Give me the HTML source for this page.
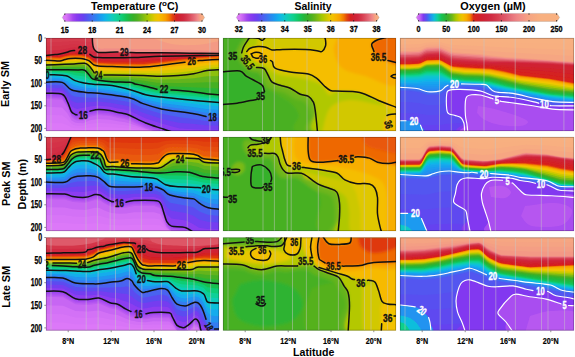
<!DOCTYPE html>
<html><head><meta charset="utf-8"><style>html,body{margin:0;padding:0;background:#fff;width:575px;height:357px;overflow:hidden}svg{display:block}text{font-family:"Liberation Sans",sans-serif}</style></head><body>
<svg width="575" height="357" viewBox="0 0 575 357" font-family="Liberation Sans, sans-serif">
<defs><filter id="bl" x="-5%" y="-5%" width="110%" height="110%"><feGaussianBlur stdDeviation="0.7"/></filter><filter id="bl2" x="-5%" y="-5%" width="110%" height="110%"><feGaussianBlur stdDeviation="1.6"/></filter><filter id="bl3" x="-5%" y="-5%" width="110%" height="110%"><feGaussianBlur stdDeviation="2.5"/></filter></defs>
<rect width="575" height="357" fill="#fff"/>
<text x="91" y="9.6" font-size="10.8" text-anchor="start" font-weight="bold" textLength="87.4" lengthAdjust="spacingAndGlyphs">Temperature (<tspan font-size="8" dy="-3.4">o</tspan><tspan dy="3.4">C)</tspan></text>
<text x="294.5" y="9.6" font-size="10.8" text-anchor="start" font-weight="bold" textLength="37.1" lengthAdjust="spacingAndGlyphs">Salinity</text>
<text x="460.3" y="9.7" font-size="10.8" text-anchor="start" font-weight="bold" textLength="65.4" lengthAdjust="spacingAndGlyphs">Oxygen (µM)</text>
<linearGradient id="g62" x1="62.3" x2="204.6" y1="0" y2="0" gradientUnits="userSpaceOnUse"><stop offset="0.000" stop-color="#de7af8"/><stop offset="0.025" stop-color="#da77f7"/><stop offset="0.050" stop-color="#c160f2"/><stop offset="0.075" stop-color="#a146f0"/><stop offset="0.100" stop-color="#8a3bf0"/><stop offset="0.125" stop-color="#783bf0"/><stop offset="0.150" stop-color="#6543f0"/><stop offset="0.175" stop-color="#5256f0"/><stop offset="0.200" stop-color="#4568f0"/><stop offset="0.225" stop-color="#357bf0"/><stop offset="0.250" stop-color="#248ef0"/><stop offset="0.275" stop-color="#18a0f0"/><stop offset="0.300" stop-color="#12b3ea"/><stop offset="0.325" stop-color="#10c1d6"/><stop offset="0.350" stop-color="#10cbbd"/><stop offset="0.375" stop-color="#10d0a4"/><stop offset="0.400" stop-color="#10d08b"/><stop offset="0.425" stop-color="#10cb6d"/><stop offset="0.450" stop-color="#17c151"/><stop offset="0.475" stop-color="#26b63a"/><stop offset="0.500" stop-color="#38b028"/><stop offset="0.525" stop-color="#4bb022"/><stop offset="0.550" stop-color="#67b51b"/><stop offset="0.575" stop-color="#86be10"/><stop offset="0.600" stop-color="#a5c800"/><stop offset="0.625" stop-color="#c4c800"/><stop offset="0.650" stop-color="#e3c800"/><stop offset="0.675" stop-color="#f4c100"/><stop offset="0.700" stop-color="#f8b200"/><stop offset="0.725" stop-color="#f89f00"/><stop offset="0.750" stop-color="#f27a00"/><stop offset="0.775" stop-color="#e2430e"/><stop offset="0.800" stop-color="#d52020"/><stop offset="0.825" stop-color="#d02132"/><stop offset="0.850" stop-color="#d0273e"/><stop offset="0.875" stop-color="#d5384b"/><stop offset="0.900" stop-color="#dc4f5f"/><stop offset="0.925" stop-color="#e46976"/><stop offset="0.950" stop-color="#f08988"/><stop offset="0.975" stop-color="#f6a882"/><stop offset="1.000" stop-color="#f8b080"/></linearGradient>
<polygon points="62.3,17.6 64.9,13.6 202,13.6 204.6,17.6 202,21.6 64.9,21.6" fill="url(#g62)" stroke="#777" stroke-width="0.4" stroke-opacity="0.6"/>
<line x1="64.8" y1="13.6" x2="64.8" y2="14.9" stroke="#222" stroke-width="0.9"/>
<line x1="64.8" y1="20.3" x2="64.8" y2="21.6" stroke="#222" stroke-width="0.9"/>
<line x1="92.24" y1="13.6" x2="92.24" y2="14.9" stroke="#222" stroke-width="0.9"/>
<line x1="92.24" y1="20.3" x2="92.24" y2="21.6" stroke="#222" stroke-width="0.9"/>
<line x1="119.68" y1="13.6" x2="119.68" y2="14.9" stroke="#222" stroke-width="0.9"/>
<line x1="119.68" y1="20.3" x2="119.68" y2="21.6" stroke="#222" stroke-width="0.9"/>
<line x1="147.12" y1="13.6" x2="147.12" y2="14.9" stroke="#222" stroke-width="0.9"/>
<line x1="147.12" y1="20.3" x2="147.12" y2="21.6" stroke="#222" stroke-width="0.9"/>
<line x1="174.56" y1="13.6" x2="174.56" y2="14.9" stroke="#222" stroke-width="0.9"/>
<line x1="174.56" y1="20.3" x2="174.56" y2="21.6" stroke="#222" stroke-width="0.9"/>
<line x1="202" y1="13.6" x2="202" y2="14.9" stroke="#222" stroke-width="0.9"/>
<line x1="202" y1="20.3" x2="202" y2="21.6" stroke="#222" stroke-width="0.9"/>
<text x="64.8" y="32.6" font-size="9.3" text-anchor="middle" font-weight="bold" textLength="8" lengthAdjust="spacingAndGlyphs" stroke="#000" stroke-width="0.3">15</text>
<text x="92.24" y="32.6" font-size="9.3" text-anchor="middle" font-weight="bold" textLength="8" lengthAdjust="spacingAndGlyphs" stroke="#000" stroke-width="0.3">18</text>
<text x="119.68" y="32.6" font-size="9.3" text-anchor="middle" font-weight="bold" textLength="8" lengthAdjust="spacingAndGlyphs" stroke="#000" stroke-width="0.3">21</text>
<text x="147.12" y="32.6" font-size="9.3" text-anchor="middle" font-weight="bold" textLength="8" lengthAdjust="spacingAndGlyphs" stroke="#000" stroke-width="0.3">24</text>
<text x="174.56" y="32.6" font-size="9.3" text-anchor="middle" font-weight="bold" textLength="8" lengthAdjust="spacingAndGlyphs" stroke="#000" stroke-width="0.3">27</text>
<text x="202" y="32.6" font-size="9.3" text-anchor="middle" font-weight="bold" textLength="8" lengthAdjust="spacingAndGlyphs" stroke="#000" stroke-width="0.3">30</text>
<linearGradient id="g236" x1="236.3" x2="379.2" y1="0" y2="0" gradientUnits="userSpaceOnUse"><stop offset="0.000" stop-color="#de7af8"/><stop offset="0.025" stop-color="#da77f7"/><stop offset="0.050" stop-color="#c160f2"/><stop offset="0.075" stop-color="#a046f0"/><stop offset="0.100" stop-color="#8a3bf0"/><stop offset="0.125" stop-color="#783bf0"/><stop offset="0.150" stop-color="#6543f0"/><stop offset="0.175" stop-color="#5256f0"/><stop offset="0.200" stop-color="#4568f0"/><stop offset="0.225" stop-color="#357bf0"/><stop offset="0.250" stop-color="#248ef0"/><stop offset="0.275" stop-color="#18a0f0"/><stop offset="0.300" stop-color="#12b3ea"/><stop offset="0.325" stop-color="#10c1d6"/><stop offset="0.350" stop-color="#10cbbd"/><stop offset="0.375" stop-color="#10d0a4"/><stop offset="0.400" stop-color="#10d08b"/><stop offset="0.425" stop-color="#10cb6d"/><stop offset="0.450" stop-color="#17c151"/><stop offset="0.475" stop-color="#26b63a"/><stop offset="0.500" stop-color="#38b028"/><stop offset="0.525" stop-color="#4bb022"/><stop offset="0.550" stop-color="#67b51b"/><stop offset="0.575" stop-color="#86be10"/><stop offset="0.600" stop-color="#a5c800"/><stop offset="0.625" stop-color="#c4c800"/><stop offset="0.650" stop-color="#e3c800"/><stop offset="0.675" stop-color="#f4c100"/><stop offset="0.700" stop-color="#f8b200"/><stop offset="0.725" stop-color="#f89f00"/><stop offset="0.750" stop-color="#f27a00"/><stop offset="0.775" stop-color="#e2430e"/><stop offset="0.800" stop-color="#d52020"/><stop offset="0.825" stop-color="#d02132"/><stop offset="0.850" stop-color="#d0273e"/><stop offset="0.875" stop-color="#d5384b"/><stop offset="0.900" stop-color="#dc4f5f"/><stop offset="0.925" stop-color="#e46976"/><stop offset="0.950" stop-color="#f08888"/><stop offset="0.975" stop-color="#f6a882"/><stop offset="1.000" stop-color="#f8b080"/></linearGradient>
<polygon points="236.3,17.4 238.9,13.4 376.6,13.4 379.2,17.4 376.6,21.4 238.9,21.4" fill="url(#g236)" stroke="#777" stroke-width="0.4" stroke-opacity="0.6"/>
<line x1="238.8" y1="13.4" x2="238.8" y2="14.7" stroke="#222" stroke-width="0.9"/>
<line x1="238.8" y1="20.1" x2="238.8" y2="21.4" stroke="#222" stroke-width="0.9"/>
<line x1="261.77" y1="13.4" x2="261.77" y2="14.7" stroke="#222" stroke-width="0.9"/>
<line x1="261.77" y1="20.1" x2="261.77" y2="21.4" stroke="#222" stroke-width="0.9"/>
<line x1="284.74" y1="13.4" x2="284.74" y2="14.7" stroke="#222" stroke-width="0.9"/>
<line x1="284.74" y1="20.1" x2="284.74" y2="21.4" stroke="#222" stroke-width="0.9"/>
<line x1="307.71" y1="13.4" x2="307.71" y2="14.7" stroke="#222" stroke-width="0.9"/>
<line x1="307.71" y1="20.1" x2="307.71" y2="21.4" stroke="#222" stroke-width="0.9"/>
<line x1="330.68" y1="13.4" x2="330.68" y2="14.7" stroke="#222" stroke-width="0.9"/>
<line x1="330.68" y1="20.1" x2="330.68" y2="21.4" stroke="#222" stroke-width="0.9"/>
<line x1="353.65" y1="13.4" x2="353.65" y2="14.7" stroke="#222" stroke-width="0.9"/>
<line x1="353.65" y1="20.1" x2="353.65" y2="21.4" stroke="#222" stroke-width="0.9"/>
<line x1="376.62" y1="13.4" x2="376.62" y2="14.7" stroke="#222" stroke-width="0.9"/>
<line x1="376.62" y1="20.1" x2="376.62" y2="21.4" stroke="#222" stroke-width="0.9"/>
<text x="238.8" y="32.4" font-size="9.3" text-anchor="middle" font-weight="bold" textLength="8" lengthAdjust="spacingAndGlyphs" stroke="#000" stroke-width="0.3">32</text>
<text x="261.77" y="32.4" font-size="9.3" text-anchor="middle" font-weight="bold" textLength="8" lengthAdjust="spacingAndGlyphs" stroke="#000" stroke-width="0.3">33</text>
<text x="284.74" y="32.4" font-size="9.3" text-anchor="middle" font-weight="bold" textLength="8" lengthAdjust="spacingAndGlyphs" stroke="#000" stroke-width="0.3">34</text>
<text x="307.71" y="32.4" font-size="9.3" text-anchor="middle" font-weight="bold" textLength="8" lengthAdjust="spacingAndGlyphs" stroke="#000" stroke-width="0.3">35</text>
<text x="330.68" y="32.4" font-size="9.3" text-anchor="middle" font-weight="bold" textLength="8" lengthAdjust="spacingAndGlyphs" stroke="#000" stroke-width="0.3">36</text>
<text x="353.65" y="32.4" font-size="9.3" text-anchor="middle" font-weight="bold" textLength="8" lengthAdjust="spacingAndGlyphs" stroke="#000" stroke-width="0.3">37</text>
<text x="376.62" y="32.4" font-size="9.3" text-anchor="middle" font-weight="bold" textLength="8" lengthAdjust="spacingAndGlyphs" stroke="#000" stroke-width="0.3">38</text>
<linearGradient id="g416" x1="416.2" x2="559.6" y1="0" y2="0" gradientUnits="userSpaceOnUse"><stop offset="0.000" stop-color="#de7af8"/><stop offset="0.025" stop-color="#c362f2"/><stop offset="0.050" stop-color="#7e39f0"/><stop offset="0.075" stop-color="#4e5af0"/><stop offset="0.100" stop-color="#2390f0"/><stop offset="0.125" stop-color="#10bedb"/><stop offset="0.150" stop-color="#10d099"/><stop offset="0.175" stop-color="#16c255"/><stop offset="0.200" stop-color="#26b63a"/><stop offset="0.225" stop-color="#42b025"/><stop offset="0.250" stop-color="#6db61a"/><stop offset="0.275" stop-color="#a6c800"/><stop offset="0.300" stop-color="#d7c800"/><stop offset="0.325" stop-color="#f3c100"/><stop offset="0.350" stop-color="#f8ad00"/><stop offset="0.375" stop-color="#f38300"/><stop offset="0.400" stop-color="#da2716"/><stop offset="0.425" stop-color="#d52022"/><stop offset="0.450" stop-color="#d1202c"/><stop offset="0.475" stop-color="#d02235"/><stop offset="0.500" stop-color="#d0263c"/><stop offset="0.525" stop-color="#d12c43"/><stop offset="0.550" stop-color="#d5374a"/><stop offset="0.575" stop-color="#d84252"/><stop offset="0.600" stop-color="#dc5060"/><stop offset="0.625" stop-color="#df5b6b"/><stop offset="0.650" stop-color="#e36975"/><stop offset="0.675" stop-color="#e9777e"/><stop offset="0.700" stop-color="#ee8485"/><stop offset="0.725" stop-color="#f18d87"/><stop offset="0.750" stop-color="#f39685"/><stop offset="0.775" stop-color="#f5a083"/><stop offset="0.800" stop-color="#f6a682"/><stop offset="0.825" stop-color="#f7aa81"/><stop offset="0.850" stop-color="#f8ae80"/><stop offset="0.875" stop-color="#f8b080"/><stop offset="0.900" stop-color="#f8b080"/><stop offset="0.925" stop-color="#f8b080"/><stop offset="0.950" stop-color="#f8b080"/><stop offset="0.975" stop-color="#f8b080"/><stop offset="1.000" stop-color="#f8b080"/></linearGradient>
<polygon points="416.2,17.4 418.8,13.4 557,13.4 559.6,17.4 557,21.4 418.8,21.4" fill="url(#g416)" stroke="#777" stroke-width="0.4" stroke-opacity="0.6"/>
<line x1="418.6" y1="13.4" x2="418.6" y2="14.7" stroke="#222" stroke-width="0.9"/>
<line x1="418.6" y1="20.1" x2="418.6" y2="21.4" stroke="#222" stroke-width="0.9"/>
<line x1="446.2" y1="13.4" x2="446.2" y2="14.7" stroke="#222" stroke-width="0.9"/>
<line x1="446.2" y1="20.1" x2="446.2" y2="21.4" stroke="#222" stroke-width="0.9"/>
<line x1="473.8" y1="13.4" x2="473.8" y2="14.7" stroke="#222" stroke-width="0.9"/>
<line x1="473.8" y1="20.1" x2="473.8" y2="21.4" stroke="#222" stroke-width="0.9"/>
<line x1="501.4" y1="13.4" x2="501.4" y2="14.7" stroke="#222" stroke-width="0.9"/>
<line x1="501.4" y1="20.1" x2="501.4" y2="21.4" stroke="#222" stroke-width="0.9"/>
<line x1="529" y1="13.4" x2="529" y2="14.7" stroke="#222" stroke-width="0.9"/>
<line x1="529" y1="20.1" x2="529" y2="21.4" stroke="#222" stroke-width="0.9"/>
<line x1="556.6" y1="13.4" x2="556.6" y2="14.7" stroke="#222" stroke-width="0.9"/>
<line x1="556.6" y1="20.1" x2="556.6" y2="21.4" stroke="#222" stroke-width="0.9"/>
<text x="418.6" y="32.4" font-size="9.3" text-anchor="middle" font-weight="bold" textLength="4" lengthAdjust="spacingAndGlyphs" stroke="#000" stroke-width="0.3">0</text>
<text x="446.2" y="32.4" font-size="9.3" text-anchor="middle" font-weight="bold" textLength="8" lengthAdjust="spacingAndGlyphs" stroke="#000" stroke-width="0.3">50</text>
<text x="473.8" y="32.4" font-size="9.3" text-anchor="middle" font-weight="bold" textLength="12" lengthAdjust="spacingAndGlyphs" stroke="#000" stroke-width="0.3">100</text>
<text x="501.4" y="32.4" font-size="9.3" text-anchor="middle" font-weight="bold" textLength="12" lengthAdjust="spacingAndGlyphs" stroke="#000" stroke-width="0.3">150</text>
<text x="529" y="32.4" font-size="9.3" text-anchor="middle" font-weight="bold" textLength="12" lengthAdjust="spacingAndGlyphs" stroke="#000" stroke-width="0.3">200</text>
<text x="556.6" y="32.4" font-size="9.3" text-anchor="middle" font-weight="bold" textLength="12" lengthAdjust="spacingAndGlyphs" stroke="#000" stroke-width="0.3">250</text>
<clipPath id="c0"><rect x="46" y="38" width="173" height="93"/></clipPath>
<g clip-path="url(#c0)">
<g filter="url(#bl)">
<rect x="44" y="36" width="177" height="97" fill="#d73e4e"/>
<polygon points="45.0,38.0 220.0,38.0 220.0,136.0 45.0,136.0" fill="#d63b4d"/>
<polygon points="45.0,42.4 60.0,42.0 70.5,41.2 74.5,41.1 89.5,42.0 94.0,42.8 98.5,42.9 133.0,42.9 160.0,42.5 220.0,42.3 220.0,136.0 45.0,136.0" fill="#d43649"/>
<polygon points="45.0,46.7 60.0,46.0 67.0,45.1 70.5,44.4 74.5,44.2 89.5,46.1 94.0,47.5 98.5,47.8 133.0,47.8 160.0,47.1 220.0,46.6 220.0,136.0 45.0,136.0" fill="#d33045"/>
<polygon points="45.0,51.0 60.0,50.1 67.0,48.7 70.5,47.7 74.5,47.3 89.5,50.1 94.0,52.3 98.5,52.7 110.0,52.8 133.0,52.6 160.0,51.7 220.0,51.0 220.0,136.0 45.0,136.0" fill="#d12b42"/>
<polygon points="45.0,55.4 60.0,54.1 67.0,52.3 70.5,50.9 74.5,50.4 89.5,54.2 90.0,54.4 93.5,56.9 94.0,57.0 98.5,57.6 110.0,57.8 133.0,57.5 160.0,56.2 220.0,55.3 220.0,136.0 45.0,136.0" fill="#d0263b"/>
<polygon points="45.0,55.8 60.0,55.0 67.0,53.2 70.5,52.0 74.5,51.6 81.0,52.9 89.0,55.0 90.0,55.4 93.5,58.0 98.5,58.9 110.0,59.2 133.0,59.1 143.5,58.7 160.0,57.7 175.0,57.0 198.0,56.1 220.0,55.5 220.0,136.0 45.0,136.0" fill="#d02031"/>
<polygon points="45.0,56.2 60.0,56.0 70.5,53.1 74.5,52.9 81.0,53.7 85.0,54.6 89.5,56.1 94.0,59.4 98.0,60.2 112.0,60.6 133.0,60.6 143.5,60.4 198.0,56.6 220.0,55.8 220.0,136.0 45.0,136.0" fill="#d42022"/>
<polygon points="45.0,56.7 60.0,56.9 65.0,55.4 70.5,54.2 75.0,54.1 81.0,54.5 85.0,55.3 89.5,57.0 93.5,60.3 94.0,60.5 98.0,61.5 112.0,62.0 143.5,62.2 198.0,57.0 220.0,56.0 220.0,136.0 45.0,136.0" fill="#dc2f14"/>
<polygon points="45.0,57.1 60.0,57.8 65.0,56.3 70.5,55.3 81.0,55.3 84.5,56.0 89.0,57.6 93.5,61.4 98.0,62.7 112.0,63.4 143.5,63.9 160.0,62.2 175.0,60.2 198.0,57.5 220.0,56.3 220.0,136.0 45.0,136.0" fill="#e85708"/>
<polygon points="45.0,57.9 60.0,58.6 65.0,57.1 70.5,56.1 81.0,56.1 84.5,56.8 89.0,58.4 93.5,62.2 98.0,63.5 112.0,64.2 143.5,64.7 160.0,63.0 175.0,61.0 198.0,58.3 220.0,57.1 220.0,136.0 45.0,136.0" fill="#f07300"/>
<polygon points="45.0,58.7 60.0,59.4 65.0,57.9 70.5,56.9 81.0,56.9 84.5,57.6 89.0,59.2 93.5,63.0 98.0,64.3 112.0,65.0 143.5,65.5 160.0,63.8 175.0,61.8 198.0,59.1 220.0,57.9 220.0,136.0 45.0,136.0" fill="#f48500"/>
<polygon points="45.0,59.5 60.0,60.2 65.0,58.7 70.5,57.7 81.0,57.7 84.5,58.4 89.0,60.0 93.5,63.8 98.0,65.1 112.0,65.8 143.5,66.3 160.0,64.6 175.0,62.6 198.0,59.9 220.0,58.7 220.0,136.0 45.0,136.0" fill="#f69700"/>
<polygon points="45.0,60.3 60.0,61.0 65.0,59.5 70.5,58.5 81.0,58.5 84.5,59.2 89.0,60.8 93.5,64.6 98.0,65.9 112.0,66.6 143.5,67.1 160.0,65.4 175.0,63.4 198.0,60.7 220.0,59.5 220.0,136.0 45.0,136.0" fill="#f8ac00"/>
<polygon points="45.0,61.5 60.0,61.9 65.0,60.7 70.5,59.9 81.0,59.7 84.5,60.2 89.0,62.1 94.0,66.8 98.5,68.1 112.0,68.7 143.5,69.2 160.0,68.1 192.0,64.6 198.0,63.7 207.0,62.7 220.0,62.0 220.0,136.0 45.0,136.0" fill="#f4c000"/>
<polygon points="45.0,62.7 60.0,62.8 65.0,61.9 70.5,61.3 81.0,61.0 84.5,61.2 89.0,63.3 94.0,68.7 98.5,70.3 104.0,70.6 112.0,70.8 143.5,71.3 160.0,70.8 178.0,69.3 193.5,67.5 207.0,65.3 220.0,64.5 220.0,136.0 45.0,136.0" fill="#dcc800"/>
<polygon points="45.0,63.9 60.0,63.6 70.5,62.7 84.5,62.2 89.0,64.6 94.0,70.6 94.5,70.9 98.5,72.4 104.0,72.8 112.0,73.0 160.0,73.6 178.0,72.5 193.5,70.7 207.0,67.9 220.0,67.1 220.0,136.0 45.0,136.0" fill="#b4c800"/>
<polygon points="45.0,65.1 74.0,63.9 84.5,63.2 89.0,65.9 92.5,70.3 94.0,72.5 94.5,72.9 98.5,74.5 104.0,75.0 143.5,75.5 160.0,76.3 178.0,75.6 193.5,73.8 207.0,70.5 220.0,69.6 220.0,136.0 45.0,136.0" fill="#8cc00c"/>
<polygon points="45.0,66.3 84.5,65.0 89.0,68.1 94.0,74.2 94.5,74.5 98.5,75.9 104.0,76.5 130.0,77.1 143.5,78.0 157.0,79.4 160.0,79.6 178.0,79.3 193.5,78.3 207.0,76.3 220.0,75.9 220.0,136.0 45.0,136.0" fill="#64b41c"/>
<polygon points="45.0,67.4 84.5,66.7 89.0,70.3 92.5,74.5 94.0,75.8 98.5,77.3 104.0,77.9 112.0,78.4 130.0,78.8 135.0,79.6 142.5,80.4 157.0,82.7 178.0,83.0 193.5,82.8 207.0,82.2 220.0,82.2 220.0,136.0 45.0,136.0" fill="#44b024"/>
<polygon points="45.0,68.6 78.0,68.3 84.5,68.4 85.0,68.7 89.0,72.6 92.5,76.7 94.5,77.7 100.5,79.1 112.0,80.0 130.0,80.6 135.0,81.8 142.5,82.9 157.0,85.9 192.5,87.3 208.5,88.1 220.0,88.5 220.0,136.0 45.0,136.0" fill="#2cb434"/>
<polygon points="45.0,69.8 78.0,69.9 84.5,70.2 85.0,70.5 89.0,74.8 92.5,78.8 100.5,80.5 112.0,81.7 130.0,82.3 135.0,83.9 142.5,85.4 150.0,87.5 157.0,89.2 180.0,90.6 192.5,91.7 208.5,94.0 220.0,94.8 220.0,136.0 45.0,136.0" fill="#18c050"/>
<polygon points="45.0,71.1 54.0,71.0 67.5,71.4 75.0,72.6 84.5,73.4 89.0,77.0 92.5,80.1 93.5,80.4 100.5,81.6 130.0,84.2 135.0,85.7 142.5,87.5 150.0,89.5 157.0,91.0 180.0,92.7 192.5,93.8 208.5,95.9 220.0,96.8 220.0,136.0 45.0,136.0" fill="#10cc74"/>
<polygon points="45.0,72.4 54.0,72.2 62.0,72.5 67.5,73.0 75.0,75.2 84.5,76.6 92.5,81.4 93.0,81.6 100.5,82.6 112.0,83.7 130.0,86.0 145.5,90.5 157.0,92.8 192.5,95.9 208.5,97.8 220.0,98.7 220.0,136.0 45.0,136.0" fill="#10d098"/>
<polygon points="45.0,73.7 54.0,73.5 62.0,73.9 67.5,74.6 75.0,77.9 84.5,79.7 92.5,82.8 100.5,83.7 112.0,84.6 130.0,87.9 145.5,92.6 157.0,94.6 208.0,99.6 220.0,100.6 220.0,136.0 45.0,136.0" fill="#10ccb8"/>
<polygon points="45.0,75.0 54.0,74.7 62.0,75.3 67.5,76.2 75.0,80.6 86.0,83.3 93.5,84.2 112.0,85.6 132.0,90.2 146.0,94.8 161.5,97.1 185.0,99.5 220.0,102.6 220.0,136.0 45.0,136.0" fill="#10c0d8"/>
<polygon points="45.0,76.8 54.0,76.6 62.0,77.1 67.5,78.8 71.5,81.3 75.0,83.0 86.0,85.6 93.0,86.4 112.0,88.0 130.0,91.8 145.5,97.1 161.0,100.0 206.0,105.2 220.0,106.3 220.0,136.0 45.0,136.0" fill="#14acec"/>
<polygon points="45.0,78.6 54.0,78.5 62.0,78.8 67.5,81.4 71.5,84.1 75.0,85.5 86.0,87.8 99.0,89.0 112.0,90.4 130.0,93.8 142.5,98.6 145.5,99.5 161.5,103.0 192.5,106.9 206.0,109.0 220.0,110.0 220.0,136.0 45.0,136.0" fill="#2094f0"/>
<polygon points="45.0,80.4 62.0,80.6 67.5,84.0 71.5,86.9 75.0,87.9 86.0,90.1 98.5,91.1 112.0,92.8 130.0,95.9 142.5,101.0 146.0,102.0 161.5,106.0 192.5,110.2 206.0,112.8 220.0,113.7 220.0,136.0 45.0,136.0" fill="#347cf0"/>
<polygon points="45.0,82.2 62.0,82.4 71.5,89.7 86.0,92.4 99.0,93.3 130.0,97.9 142.5,103.4 161.5,108.9 192.5,113.6 206.0,116.6 220.0,117.4 220.0,136.0 45.0,136.0" fill="#4864f0"/>
<polygon points="45.0,85.0 62.0,85.3 62.5,85.6 67.5,90.5 71.5,95.2 75.0,96.4 77.0,96.8 86.0,97.4 99.0,97.4 110.0,98.9 125.0,101.3 130.0,102.3 142.5,107.9 161.5,113.8 180.0,117.3 192.5,118.7 206.0,120.9 220.0,121.6 220.0,136.0 45.0,136.0" fill="#5c4cf0"/>
<polygon points="45.0,87.8 62.0,88.3 62.5,88.6 67.5,94.4 71.5,100.7 75.0,102.3 77.0,102.8 98.5,101.5 110.0,102.8 125.0,105.5 130.0,106.7 142.5,112.4 146.0,113.8 161.5,118.7 170.5,120.9 180.0,122.9 192.5,123.8 206.0,125.3 220.0,125.7 220.0,136.0 45.0,136.0" fill="#743cf0"/>
<polygon points="45.0,90.5 62.0,91.2 62.5,91.6 67.5,98.2 71.5,106.2 75.0,108.3 77.0,108.9 90.0,106.6 98.5,105.5 110.0,106.7 118.0,108.4 125.0,109.6 130.0,111.1 146.0,118.4 161.5,123.6 170.5,126.1 180.0,128.4 206.0,129.7 220.0,129.8 220.0,136.0 45.0,136.0" fill="#8c3cf0"/>
<polygon points="45.0,93.3 62.0,94.2 62.5,94.6 67.5,102.1 71.5,111.7 75.0,114.3 77.0,114.9 90.0,111.2 98.5,109.6 110.0,110.6 118.0,112.5 125.0,113.8 130.0,115.5 146.0,123.1 170.5,131.4 180.0,134.0 220.0,134.0 220.0,136.0 45.0,136.0" fill="#9d44f0"/>
<polygon points="45.0,94.7 62.0,95.6 62.5,96.0 67.5,103.5 71.5,113.0 75.0,115.7 77.0,116.3 83.0,115.1 90.0,112.6 98.5,111.0 110.0,112.0 118.0,113.9 125.0,115.2 130.0,116.9 146.0,124.5 170.5,132.8 180.0,135.4 220.0,135.4 220.0,136.0 45.0,136.0" fill="#a74bf0"/>
<polygon points="45.0,96.0 62.0,96.9 62.5,97.4 67.5,104.9 71.5,114.4 75.0,117.0 77.0,117.7 83.0,116.9 90.0,114.0 98.5,112.4 110.0,113.3 118.0,115.2 125.0,116.5 130.0,118.2 146.0,125.9 170.5,134.2 180.0,136.8 220.0,136.8 220.0,136.0 45.0,136.0" fill="#b153f0"/>
<polygon points="45.0,97.4 62.0,98.3 62.5,98.8 67.5,106.2 71.5,115.8 75.0,118.4 77.0,119.0 83.0,118.8 90.0,115.3 98.5,113.8 110.0,114.7 118.0,116.6 125.0,117.9 130.0,119.6 146.0,127.2 170.5,135.6 180.0,138.1 220.0,138.1 220.0,136.0 45.0,136.0" fill="#bb5bf1"/>
<polygon points="45.0,98.8 62.0,99.7 62.5,100.1 67.5,107.6 71.5,117.2 75.0,119.8 77.0,120.4 83.0,120.7 90.0,116.7 98.5,115.1 110.0,116.1 118.0,118.0 125.0,119.3 130.0,121.0 146.0,128.6 170.5,136.9 180.0,139.5 220.0,139.5 220.0,136.0 45.0,136.0" fill="#c766f3"/>
<polygon points="45.0,106.8 62.0,107.5 62.5,107.9 67.5,113.5 71.5,120.6 75.0,122.6 77.0,123.1 83.0,123.3 90.0,120.3 98.5,119.1 110.0,119.8 118.0,121.2 125.0,122.2 130.0,123.5 145.5,129.1 153.0,131.0 170.5,136.9 180.0,139.5 220.0,139.5 220.0,136.0 45.0,136.0" fill="#d371f6"/>
<polygon points="45.0,114.9 62.0,115.3 67.5,119.3 71.5,124.1 75.0,125.4 77.0,125.7 83.0,125.8 90.0,123.8 98.5,123.1 110.0,123.5 125.0,125.2 130.0,126.0 145.5,129.7 153.0,131.0 170.5,136.9 180.0,139.5 220.0,139.5 220.0,136.0 45.0,136.0" fill="#d875f7"/>
<polygon points="45.0,123.0 62.0,123.2 67.5,125.2 71.5,127.5 75.0,128.2 77.0,128.3 83.0,128.4 90.0,127.4 98.5,127.0 110.0,127.3 130.0,128.5 145.5,130.4 152.5,131.0 170.5,136.9 180.0,139.5 220.0,139.5 220.0,136.0 45.0,136.0" fill="#dc78f8"/>
<path d="M92.30,36.00 C92.33,37.00 92.38,40.33 92.50,42.00 C92.62,43.67 92.73,44.82 93.00,46.00 C93.27,47.18 93.45,48.12 94.10,49.10 C94.75,50.08 95.92,51.32 96.90,51.90 C97.88,52.48 97.82,52.55 100.00,52.60 C102.18,52.65 103.33,52.18 110.00,52.20 C116.67,52.22 131.67,52.60 140.00,52.70 C148.33,52.80 151.67,52.72 160.00,52.80 C168.33,52.88 179.83,53.07 190.00,53.20 C200.17,53.33 215.83,56.47 221.00,53.60 C226.17,50.73 221.00,38.93 221.00,36.00 Z" fill="#f18c87"/>
<path d="M95.00,36.00 C95.08,37.00 95.17,40.33 95.50,42.00 C95.83,43.67 96.25,44.92 97.00,46.00 C97.75,47.08 97.83,48.08 100.00,48.50 C102.17,48.92 103.33,48.42 110.00,48.50 C116.67,48.58 131.67,48.87 140.00,49.00 C148.33,49.13 151.67,49.17 160.00,49.30 C168.33,49.43 179.83,49.68 190.00,49.80 C200.17,49.92 215.83,52.30 221.00,50.00 C226.17,47.70 221.00,38.33 221.00,36.00 Z" fill="#f49a84"/>
<path d="M150.00,36.00 C151.33,36.67 153.83,38.58 158.00,40.00 C162.17,41.42 168.83,43.67 175.00,44.50 C181.17,45.33 189.17,45.25 195.00,45.00 C200.83,44.75 205.67,43.83 210.00,43.00 C214.33,42.17 219.17,41.17 221.00,40.00 C222.83,38.83 221.00,36.67 221.00,36.00 Z" fill="#f6a582"/>
</g>
<line x1="51" y1="38" x2="51" y2="131" stroke="#c8c8c8" stroke-opacity="0.65" stroke-width="0.75"/>
<line x1="85.5" y1="38" x2="85.5" y2="131" stroke="#c8c8c8" stroke-opacity="0.65" stroke-width="0.75"/>
<line x1="97.3" y1="38" x2="97.3" y2="131" stroke="#c8c8c8" stroke-opacity="0.65" stroke-width="0.75"/>
<line x1="130" y1="38" x2="130" y2="131" stroke="#c8c8c8" stroke-opacity="0.65" stroke-width="0.75"/>
<line x1="161.2" y1="38" x2="161.2" y2="131" stroke="#c8c8c8" stroke-opacity="0.65" stroke-width="0.75"/>
<line x1="209.9" y1="38" x2="209.9" y2="131" stroke="#c8c8c8" stroke-opacity="0.65" stroke-width="0.75"/>
<path d="M46.00,55.40 C47.50,55.27 52.67,54.82 55.00,54.60 C57.33,54.38 58.00,54.48 60.00,54.10 C62.00,53.72 65.27,52.83 67.00,52.30 C68.73,51.77 69.13,51.22 70.40,50.90 C71.67,50.58 73.90,50.48 74.60,50.40" fill="none" stroke="#111" stroke-width="1.5" stroke-linecap="round" stroke-linejoin="round"/>
<path d="M89.90,54.30 C90.53,54.75 92.32,56.45 93.70,57.00 C95.08,57.55 95.48,57.47 98.20,57.60 C100.92,57.73 104.20,57.82 110.00,57.80 C115.80,57.78 124.67,57.77 133.00,57.50 C141.33,57.23 150.50,56.48 160.00,56.20 C169.50,55.92 180.00,55.95 190.00,55.80 C200.00,55.65 215.00,55.38 220.00,55.30" fill="none" stroke="#111" stroke-width="1.5" stroke-linecap="round" stroke-linejoin="round"/>
<path d="M92.30,37.00 C92.33,37.83 92.38,40.50 92.50,42.00 C92.62,43.50 92.73,44.82 93.00,46.00 C93.27,47.18 93.45,48.12 94.10,49.10 C94.75,50.08 95.92,51.32 96.90,51.90 C97.88,52.48 97.82,52.55 100.00,52.60 C102.18,52.65 107.00,52.28 110.00,52.20 C113.00,52.12 116.67,52.12 118.00,52.10" fill="none" stroke="#111" stroke-width="1.5" stroke-linecap="round" stroke-linejoin="round"/>
<path d="M130.00,52.40 C131.67,52.45 135.00,52.63 140.00,52.70 C145.00,52.77 151.67,52.72 160.00,52.80 C168.33,52.88 180.00,53.07 190.00,53.20 C200.00,53.33 215.00,53.53 220.00,53.60" fill="none" stroke="#111" stroke-width="1.5" stroke-linecap="round" stroke-linejoin="round"/>
<path d="M46.00,60.30 C47.50,60.38 52.67,60.68 55.00,60.80 C57.33,60.92 58.33,61.22 60.00,61.00 C61.67,60.78 63.27,59.92 65.00,59.50 C66.73,59.08 67.75,58.67 70.40,58.50 C73.05,58.33 78.52,58.38 80.90,58.50 C83.28,58.62 83.32,58.80 84.70,59.20 C86.08,59.60 87.70,59.97 89.20,60.90 C90.70,61.83 92.20,63.95 93.70,64.80 C95.20,65.65 95.15,65.70 98.20,66.00 C101.25,66.30 104.43,66.42 112.00,66.60 C119.57,66.78 135.60,67.30 143.60,67.10 C151.60,66.90 154.77,66.02 160.00,65.40 C165.23,64.78 170.83,63.93 175.00,63.40 C179.17,62.87 183.33,62.40 185.00,62.20" fill="none" stroke="#111" stroke-width="1.5" stroke-linecap="round" stroke-linejoin="round"/>
<path d="M198.00,60.70 C199.17,60.62 201.33,60.40 205.00,60.20 C208.67,60.00 217.50,59.62 220.00,59.50" fill="none" stroke="#111" stroke-width="1.5" stroke-linecap="round" stroke-linejoin="round"/>
<path d="M46.00,65.10 C48.33,65.00 55.33,64.70 60.00,64.50 C64.67,64.30 69.88,64.12 74.00,63.90 C78.12,63.68 82.17,62.85 84.70,63.20 C87.23,63.55 87.88,64.80 89.20,66.00 C90.52,67.20 91.77,69.27 92.60,70.40 C93.43,71.53 93.93,72.40 94.20,72.80" fill="none" stroke="#111" stroke-width="1.5" stroke-linecap="round" stroke-linejoin="round"/>
<path d="M104.00,75.00 C105.33,75.02 105.40,75.02 112.00,75.10 C118.60,75.18 135.60,75.30 143.60,75.50 C151.60,75.70 154.27,76.28 160.00,76.30 C165.73,76.32 172.40,76.02 178.00,75.60 C183.60,75.18 188.77,74.65 193.60,73.80 C198.43,72.95 202.60,71.20 207.00,70.50 C211.40,69.80 217.83,69.75 220.00,69.60" fill="none" stroke="#111" stroke-width="1.5" stroke-linecap="round" stroke-linejoin="round"/>
<path d="M46.00,69.80 C48.33,69.80 54.67,69.78 60.00,69.80 C65.33,69.82 73.88,69.83 78.00,69.90 C82.12,69.97 82.83,69.35 84.70,70.20 C86.57,71.05 87.88,73.55 89.20,75.00 C90.52,76.45 90.73,77.98 92.60,78.90 C94.47,79.82 97.17,80.03 100.40,80.50 C103.63,80.97 107.07,81.40 112.00,81.70 C116.93,82.00 126.17,81.93 130.00,82.30 C133.83,82.67 132.92,83.38 135.00,83.90 C137.08,84.42 140.00,84.80 142.50,85.40 C145.00,86.00 147.58,86.87 150.00,87.50 C152.42,88.13 155.83,88.92 157.00,89.20" fill="none" stroke="#111" stroke-width="1.5" stroke-linecap="round" stroke-linejoin="round"/>
<path d="M171.00,90.00 C172.50,90.10 176.40,90.32 180.00,90.60 C183.60,90.88 187.88,91.13 192.60,91.70 C197.32,92.27 203.73,93.48 208.30,94.00 C212.87,94.52 218.05,94.67 220.00,94.80" fill="none" stroke="#111" stroke-width="1.5" stroke-linecap="round" stroke-linejoin="round"/>
<path d="M50.00,74.80 C50.67,74.78 51.95,74.62 54.00,74.70 C56.05,74.78 60.02,75.05 62.30,75.30 C64.58,75.55 65.58,75.32 67.70,76.20 C69.82,77.08 71.95,79.42 75.00,80.60 C78.05,81.78 82.97,82.70 86.00,83.30 C89.03,83.90 88.87,83.82 93.20,84.20 C97.53,84.58 105.53,84.60 112.00,85.60 C118.47,86.60 126.38,88.67 132.00,90.20 C137.62,91.73 140.82,93.65 145.70,94.80 C150.58,95.95 154.78,96.32 161.30,97.10 C167.82,97.88 175.02,98.58 184.80,99.50 C194.58,100.42 214.13,102.08 220.00,102.60" fill="none" stroke="#111" stroke-width="1.5" stroke-linecap="round" stroke-linejoin="round"/>
<path d="M46.00,82.20 C48.70,82.23 57.98,81.15 62.20,82.40 C66.42,83.65 67.33,88.03 71.30,89.70 C75.27,91.37 81.43,91.80 86.00,92.40 C90.57,93.00 91.37,92.38 98.70,93.30 C106.03,94.22 122.70,96.22 130.00,97.90 C137.30,99.58 137.28,101.57 142.50,103.40 C147.72,105.23 152.95,107.20 161.30,108.90 C169.65,110.60 185.15,112.32 192.60,113.60 C200.05,114.88 203.77,116.10 206.00,116.60" fill="none" stroke="#111" stroke-width="1.5" stroke-linecap="round" stroke-linejoin="round"/>
<path d="M46.00,93.30 C48.70,93.45 58.58,92.68 62.20,94.20 C65.82,95.72 66.18,99.52 67.70,102.40 C69.22,105.28 70.08,109.52 71.30,111.50 C72.52,113.48 74.05,113.73 75.00,114.30 C75.95,114.87 76.67,114.80 77.00,114.90" fill="none" stroke="#111" stroke-width="1.5" stroke-linecap="round" stroke-linejoin="round"/>
<path d="M90.00,111.20 C91.45,110.93 95.37,109.70 98.70,109.60 C102.03,109.50 106.78,110.12 110.00,110.60 C113.22,111.08 115.50,111.97 118.00,112.50 C120.50,113.03 123.00,113.30 125.00,113.80 C127.00,114.30 126.55,113.97 130.00,115.50 C133.45,117.03 140.48,120.85 145.70,123.00 C150.92,125.15 157.13,126.98 161.30,128.40 C165.47,129.82 167.58,130.57 170.70,131.50 C173.82,132.43 178.45,133.58 180.00,134.00" fill="none" stroke="#111" stroke-width="1.5" stroke-linecap="round" stroke-linejoin="round"/>
<text x="82.4" y="54.205" font-size="11" fill="#111" stroke="#111" stroke-width="0.35" text-anchor="middle" font-weight="bold" textLength="9.2" lengthAdjust="spacingAndGlyphs">28</text>
<text x="124.2" y="56.305" font-size="11" fill="#111" stroke="#111" stroke-width="0.35" text-anchor="middle" font-weight="bold" textLength="8.6" lengthAdjust="spacingAndGlyphs">29</text>
<text x="191.8" y="65.105" font-size="11" fill="#111" stroke="#111" stroke-width="0.35" text-anchor="middle" font-weight="bold" textLength="8.4" lengthAdjust="spacingAndGlyphs">26</text>
<text x="98.4" y="78.905" font-size="11" fill="#111" stroke="#111" stroke-width="0.35" text-anchor="middle" font-weight="bold" textLength="7.6" lengthAdjust="spacingAndGlyphs">24</text>
<text x="164" y="93.405" font-size="11" fill="#111" stroke="#111" stroke-width="0.35" text-anchor="middle" font-weight="bold" textLength="8.6" lengthAdjust="spacingAndGlyphs">22</text>
<text x="212.6" y="120.605" font-size="11" fill="#111" stroke="#111" stroke-width="0.35" text-anchor="middle" font-weight="bold" textLength="8.6" lengthAdjust="spacingAndGlyphs">18</text>
<text x="83.2" y="119.105" font-size="11" fill="#111" stroke="#111" stroke-width="0.35" text-anchor="middle" font-weight="bold" textLength="9.1" lengthAdjust="spacingAndGlyphs">16</text>
<text x="47.4" y="78.905" font-size="11" fill="#111" stroke="#111" stroke-width="0.35" text-anchor="middle" font-weight="bold" textLength="4.2" lengthAdjust="spacingAndGlyphs">0</text>
</g>
<clipPath id="c1"><rect x="46" y="137" width="173" height="94"/></clipPath>
<g clip-path="url(#c1)">
<g filter="url(#bl)">
<rect x="44" y="135" width="177" height="98" fill="#d6394b"/>
<polygon points="45.0,137.0 220.0,137.0 220.0,236.0 45.0,236.0" fill="#d5374a"/>
<polygon points="45.0,142.7 56.0,142.4 62.0,141.4 64.0,140.8 71.0,137.0 220.0,137.0 220.0,236.0 45.0,236.0" fill="#d43247"/>
<polygon points="45.0,148.3 56.0,147.8 62.0,145.8 64.0,144.5 67.5,141.0 71.0,137.0 220.0,137.0 220.0,236.0 45.0,236.0" fill="#d22e44"/>
<polygon points="45.0,153.9 56.0,153.2 62.0,150.1 64.0,148.2 67.5,143.0 71.0,137.0 220.0,137.0 220.0,236.0 45.0,236.0" fill="#d12a41"/>
<polygon points="45.0,159.6 56.0,158.6 62.0,154.5 64.0,152.0 67.5,145.0 71.0,137.0 220.0,137.0 220.0,236.0 45.0,236.0" fill="#d0263c"/>
<polygon points="45.0,160.0 56.0,159.0 62.0,154.9 64.0,152.5 67.5,145.6 71.0,137.6 72.5,137.0 220.0,137.0 220.0,236.0 45.0,236.0" fill="#d02133"/>
<polygon points="45.0,160.4 56.0,159.4 62.0,155.4 64.0,153.0 67.5,146.2 70.5,139.0 71.0,138.1 72.5,137.0 220.0,137.0 220.0,236.0 45.0,236.0" fill="#d32027"/>
<polygon points="45.0,160.8 56.0,159.8 62.0,155.9 64.0,153.5 67.5,146.9 70.5,139.5 72.5,137.0 220.0,137.0 220.0,236.0 45.0,236.0" fill="#d7201a"/>
<polygon points="45.0,161.2 56.0,160.2 62.0,156.3 64.0,154.0 67.5,147.5 70.5,140.0 72.5,137.0 220.0,137.0 220.0,236.0 45.0,236.0" fill="#df3611"/>
<polygon points="45.0,161.2 56.0,160.2 62.0,157.1 64.0,155.3 67.5,149.1 70.5,142.2 71.0,141.5 72.5,139.6 75.5,139.2 80.0,139.0 97.5,139.0 101.5,139.5 104.0,140.0 107.0,141.8 109.5,142.6 118.0,142.5 131.5,142.9 150.5,143.0 157.0,142.8 159.0,142.6 162.5,141.5 166.5,140.7 172.5,140.4 189.5,140.5 197.5,140.9 203.5,141.7 220.0,142.1 220.0,236.0 45.0,236.0" fill="#e2420e"/>
<polygon points="45.0,161.2 56.0,160.2 62.0,157.9 64.0,156.6 67.5,150.8 70.5,144.3 72.5,142.2 76.0,141.4 80.0,141.1 98.0,141.1 101.5,141.9 104.0,143.0 107.0,146.6 109.0,148.0 109.5,148.1 118.0,148.0 131.5,148.8 150.5,148.9 157.0,148.6 159.0,148.1 162.5,146.0 166.5,144.3 172.5,143.8 189.5,143.9 197.5,144.7 203.5,146.4 220.0,147.1 220.0,236.0 45.0,236.0" fill="#e64e0a"/>
<polygon points="45.0,161.2 56.0,160.2 62.0,158.7 64.0,157.9 67.5,152.4 70.5,146.5 71.0,145.9 72.5,144.8 75.5,143.7 80.0,143.1 86.0,142.9 97.5,142.9 98.0,143.1 101.5,144.4 104.0,145.9 107.0,151.4 109.0,153.4 109.5,153.6 118.0,153.5 131.5,154.8 150.5,154.9 157.0,154.3 159.0,153.6 162.5,150.4 166.5,148.0 172.5,147.1 189.5,147.4 197.5,148.6 203.5,151.1 220.0,152.1 220.0,236.0 45.0,236.0" fill="#e95a07"/>
<polygon points="45.0,161.2 58.0,160.0 64.0,159.2 67.5,154.0 70.5,148.7 71.0,148.2 76.0,145.8 80.0,145.1 85.5,144.9 97.5,144.9 101.5,146.8 104.0,148.9 107.0,156.2 109.0,158.9 109.5,159.2 118.0,159.0 131.5,160.7 150.5,160.9 157.0,160.1 159.0,159.2 162.5,154.9 166.5,151.7 172.5,150.5 189.5,150.8 197.5,152.5 203.5,155.8 220.0,157.2 220.0,236.0 45.0,236.0" fill="#ef6c01"/>
<polygon points="45.0,161.7 58.0,160.8 64.0,159.9 67.5,154.8 70.5,149.4 71.0,148.9 76.0,146.5 80.0,145.8 85.5,145.7 97.5,145.7 101.5,147.6 104.0,149.7 107.0,157.0 109.0,159.7 109.5,159.9 118.0,159.8 131.5,161.4 150.5,161.6 157.0,160.9 159.0,159.9 162.5,155.7 166.5,152.4 172.5,151.3 189.5,151.6 197.5,153.2 203.5,156.6 220.0,157.9 220.0,236.0 45.0,236.0" fill="#f27c00"/>
<polygon points="45.0,162.2 58.0,161.5 64.0,160.7 67.5,155.5 70.5,150.2 71.0,149.7 76.0,147.3 80.0,146.6 86.0,146.4 97.5,146.4 101.5,148.3 104.0,150.4 107.0,157.7 109.0,160.4 109.5,160.7 118.0,160.5 131.5,162.2 150.5,162.4 157.0,161.6 159.0,160.7 162.5,156.4 166.5,153.2 172.5,152.0 189.5,152.3 197.5,154.0 203.5,157.3 220.0,158.7 220.0,236.0 45.0,236.0" fill="#f48a00"/>
<polygon points="45.0,162.7 58.0,162.2 64.0,161.4 67.5,156.3 70.5,150.9 71.0,150.4 76.0,148.0 80.0,147.3 86.0,147.2 97.5,147.2 101.5,149.1 104.0,151.2 107.0,158.5 109.0,161.2 109.5,161.4 118.0,161.2 131.5,162.9 150.5,163.1 157.0,162.4 159.0,161.4 162.5,157.2 166.5,153.9 172.5,152.8 189.5,153.1 197.5,154.7 203.5,158.1 220.0,159.4 220.0,236.0 45.0,236.0" fill="#f79900"/>
<polygon points="45.0,163.2 58.0,163.0 64.0,162.2 67.5,157.0 70.5,151.7 71.0,151.2 76.0,148.8 80.0,148.1 86.0,147.9 97.5,147.9 101.5,149.8 104.0,151.9 107.0,159.2 109.0,161.9 109.5,162.2 118.0,162.0 131.5,163.7 150.5,163.9 157.0,163.1 159.0,162.2 162.5,157.9 166.5,154.7 172.5,153.5 189.5,153.8 197.5,155.5 203.5,158.8 220.0,160.2 220.0,236.0 45.0,236.0" fill="#f8ac00"/>
<polygon points="45.0,163.8 58.0,163.7 64.0,162.8 67.5,157.9 70.5,152.7 71.0,152.1 76.0,149.7 80.0,149.1 86.0,148.9 96.0,148.9 97.5,149.1 101.0,150.9 104.0,153.9 106.5,160.3 109.0,163.0 109.5,163.2 118.0,163.2 131.5,164.7 150.5,164.9 157.0,164.4 159.0,163.7 162.5,160.0 166.5,157.0 171.5,155.4 174.0,155.0 186.0,154.8 189.5,155.0 197.5,156.3 198.5,156.7 203.5,159.5 204.0,159.6 220.0,160.9 220.0,236.0 45.0,236.0" fill="#f4c000"/>
<polygon points="45.0,164.4 58.0,164.3 64.0,163.3 67.5,158.8 71.0,153.1 76.0,150.6 80.0,150.1 88.0,149.9 96.0,149.9 97.5,150.3 101.0,152.2 104.0,156.0 106.0,161.7 107.0,162.8 109.0,164.2 109.5,164.3 118.0,164.4 131.5,165.8 150.0,166.0 157.0,165.6 159.0,165.1 162.5,162.1 166.5,159.4 171.5,157.1 174.0,156.6 186.0,155.9 189.5,156.1 198.0,157.2 203.5,160.2 204.5,160.5 220.0,161.6 220.0,236.0 45.0,236.0" fill="#dcc800"/>
<polygon points="45.0,165.1 58.0,164.9 64.0,163.9 67.5,159.6 71.0,154.0 76.0,151.5 80.0,151.1 88.0,150.8 96.0,151.0 100.5,153.1 101.0,153.5 104.0,158.0 106.0,164.0 107.0,164.6 109.5,165.3 118.0,165.6 131.5,166.8 150.0,167.0 157.5,166.8 159.0,166.6 166.5,161.8 172.0,158.7 174.0,158.1 186.0,157.0 189.5,157.2 198.5,158.1 204.5,161.4 220.0,162.3 220.0,236.0 45.0,236.0" fill="#b4c800"/>
<polygon points="45.0,165.7 58.0,165.6 64.0,164.5 67.5,160.5 71.0,155.0 76.0,152.4 88.0,151.8 96.0,152.0 101.0,154.8 104.0,160.0 106.0,166.4 113.0,166.4 130.0,167.8 159.0,168.1 165.5,164.8 171.5,160.6 174.0,159.6 186.0,158.1 198.5,158.8 204.5,162.2 220.0,163.0 220.0,236.0 45.0,236.0" fill="#8cc00c"/>
<polygon points="45.0,166.7 58.0,166.6 64.0,165.5 67.5,161.5 71.0,156.3 76.0,153.4 80.0,153.0 88.0,152.7 96.0,153.4 100.0,155.3 101.0,156.4 104.0,162.0 106.0,167.1 113.0,167.2 130.0,168.5 159.0,169.3 165.5,166.8 171.5,163.5 174.0,162.7 186.0,161.6 189.5,161.8 198.5,162.9 204.5,165.8 220.0,166.8 220.0,236.0 45.0,236.0" fill="#64b41c"/>
<polygon points="45.0,167.6 58.0,167.5 64.0,166.5 67.5,162.5 71.0,157.6 72.0,156.7 76.0,154.5 77.0,154.2 80.0,153.9 85.0,153.6 89.5,153.6 96.0,154.7 100.0,156.5 101.0,158.0 104.5,165.3 106.0,167.7 113.0,168.0 130.0,169.2 159.0,170.6 165.5,168.7 171.5,166.4 174.0,165.8 186.0,165.1 189.5,165.3 198.5,167.0 202.5,168.8 204.5,169.4 220.0,170.6 220.0,236.0 45.0,236.0" fill="#44b024"/>
<polygon points="45.0,168.6 58.0,168.4 64.0,167.5 67.5,163.5 71.0,158.9 72.0,157.9 76.0,155.6 77.0,155.1 80.0,154.8 85.0,154.5 89.5,154.4 96.0,156.1 100.0,157.6 104.5,167.1 106.0,168.4 159.0,171.8 174.0,168.9 180.0,168.7 189.0,168.8 198.5,171.1 202.5,172.6 204.5,173.1 220.0,174.4 220.0,236.0 45.0,236.0" fill="#2cb434"/>
<polygon points="45.0,169.6 58.0,169.4 64.0,168.5 68.0,164.0 72.0,159.0 77.0,156.0 85.0,155.3 89.5,155.3 100.0,158.8 104.0,168.2 104.5,168.9 110.0,169.5 130.0,170.6 159.0,173.1 176.0,171.8 189.0,172.3 202.5,176.4 220.0,178.2 220.0,236.0 45.0,236.0" fill="#18c050"/>
<polygon points="45.0,170.4 58.0,170.2 64.0,169.4 68.0,165.0 72.0,160.2 76.0,157.8 77.0,157.3 80.0,157.0 85.0,156.7 88.0,156.7 89.5,156.9 95.0,158.8 100.0,160.9 104.0,169.1 104.5,169.8 108.0,170.5 153.5,174.0 159.0,174.9 165.5,175.6 176.0,175.5 189.0,176.0 203.0,179.5 212.5,180.5 220.0,181.1 220.0,236.0 45.0,236.0" fill="#10cc74"/>
<polygon points="45.0,171.3 58.0,171.1 64.0,170.2 72.0,161.5 76.0,159.1 77.0,158.7 80.0,158.3 88.0,158.2 89.5,158.5 95.0,160.5 100.0,162.9 104.0,170.1 104.5,170.6 108.0,171.6 113.0,171.8 130.0,173.6 153.5,175.4 166.0,178.7 189.5,179.8 197.5,181.2 203.0,182.4 212.5,183.5 220.0,183.9 220.0,236.0 45.0,236.0" fill="#10d098"/>
<polygon points="45.0,172.2 58.0,172.0 64.0,171.1 72.0,162.8 76.0,160.3 80.0,159.6 88.0,159.6 95.0,162.2 100.0,164.9 104.0,171.0 104.5,171.4 108.0,172.8 113.0,172.9 130.0,175.0 153.5,176.8 159.0,178.6 166.0,181.7 176.0,182.9 189.5,183.5 197.5,184.4 203.0,185.4 212.5,186.6 220.0,186.8 220.0,236.0 45.0,236.0" fill="#10ccb8"/>
<polygon points="45.0,173.0 58.0,172.8 64.0,172.0 72.0,164.0 76.0,161.5 80.0,160.9 88.0,161.0 95.0,163.9 100.0,167.0 104.0,172.0 108.0,174.0 113.0,174.0 130.0,176.5 154.0,178.2 159.0,180.4 165.5,184.6 175.5,186.5 197.5,187.6 212.5,189.6 220.0,189.7 220.0,236.0 45.0,236.0" fill="#10c0d8"/>
<polygon points="45.0,175.2 58.0,175.1 64.0,174.5 72.0,167.5 76.0,165.3 80.0,164.7 88.0,164.7 95.0,167.1 98.5,168.9 100.0,169.9 104.0,174.4 108.0,176.8 109.5,177.1 113.0,177.1 130.0,179.1 154.0,180.4 159.0,182.3 165.5,186.4 170.0,187.9 176.0,189.0 194.0,190.3 208.5,193.7 212.5,194.3 220.0,194.6 220.0,236.0 45.0,236.0" fill="#14acec"/>
<polygon points="45.0,177.5 58.0,177.5 64.0,177.1 65.0,176.5 71.5,171.3 76.0,169.1 80.0,168.6 88.0,168.4 90.5,168.9 95.0,170.3 98.5,171.8 100.0,172.8 104.0,176.9 108.0,179.5 109.5,180.1 130.0,181.8 142.5,182.0 154.0,182.6 157.0,183.4 159.0,184.2 163.5,186.7 166.0,188.4 170.0,190.3 176.0,191.4 186.0,192.6 193.5,193.1 200.5,195.9 208.0,198.3 212.5,198.9 220.0,199.5 220.0,236.0 45.0,236.0" fill="#2094f0"/>
<polygon points="45.0,179.8 58.0,179.8 64.0,179.6 65.0,179.3 71.0,174.9 76.0,172.9 77.5,172.5 80.0,172.4 88.0,172.2 90.0,172.3 95.0,173.5 98.5,174.7 100.0,175.8 104.0,179.3 108.0,182.3 109.5,183.2 117.5,183.9 130.0,184.4 142.5,184.3 153.5,184.7 155.5,185.0 157.5,185.5 163.5,188.5 166.0,190.2 170.0,192.6 176.0,193.8 185.5,195.3 193.5,196.0 200.5,199.9 208.0,202.9 220.0,204.4 220.0,236.0 45.0,236.0" fill="#347cf0"/>
<polygon points="45.0,182.0 64.5,182.2 71.0,178.3 77.5,176.3 90.5,175.8 98.5,177.6 109.5,186.2 117.5,187.0 130.0,187.0 142.5,186.6 155.5,187.0 157.0,187.2 163.5,190.2 170.0,195.0 185.5,198.0 193.5,198.9 194.0,199.1 200.0,203.6 208.0,207.6 220.0,209.3 220.0,236.0 45.0,236.0" fill="#4864f0"/>
<polygon points="45.0,184.9 64.5,185.2 71.0,182.7 77.5,181.4 85.5,181.3 90.5,180.8 95.0,181.2 98.5,181.9 100.0,182.8 109.0,189.5 109.5,189.8 111.0,190.1 117.5,190.7 126.0,190.8 134.0,190.3 142.5,190.1 153.5,190.3 155.5,190.5 157.0,190.8 160.5,192.5 163.5,195.6 167.0,200.0 170.0,202.4 171.5,203.0 185.5,205.4 193.5,207.3 200.0,211.7 208.0,214.7 220.0,216.0 220.0,236.0 45.0,236.0" fill="#5c4cf0"/>
<polygon points="45.0,187.9 64.5,188.1 71.0,187.1 73.0,187.1 77.5,186.6 85.5,186.6 90.5,185.8 95.0,185.6 98.0,186.1 99.5,186.6 109.5,193.4 111.0,193.8 113.5,194.2 117.5,194.5 126.0,194.6 134.0,193.7 142.5,193.6 154.0,193.7 157.0,194.4 160.0,195.7 160.5,196.1 163.5,200.9 166.5,206.6 167.0,207.2 169.5,209.4 171.5,210.7 186.0,213.0 193.5,215.8 199.0,219.4 200.5,219.9 208.0,221.8 220.0,222.7 220.0,236.0 45.0,236.0" fill="#743cf0"/>
<polygon points="45.0,190.9 64.5,191.1 73.0,191.8 77.5,191.7 85.5,192.0 90.5,190.8 95.0,190.1 98.0,190.4 99.5,190.8 104.5,194.1 109.5,197.0 111.0,197.6 113.5,198.0 126.0,198.4 134.0,197.1 154.0,197.1 157.0,198.0 160.0,199.2 160.5,199.8 163.5,206.3 166.5,213.6 167.0,214.4 171.5,218.4 186.0,220.4 193.5,224.2 198.5,227.6 199.0,227.7 208.0,228.9 220.0,229.3 220.0,236.0 45.0,236.0" fill="#8c3cf0"/>
<polygon points="45.0,193.8 64.5,194.1 73.0,196.5 85.5,197.3 95.0,194.5 99.5,195.0 100.0,195.1 104.5,198.0 111.0,201.3 113.5,201.8 126.0,202.2 134.0,200.5 154.0,200.5 160.0,202.8 160.5,203.4 163.5,211.7 166.5,220.7 167.0,221.6 171.5,226.1 186.0,227.8 198.5,235.9 220.0,236.0 220.0,236.0 45.0,236.0" fill="#9d44f0"/>
<polygon points="45.0,195.2 64.5,195.5 73.0,197.9 85.5,198.7 95.0,195.9 99.5,196.3 100.0,196.5 104.5,199.4 111.0,202.7 113.5,203.2 119.5,203.5 126.0,203.6 134.0,201.9 154.0,201.9 160.0,204.2 160.5,204.8 163.5,213.1 166.5,222.1 167.0,223.0 171.5,227.5 186.0,229.2 198.5,237.3 220.0,237.4 220.0,236.0 45.0,236.0" fill="#a74bf0"/>
<polygon points="45.0,196.6 64.5,196.8 73.0,199.3 85.5,200.1 95.0,197.3 99.5,197.7 100.0,197.9 104.5,200.8 111.0,204.1 113.5,204.6 119.0,205.0 126.0,204.9 134.0,203.2 154.0,203.3 160.0,205.5 160.5,206.2 163.5,214.4 166.5,223.5 167.0,224.4 171.5,228.8 186.0,230.6 198.5,238.7 220.0,238.8 220.0,236.0 45.0,236.0" fill="#b153f0"/>
<polygon points="45.0,197.9 64.5,198.2 73.0,200.6 85.5,201.4 95.0,198.7 99.5,199.1 100.0,199.3 104.5,202.2 111.0,205.4 113.5,205.9 119.5,206.5 126.0,206.3 134.0,204.6 154.0,204.7 160.0,206.9 160.5,207.6 163.5,215.8 166.5,224.8 167.0,225.7 171.5,230.2 186.0,232.0 198.5,240.1 220.0,240.1 220.0,236.0 45.0,236.0" fill="#bb5bf1"/>
<polygon points="45.0,199.3 64.5,199.6 73.0,202.0 85.5,202.8 95.0,200.0 99.5,200.5 100.0,200.6 104.5,203.5 111.0,206.8 113.5,207.3 119.5,208.0 126.0,207.7 134.0,206.0 154.0,206.0 160.0,208.3 160.5,208.9 163.5,217.2 166.5,226.2 167.0,227.1 171.5,231.6 186.0,233.3 198.5,241.4 220.0,241.5 220.0,236.0 45.0,236.0" fill="#c766f3"/>
<polygon points="45.0,207.2 64.5,207.4 73.0,209.3 85.5,209.9 95.0,207.8 99.5,208.1 104.5,210.4 111.0,212.9 119.5,213.7 126.0,213.5 134.0,212.2 154.0,212.3 160.0,214.0 160.5,214.5 166.5,227.4 167.0,228.1 171.5,231.6 186.0,233.3 198.5,241.4 220.0,241.5 220.0,236.0 45.0,236.0" fill="#d371f6"/>
<polygon points="45.0,215.2 64.5,215.3 73.0,216.5 85.5,216.9 95.0,215.5 99.5,215.7 104.5,217.3 111.0,218.9 119.5,219.5 126.0,219.3 134.0,218.5 154.0,218.5 160.0,219.6 160.5,220.0 166.5,228.6 167.0,229.1 171.0,231.1 171.5,231.6 186.0,233.3 198.5,241.4 220.0,241.5 220.0,236.0 45.0,236.0" fill="#d875f7"/>
<polygon points="45.0,223.1 64.5,223.1 73.0,223.8 85.5,223.9 95.5,223.3 100.0,223.4 111.0,224.9 113.5,225.1 119.5,225.2 126.0,225.2 134.0,224.8 153.5,224.8 160.0,225.3 160.5,225.5 163.5,227.6 166.5,229.8 170.5,230.9 171.0,231.1 171.5,231.6 186.0,233.3 198.5,241.4 220.0,241.5 220.0,236.0 45.0,236.0" fill="#dc78f8"/>
</g>
<line x1="51.2" y1="137" x2="51.2" y2="231" stroke="#c8c8c8" stroke-opacity="0.65" stroke-width="0.75"/>
<line x1="86" y1="137" x2="86" y2="231" stroke="#c8c8c8" stroke-opacity="0.65" stroke-width="0.75"/>
<line x1="97.4" y1="137" x2="97.4" y2="231" stroke="#c8c8c8" stroke-opacity="0.65" stroke-width="0.75"/>
<line x1="110.2" y1="137" x2="110.2" y2="231" stroke="#c8c8c8" stroke-opacity="0.65" stroke-width="0.75"/>
<line x1="114.2" y1="137" x2="114.2" y2="231" stroke="#c8c8c8" stroke-opacity="0.65" stroke-width="0.75"/>
<line x1="141.3" y1="137" x2="141.3" y2="231" stroke="#c8c8c8" stroke-opacity="0.65" stroke-width="0.75"/>
<line x1="187.3" y1="137" x2="187.3" y2="231" stroke="#c8c8c8" stroke-opacity="0.65" stroke-width="0.75"/>
<line x1="210.7" y1="137" x2="210.7" y2="231" stroke="#c8c8c8" stroke-opacity="0.65" stroke-width="0.75"/>
<path d="M45.00,159.60 C45.92,159.55 49.58,159.35 50.50,159.30" fill="none" stroke="#111" stroke-width="1.5" stroke-linecap="round" stroke-linejoin="round"/>
<path d="M62.00,154.50 C62.33,154.08 63.08,153.58 64.00,152.00 C64.92,150.42 66.38,147.42 67.50,145.00 C68.62,142.58 70.08,139.00 70.70,137.50 C71.32,136.00 71.12,136.25 71.20,136.00" fill="none" stroke="#111" stroke-width="1.5" stroke-linecap="round" stroke-linejoin="round"/>
<path d="M45.00,163.20 C47.17,163.17 54.83,163.17 58.00,163.00 C61.17,162.83 62.43,163.17 64.00,162.20 C65.57,161.23 66.28,159.02 67.40,157.20 C68.52,155.38 69.30,152.70 70.70,151.30 C72.10,149.90 74.25,149.33 75.80,148.80 C77.35,148.27 78.33,148.25 80.00,148.10 C81.67,147.95 82.87,147.93 85.80,147.90 C88.73,147.87 94.93,147.55 97.60,147.90 C100.27,148.25 100.70,149.30 101.80,150.00 C102.90,150.70 103.38,150.63 104.20,152.10 C105.02,153.57 105.87,157.12 106.70,158.80 C107.53,160.48 108.08,161.63 109.20,162.20 C110.32,162.77 111.93,162.23 113.40,162.20 C114.87,162.17 117.23,162.03 118.00,162.00" fill="none" stroke="#111" stroke-width="1.5" stroke-linecap="round" stroke-linejoin="round"/>
<path d="M131.50,163.70 C134.65,163.73 146.13,164.00 150.40,163.90 C154.67,163.80 155.67,163.38 157.10,163.10 C158.53,162.82 158.12,163.05 159.00,162.20 C159.88,161.35 161.13,159.27 162.40,158.00 C163.67,156.73 164.93,155.35 166.60,154.60 C168.27,153.85 168.62,153.63 172.40,153.50 C176.18,153.37 185.08,153.47 189.30,153.80 C193.52,154.13 195.33,154.67 197.70,155.50 C200.07,156.33 199.78,158.02 203.50,158.80 C207.22,159.58 217.25,159.97 220.00,160.20" fill="none" stroke="#111" stroke-width="1.5" stroke-linecap="round" stroke-linejoin="round"/>
<path d="M45.00,165.70 C47.17,165.68 54.83,165.80 58.00,165.60 C61.17,165.40 62.42,165.35 64.00,164.50 C65.58,163.65 66.33,162.08 67.50,160.50 C68.67,158.92 69.58,156.35 71.00,155.00 C72.42,153.65 74.50,152.88 76.00,152.40 C77.50,151.92 78.00,152.20 80.00,152.10 C82.00,152.00 85.33,151.82 88.00,151.80 C90.67,151.78 93.85,151.53 96.00,152.00 C98.15,152.47 99.57,153.27 100.90,154.60 C102.23,155.93 103.15,158.03 104.00,160.00 C104.85,161.97 104.50,165.33 106.00,166.40 C107.50,167.47 109.00,166.17 113.00,166.40 C117.00,166.63 123.83,167.52 130.00,167.80 C136.17,168.08 145.17,168.05 150.00,168.10 C154.83,168.15 156.38,168.67 159.00,168.10 C161.62,167.53 163.60,165.97 165.70,164.70 C167.80,163.43 170.22,161.35 171.60,160.50 C172.98,159.65 173.60,159.75 174.00,159.60" fill="none" stroke="#111" stroke-width="1.5" stroke-linecap="round" stroke-linejoin="round"/>
<path d="M186.00,158.10 C188.08,158.22 195.43,158.12 198.50,158.80 C201.57,159.48 200.82,161.50 204.40,162.20 C207.98,162.90 217.40,162.87 220.00,163.00" fill="none" stroke="#111" stroke-width="1.5" stroke-linecap="round" stroke-linejoin="round"/>
<path d="M45.00,169.60 C47.17,169.57 54.83,169.58 58.00,169.40 C61.17,169.22 62.33,169.40 64.00,168.50 C65.67,167.60 66.67,165.58 68.00,164.00 C69.33,162.42 70.50,160.33 72.00,159.00 C73.50,157.67 74.83,156.62 77.00,156.00 C79.17,155.38 82.92,155.42 85.00,155.30 C87.08,155.18 88.75,155.30 89.50,155.30" fill="none" stroke="#111" stroke-width="1.5" stroke-linecap="round" stroke-linejoin="round"/>
<path d="M100.00,158.80 C100.72,160.48 102.63,167.12 104.30,168.90 C105.97,170.68 105.72,169.22 110.00,169.50 C114.28,169.78 121.83,170.00 130.00,170.60 C138.17,171.20 151.37,172.90 159.00,173.10 C166.63,173.30 170.75,171.93 175.80,171.80 C180.85,171.67 184.82,171.52 189.30,172.30 C193.78,173.08 197.58,175.52 202.70,176.50 C207.82,177.48 217.12,177.92 220.00,178.20" fill="none" stroke="#111" stroke-width="1.5" stroke-linecap="round" stroke-linejoin="round"/>
<path d="M45.00,173.00 C47.17,172.97 54.83,172.97 58.00,172.80 C61.17,172.63 62.33,172.80 64.00,172.00 C65.67,171.20 66.67,169.33 68.00,168.00 C69.33,166.67 70.67,165.08 72.00,164.00 C73.33,162.92 74.67,162.02 76.00,161.50 C77.33,160.98 78.00,160.98 80.00,160.90 C82.00,160.82 85.50,160.50 88.00,161.00 C90.50,161.50 93.00,162.90 95.00,163.90 C97.00,164.90 98.50,165.65 100.00,167.00 C101.50,168.35 102.67,170.83 104.00,172.00 C105.33,173.17 106.50,173.67 108.00,174.00 C109.50,174.33 109.33,173.58 113.00,174.00 C116.67,174.42 123.18,175.80 130.00,176.50 C136.82,177.20 149.07,177.55 153.90,178.20 C158.73,178.85 157.03,179.32 159.00,180.40 C160.97,181.48 162.90,183.67 165.70,184.70 C168.50,185.73 170.47,186.12 175.80,186.60 C181.13,187.08 193.58,187.37 197.70,187.60 C201.82,187.83 200.03,187.93 200.50,188.00" fill="none" stroke="#111" stroke-width="1.5" stroke-linecap="round" stroke-linejoin="round"/>
<path d="M212.50,189.60 C213.75,189.62 218.75,189.68 220.00,189.70" fill="none" stroke="#111" stroke-width="1.5" stroke-linecap="round" stroke-linejoin="round"/>
<path d="M45.00,182.00 C48.28,182.03 60.35,182.83 64.70,182.20 C69.05,181.57 68.97,179.18 71.10,178.20 C73.23,177.22 74.30,176.70 77.50,176.30 C80.70,175.90 86.83,175.62 90.30,175.80 C93.77,175.98 95.92,176.33 98.30,177.40 C100.68,178.47 102.75,180.73 104.60,182.20 C106.45,183.67 107.27,185.40 109.40,186.20 C111.53,187.00 113.97,186.87 117.40,187.00 C120.83,187.13 125.82,187.07 130.00,187.00 C134.18,186.93 140.42,186.67 142.50,186.60" fill="none" stroke="#111" stroke-width="1.5" stroke-linecap="round" stroke-linejoin="round"/>
<path d="M155.50,187.00 C155.77,187.03 155.77,186.67 157.10,187.20 C158.43,187.73 161.37,188.90 163.50,190.20 C165.63,191.50 166.18,193.68 169.90,195.00 C173.62,196.32 181.82,197.45 185.80,198.10 C189.78,198.75 191.40,197.97 193.80,198.90 C196.20,199.83 197.80,202.23 200.20,203.70 C202.60,205.17 204.90,206.77 208.20,207.70 C211.50,208.63 218.03,209.03 220.00,209.30" fill="none" stroke="#111" stroke-width="1.5" stroke-linecap="round" stroke-linejoin="round"/>
<path d="M45.00,193.80 C48.28,193.85 60.08,193.65 64.70,194.10 C69.32,194.55 69.23,195.97 72.70,196.50 C76.17,197.03 81.77,197.63 85.50,197.30 C89.23,196.97 92.72,194.88 95.10,194.50 C97.48,194.12 98.22,194.40 99.80,195.00 C101.38,195.60 102.73,197.05 104.60,198.10 C106.47,199.15 109.52,200.68 111.00,201.30 C112.48,201.92 113.08,201.72 113.50,201.80" fill="none" stroke="#111" stroke-width="1.5" stroke-linecap="round" stroke-linejoin="round"/>
<path d="M126.00,202.20 C127.33,201.92 129.35,200.78 134.00,200.50 C138.65,200.22 149.52,200.10 153.90,200.50 C158.28,200.90 158.70,201.03 160.30,202.90 C161.90,204.77 162.43,208.63 163.50,211.70 C164.57,214.77 165.37,218.90 166.70,221.30 C168.03,223.70 168.32,225.03 171.50,226.10 C174.68,227.17 181.28,226.05 185.80,227.70 C190.32,229.35 196.47,234.62 198.60,236.00" fill="none" stroke="#111" stroke-width="1.5" stroke-linecap="round" stroke-linejoin="round"/>
<text x="56.4" y="162.705" font-size="11" fill="#111" stroke="#111" stroke-width="0.35" text-anchor="middle" font-weight="bold" textLength="9.1" lengthAdjust="spacingAndGlyphs">28</text>
<text x="94.8" y="159.105" font-size="11" fill="#111" stroke="#111" stroke-width="0.35" text-anchor="middle" font-weight="bold" textLength="8.8" lengthAdjust="spacingAndGlyphs">22</text>
<text x="124.8" y="166.505" font-size="11" fill="#111" stroke="#111" stroke-width="0.35" text-anchor="middle" font-weight="bold" textLength="9.2" lengthAdjust="spacingAndGlyphs">26</text>
<text x="180" y="162.705" font-size="11" fill="#111" stroke="#111" stroke-width="0.35" text-anchor="middle" font-weight="bold" textLength="8.4" lengthAdjust="spacingAndGlyphs">24</text>
<text x="148.8" y="190.505" font-size="11" fill="#111" stroke="#111" stroke-width="0.35" text-anchor="middle" font-weight="bold" textLength="8.7" lengthAdjust="spacingAndGlyphs">18</text>
<text x="206.2" y="193.205" font-size="11" fill="#111" stroke="#111" stroke-width="0.35" text-anchor="middle" font-weight="bold" textLength="8.8" lengthAdjust="spacingAndGlyphs">20</text>
<text x="119.4" y="206.805" font-size="11" fill="#111" stroke="#111" stroke-width="0.35" text-anchor="middle" font-weight="bold" textLength="8.8" lengthAdjust="spacingAndGlyphs">16</text>
</g>
<clipPath id="c2"><rect x="46" y="237.5" width="173" height="93"/></clipPath>
<g clip-path="url(#c2)">
<g filter="url(#bl)">
<rect x="44" y="235.5" width="177" height="97" fill="#dc5060"/>
<polygon points="45.0,237.5 220.0,237.5 220.0,335.5 45.0,335.5" fill="#da4a5a"/>
<polygon points="45.0,241.4 84.0,241.2 88.0,240.6 98.5,239.8 123.5,238.7 134.0,238.9 146.5,240.3 150.0,240.9 162.0,241.3 195.0,241.2 205.5,240.3 220.0,240.1 220.0,335.5 45.0,335.5" fill="#d83e4f"/>
<polygon points="45.0,245.3 84.0,244.9 88.0,243.6 91.0,243.4 98.5,242.2 104.0,241.8 107.0,241.3 123.5,240.0 134.0,240.4 146.5,243.2 150.0,244.3 162.0,245.1 195.0,245.0 200.0,244.2 205.5,243.0 220.0,242.7 220.0,335.5 45.0,335.5" fill="#d43649"/>
<polygon points="45.0,249.3 84.0,248.6 84.5,248.5 88.0,246.7 91.0,246.4 98.5,244.5 104.0,244.0 107.0,243.3 123.5,241.2 134.0,241.8 146.5,246.0 150.0,247.7 162.0,249.0 195.0,248.8 200.0,247.6 205.5,245.8 220.0,245.2 220.0,335.5 45.0,335.5" fill="#d22c43"/>
<polygon points="45.0,253.2 84.0,252.3 84.5,252.2 87.5,250.0 88.0,249.8 91.0,249.3 98.5,246.9 104.0,246.2 107.0,245.2 123.5,242.4 134.0,243.2 141.0,246.5 146.5,248.8 150.0,251.1 162.0,252.8 195.0,252.5 200.0,251.0 205.5,248.6 220.0,247.8 220.0,335.5 45.0,335.5" fill="#d0253b"/>
<polygon points="45.0,254.1 84.0,253.3 84.5,253.2 87.5,251.4 91.0,250.6 98.5,247.7 104.0,246.8 107.0,245.9 123.5,242.8 131.0,243.2 131.5,243.3 134.0,244.6 138.0,247.9 142.0,250.6 146.5,252.2 150.0,254.1 161.5,255.3 175.5,255.1 195.0,253.9 200.0,252.7 205.5,250.8 220.0,250.4 220.0,335.5 45.0,335.5" fill="#d02030"/>
<polygon points="45.0,254.9 66.5,254.7 84.5,254.2 88.0,252.6 91.0,251.9 93.5,251.1 98.5,248.5 104.0,247.5 107.0,246.6 124.0,243.2 131.0,243.4 134.0,246.1 138.0,250.8 142.0,254.2 146.5,255.7 150.0,257.1 162.0,257.8 173.0,257.8 181.0,257.0 188.0,256.1 195.0,255.4 205.5,253.1 220.0,253.0 220.0,335.5 45.0,335.5" fill="#d52021"/>
<polygon points="45.0,255.8 66.5,255.6 84.5,255.2 93.5,252.5 98.5,249.4 124.0,243.5 131.0,243.7 131.5,244.1 134.5,248.2 138.0,253.7 142.0,257.8 150.0,260.0 162.0,260.3 173.0,260.3 181.0,259.3 188.0,257.8 197.0,256.4 205.0,255.4 220.0,255.6 220.0,335.5 45.0,335.5" fill="#df3611"/>
<polygon points="45.0,256.6 66.5,256.6 83.0,256.3 86.5,255.9 93.5,253.8 98.5,250.2 123.5,243.9 131.0,243.9 131.5,244.4 134.5,249.8 138.0,256.6 142.0,261.5 145.0,262.3 150.0,263.0 155.0,262.8 173.0,262.9 175.5,262.6 181.0,261.5 188.0,259.6 197.0,257.9 205.0,257.6 220.0,258.2 220.0,335.5 45.0,335.5" fill="#eb5e05"/>
<polygon points="45.0,257.4 66.5,257.3 83.0,257.1 86.5,256.7 93.5,254.6 98.5,250.9 123.5,244.7 131.0,244.7 131.5,245.2 134.5,250.6 138.0,257.4 142.0,262.2 145.0,263.1 150.0,263.8 155.0,263.6 173.0,263.6 175.5,263.4 181.0,262.2 188.0,260.4 197.0,258.6 205.0,258.4 220.0,258.9 220.0,335.5 45.0,335.5" fill="#f17600"/>
<polygon points="45.0,258.1 66.5,258.1 83.0,257.8 86.5,257.4 93.5,255.3 98.5,251.7 123.5,245.4 131.0,245.4 131.5,245.9 134.5,251.3 138.0,258.1 142.0,263.0 145.0,263.8 150.0,264.5 155.0,264.3 173.0,264.4 175.5,264.1 181.0,263.0 188.0,261.1 197.0,259.4 205.0,259.1 220.0,259.7 220.0,335.5 45.0,335.5" fill="#f48700"/>
<polygon points="45.0,258.9 66.5,258.8 83.0,258.6 86.5,258.2 93.5,256.1 98.5,252.4 123.5,246.2 131.0,246.2 131.5,246.7 134.5,252.1 138.0,258.9 142.0,263.7 145.0,264.6 150.0,265.2 155.0,265.1 173.0,265.1 175.5,264.9 181.0,263.8 188.0,261.9 197.0,260.1 205.0,259.9 220.0,260.4 220.0,335.5 45.0,335.5" fill="#f79800"/>
<polygon points="45.0,259.6 66.5,259.6 83.0,259.3 86.5,258.9 93.5,256.8 98.5,253.2 123.5,246.9 131.0,246.9 131.5,247.4 134.5,252.8 138.0,259.6 142.0,264.5 145.0,265.3 150.0,266.0 155.0,265.8 173.0,265.9 175.5,265.6 181.0,264.5 188.0,262.6 197.0,260.9 205.0,260.6 220.0,261.2 220.0,335.5 45.0,335.5" fill="#f8ac00"/>
<polygon points="45.0,260.5 82.0,260.3 86.5,259.9 93.5,257.7 98.5,254.7 107.0,252.7 123.5,248.4 131.0,248.4 131.5,248.9 138.0,261.3 142.0,265.5 145.0,266.2 150.0,266.9 155.0,266.8 173.0,266.9 181.0,265.8 198.5,262.4 205.0,262.2 220.0,262.7 220.0,335.5 45.0,335.5" fill="#f4c000"/>
<polygon points="45.0,261.3 82.0,261.3 86.5,260.8 93.5,258.6 98.5,256.2 107.0,254.4 123.5,249.9 131.0,249.9 131.5,250.4 138.0,263.0 142.0,266.6 145.0,267.2 150.0,267.8 173.0,267.8 181.0,267.1 191.5,265.8 198.5,264.0 205.0,263.9 220.0,264.1 220.0,335.5 45.0,335.5" fill="#dcc800"/>
<polygon points="45.0,262.1 82.0,262.3 86.5,261.8 88.0,261.5 98.5,257.7 107.0,256.1 123.5,251.4 131.0,251.3 131.5,251.9 138.0,264.7 142.0,267.7 142.5,267.8 150.0,268.7 175.5,268.7 191.5,267.7 198.5,265.5 220.0,265.6 220.0,335.5 45.0,335.5" fill="#b4c800"/>
<polygon points="45.0,263.0 53.0,262.9 82.0,263.3 87.5,262.6 93.5,260.5 100.0,258.9 107.0,257.7 123.5,252.8 131.0,252.8 131.5,253.4 138.0,266.4 142.0,268.7 142.5,268.8 150.0,269.6 178.5,269.8 191.5,269.6 198.5,267.1 220.0,267.1 220.0,335.5 45.0,335.5" fill="#8cc00c"/>
<polygon points="45.0,263.6 53.0,263.6 82.0,264.2 87.0,263.8 93.5,261.8 100.0,260.1 107.0,259.0 123.5,254.4 130.0,254.1 131.0,254.2 131.5,254.8 133.5,258.4 137.0,265.7 138.0,267.3 142.0,269.8 142.5,269.9 155.0,271.1 191.5,271.9 198.5,270.4 205.5,270.9 220.0,271.3 220.0,335.5 45.0,335.5" fill="#64b41c"/>
<polygon points="45.0,264.2 53.0,264.3 82.0,265.2 87.0,265.0 93.5,263.1 100.0,261.4 107.0,260.3 123.5,256.0 130.0,255.3 131.0,255.7 131.5,256.2 133.5,259.2 137.0,266.9 137.5,267.7 138.0,268.3 142.0,270.8 150.0,271.7 155.0,272.6 170.0,273.0 191.5,274.2 198.5,273.8 205.5,274.7 220.0,275.5 220.0,335.5 45.0,335.5" fill="#44b024"/>
<polygon points="45.0,264.8 53.0,264.9 82.0,266.1 87.0,266.1 100.0,262.6 107.0,261.6 117.0,259.0 123.5,257.5 130.0,256.6 130.5,256.7 131.0,257.1 133.5,260.1 137.0,268.1 137.5,268.8 142.0,271.9 150.0,272.8 155.0,274.0 170.0,274.7 178.5,275.3 198.5,277.1 205.5,278.4 220.0,279.7 220.0,335.5 45.0,335.5" fill="#2cb434"/>
<polygon points="45.0,265.4 52.5,265.6 87.0,267.2 100.0,263.9 107.0,262.9 117.0,260.4 130.0,257.9 130.5,258.0 133.5,261.0 137.0,269.4 137.5,269.9 142.0,272.9 150.0,273.8 155.0,275.5 170.5,276.3 191.5,278.9 205.5,282.2 220.0,283.9 220.0,335.5 45.0,335.5" fill="#18c050"/>
<polygon points="45.0,266.6 66.0,267.3 87.0,268.3 90.0,267.7 100.0,265.3 107.0,264.3 117.0,262.0 130.0,259.3 130.5,259.5 133.5,262.5 137.0,270.6 142.0,274.4 150.0,275.6 155.0,277.0 165.0,277.4 169.0,277.7 175.5,279.6 181.5,280.9 191.5,281.9 195.5,282.5 197.5,282.9 203.5,284.8 207.5,287.3 212.0,287.9 220.0,288.7 220.0,335.5 45.0,335.5" fill="#10cc74"/>
<polygon points="45.0,267.8 66.0,268.4 87.0,269.3 90.0,269.0 100.0,266.8 107.0,265.8 130.0,260.8 130.5,260.9 133.5,264.0 136.0,270.1 137.0,271.9 142.0,275.8 147.5,277.0 150.0,277.4 155.0,278.6 165.0,278.8 169.0,279.3 175.5,282.3 181.5,284.2 192.0,284.9 197.5,285.6 203.5,287.8 207.5,292.1 212.0,292.9 220.0,293.4 220.0,335.5 45.0,335.5" fill="#10d098"/>
<polygon points="45.0,269.0 66.0,269.5 86.5,270.4 90.0,270.2 100.0,268.2 107.0,267.3 123.5,263.8 130.0,262.3 130.5,262.4 133.5,265.4 136.0,271.7 137.0,273.2 141.5,277.0 142.0,277.2 147.5,278.8 155.0,280.2 165.0,280.2 169.0,280.8 175.5,285.1 181.5,287.5 197.5,288.3 203.5,290.9 207.5,297.0 212.0,297.8 220.0,298.2 220.0,335.5 45.0,335.5" fill="#10ccb8"/>
<polygon points="45.0,270.2 66.0,270.6 80.0,271.3 90.0,271.5 100.0,269.6 107.0,268.8 123.5,265.4 130.0,263.8 130.5,263.9 133.5,266.9 136.0,273.3 136.5,274.1 141.5,278.5 147.5,280.5 155.0,281.8 165.0,281.6 169.0,282.3 175.5,287.8 181.5,290.8 197.5,290.9 203.5,293.9 207.5,301.8 212.0,302.8 220.0,303.0 220.0,335.5 45.0,335.5" fill="#10c0d8"/>
<polygon points="45.0,272.1 62.5,272.4 75.5,274.1 90.0,274.6 107.0,272.2 121.0,269.7 127.0,268.0 130.0,267.8 130.5,267.9 131.5,268.8 133.5,271.1 136.0,276.6 136.5,277.4 141.5,281.8 142.5,282.2 147.5,283.2 155.0,283.8 161.5,283.4 165.0,283.6 167.5,284.0 169.5,285.2 175.5,291.4 177.0,292.5 181.5,294.4 185.0,294.7 194.5,293.8 197.5,293.9 198.5,294.4 202.0,296.9 203.5,298.4 207.0,306.1 207.5,307.1 208.0,307.4 211.0,309.0 212.0,309.2 220.0,309.5 220.0,335.5 45.0,335.5" fill="#14acec"/>
<polygon points="45.0,273.9 62.5,274.2 75.5,277.1 90.0,277.6 99.0,276.8 106.5,275.8 120.5,273.5 127.0,271.5 130.0,271.8 131.5,272.7 133.5,275.3 136.5,280.7 138.0,282.2 141.5,285.1 142.5,285.7 147.5,286.0 155.0,285.8 161.5,285.1 165.5,285.6 167.5,286.0 169.0,287.4 172.5,291.7 175.5,295.0 177.0,296.4 181.5,298.0 185.0,298.4 195.0,296.6 197.5,296.9 198.5,297.3 202.0,300.6 203.5,303.0 207.0,311.3 208.0,313.0 211.0,315.4 214.5,316.0 220.0,316.1 220.0,335.5 45.0,335.5" fill="#2094f0"/>
<polygon points="45.0,275.8 62.5,276.1 75.5,280.1 90.0,280.7 99.0,280.3 120.5,277.3 127.0,275.0 127.5,275.0 130.0,275.8 131.5,276.6 132.0,277.1 136.5,284.0 138.0,285.6 142.5,289.1 147.5,288.7 161.5,286.8 165.0,287.5 167.5,288.1 169.0,289.9 172.5,295.0 177.0,300.3 181.5,301.6 185.0,302.2 189.5,301.1 194.5,299.5 195.0,299.4 197.0,299.8 198.5,300.3 202.0,304.4 204.0,308.7 206.0,314.1 207.5,317.6 208.0,318.5 211.0,321.9 214.5,322.5 220.0,322.6 220.0,335.5 45.0,335.5" fill="#347cf0"/>
<polygon points="45.0,277.6 62.5,277.9 75.5,283.1 91.0,283.8 99.0,283.8 120.5,281.0 127.0,278.4 131.5,280.6 132.0,281.0 134.0,284.5 137.5,288.4 142.5,292.5 161.5,288.5 167.5,290.1 172.5,298.3 177.0,304.2 185.0,306.0 189.5,304.5 194.5,302.3 195.0,302.2 198.5,303.2 202.0,308.1 204.5,314.7 206.0,319.2 208.0,324.0 211.0,328.3 214.5,329.1 220.0,329.1 220.0,335.5 45.0,335.5" fill="#4864f0"/>
<polygon points="45.0,281.0 63.0,281.4 75.5,287.0 88.0,287.6 99.0,287.4 110.0,287.4 117.5,287.1 120.5,287.2 127.0,286.2 131.5,288.3 132.0,288.7 134.0,291.4 137.5,294.6 142.5,297.8 146.0,297.3 153.5,295.7 161.0,294.6 161.5,294.5 167.5,295.7 169.0,297.5 172.5,303.0 177.0,309.5 183.0,311.1 185.0,311.3 189.5,309.4 194.5,306.6 195.0,306.5 197.5,307.2 198.0,307.5 199.0,308.6 201.5,313.6 202.0,314.1 206.0,322.4 208.0,326.0 211.0,329.2 214.5,329.8 220.0,329.8 220.0,335.5 45.0,335.5" fill="#5c4cf0"/>
<polygon points="45.0,284.4 63.0,284.9 75.5,290.9 88.0,291.6 99.0,290.9 110.0,292.5 117.5,292.8 121.0,293.6 127.0,294.0 132.0,296.4 134.0,298.4 138.0,301.2 142.5,303.1 146.0,302.8 153.5,301.2 161.0,300.6 167.5,301.4 169.5,303.2 177.0,314.8 183.0,316.6 185.0,316.5 189.5,314.4 194.5,310.9 195.0,310.8 197.5,311.5 199.0,313.4 201.5,319.7 202.0,320.1 206.0,325.6 208.0,328.0 211.0,330.1 214.5,330.6 220.0,330.6 220.0,335.5 45.0,335.5" fill="#743cf0"/>
<polygon points="45.0,287.8 63.0,288.4 75.5,294.8 88.0,295.5 99.0,294.5 110.0,297.6 118.0,298.6 121.0,299.9 127.0,301.8 132.0,304.1 134.0,305.3 138.0,307.3 142.5,308.4 146.0,308.3 153.5,306.8 161.5,306.6 167.5,307.1 169.0,307.7 169.5,308.2 172.5,312.4 177.0,320.1 183.0,322.1 183.5,322.1 185.0,321.8 186.0,321.4 189.5,319.3 194.5,315.2 195.0,315.0 197.5,315.8 198.5,317.2 199.5,319.3 201.5,325.9 202.0,326.0 206.0,328.8 208.0,330.0 211.0,331.1 214.5,331.3 220.0,331.3 220.0,335.5 45.0,335.5" fill="#8c3cf0"/>
<polygon points="45.0,291.2 63.0,291.8 75.5,298.7 88.0,299.5 99.0,298.0 110.0,302.7 117.5,304.2 125.5,308.9 131.0,311.5 138.5,313.5 146.0,313.8 153.5,312.4 169.0,312.8 169.5,313.2 172.5,317.2 177.0,325.4 183.0,327.6 183.5,327.6 186.0,326.6 189.5,324.2 194.5,319.5 195.0,319.3 197.5,320.1 199.0,322.8 201.5,332.0 220.0,332.0 220.0,335.5 45.0,335.5" fill="#9d44f0"/>
<polygon points="45.0,292.6 63.0,293.2 75.5,300.1 88.0,300.9 99.0,299.4 110.0,304.1 117.5,305.5 125.5,310.3 131.0,312.9 138.5,314.8 146.0,315.2 153.5,313.8 169.0,314.2 169.5,314.6 172.5,318.5 177.0,326.8 183.0,329.0 183.5,329.0 186.0,328.0 189.5,325.6 194.5,320.9 195.0,320.6 197.5,321.5 199.0,324.1 201.5,333.4 220.0,333.4 220.0,335.5 45.0,335.5" fill="#a74bf0"/>
<polygon points="45.0,293.9 63.0,294.6 75.5,301.5 88.0,302.2 99.0,300.8 110.0,305.5 117.5,306.9 125.5,311.6 131.0,314.2 138.5,316.2 146.0,316.6 153.5,315.1 169.0,315.5 169.5,315.9 172.5,319.9 177.0,328.1 183.0,330.3 183.5,330.4 186.0,329.4 189.5,326.9 194.5,322.2 195.0,322.0 197.5,322.9 199.0,325.5 201.5,334.8 220.0,334.8 220.0,335.5 45.0,335.5" fill="#b153f0"/>
<polygon points="45.0,295.3 63.0,295.9 75.5,302.8 88.0,303.6 99.0,302.2 110.0,306.8 117.5,308.3 125.5,313.0 131.0,315.6 138.5,317.6 146.0,317.9 153.5,316.5 169.0,316.9 169.5,317.3 172.5,321.3 177.0,329.5 183.0,331.7 183.5,331.7 186.0,330.7 189.5,328.3 194.5,323.6 195.0,323.4 197.5,324.2 199.0,326.9 201.5,336.1 220.0,336.1 220.0,335.5 45.0,335.5" fill="#bb5bf1"/>
<polygon points="45.0,296.7 63.0,297.3 75.5,304.2 88.0,305.0 99.0,303.5 110.0,308.2 117.5,309.7 125.5,314.4 131.0,317.0 138.5,319.0 146.0,319.3 153.5,317.9 169.0,318.3 169.5,318.7 172.5,322.7 177.0,330.9 183.0,333.1 183.5,333.1 186.0,332.1 189.5,329.7 194.5,325.0 195.0,324.8 197.5,325.6 199.0,328.3 201.5,337.5 220.0,337.5 220.0,335.5 45.0,335.5" fill="#c766f3"/>
<polygon points="45.0,305.3 63.0,305.7 75.5,310.9 88.0,311.5 99.0,310.4 110.0,313.9 117.5,315.0 125.5,318.5 131.0,320.5 138.5,322.0 146.0,322.2 153.5,321.2 169.0,321.5 169.5,321.8 172.5,324.7 177.0,330.9 183.0,333.1 183.5,333.1 186.0,332.1 189.5,330.0 194.5,326.5 195.0,326.3 197.5,327.0 199.0,328.9 199.5,330.0 201.5,337.5 220.0,337.5 220.0,335.5 45.0,335.5" fill="#d371f6"/>
<polygon points="45.0,313.9 63.0,314.2 75.5,317.6 88.0,318.0 99.0,317.3 110.0,319.6 117.5,320.3 125.5,322.7 131.0,324.0 138.5,325.0 146.0,325.1 153.5,324.4 169.0,324.6 172.5,326.8 177.0,330.9 183.0,333.1 183.5,333.1 186.0,332.1 187.5,331.1 195.0,327.9 197.5,328.3 199.0,329.6 199.5,330.3 201.5,337.5 220.0,337.5 220.0,335.5 45.0,335.5" fill="#d875f7"/>
<polygon points="45.0,322.4 63.0,322.6 75.5,324.3 88.0,324.5 99.0,324.1 110.0,325.3 117.5,325.7 131.0,327.5 138.5,328.0 146.0,328.1 153.5,327.7 169.0,327.8 172.5,328.9 177.0,331.0 183.0,333.1 183.5,333.1 186.0,332.1 187.5,331.1 188.0,330.9 194.5,329.5 197.5,329.6 199.5,330.7 200.0,331.9 201.5,337.5 220.0,337.5 220.0,335.5 45.0,335.5" fill="#dc78f8"/>
<path d="M44.00,236.00 C53.67,236.00 93.33,235.00 102.00,236.00 C110.67,237.00 100.50,240.42 96.00,242.00 C91.50,243.58 82.67,244.92 75.00,245.50 C67.33,246.08 55.17,245.75 50.00,245.50 C44.83,245.25 45.00,244.25 44.00,244.00 Z" fill="#de5a6a"/>
<path d="M148.00,236.00 C160.17,236.00 208.83,234.75 221.00,236.00 C233.17,237.25 225.33,241.83 221.00,243.50 C216.67,245.17 204.33,245.75 195.00,246.00 C185.67,246.25 172.17,245.67 165.00,245.00 C157.83,244.33 154.17,242.50 152.00,242.00 Z" fill="#de5666"/>
</g>
<line x1="51" y1="237.5" x2="51" y2="330.5" stroke="#c8c8c8" stroke-opacity="0.65" stroke-width="0.75"/>
<line x1="86.2" y1="237.5" x2="86.2" y2="330.5" stroke="#c8c8c8" stroke-opacity="0.65" stroke-width="0.75"/>
<line x1="98.1" y1="237.5" x2="98.1" y2="330.5" stroke="#c8c8c8" stroke-opacity="0.65" stroke-width="0.75"/>
<line x1="115.5" y1="237.5" x2="115.5" y2="330.5" stroke="#c8c8c8" stroke-opacity="0.65" stroke-width="0.75"/>
<line x1="129.4" y1="237.5" x2="129.4" y2="330.5" stroke="#c8c8c8" stroke-opacity="0.65" stroke-width="0.75"/>
<line x1="141.8" y1="237.5" x2="141.8" y2="330.5" stroke="#c8c8c8" stroke-opacity="0.65" stroke-width="0.75"/>
<line x1="161.4" y1="237.5" x2="161.4" y2="330.5" stroke="#c8c8c8" stroke-opacity="0.65" stroke-width="0.75"/>
<line x1="187.5" y1="237.5" x2="187.5" y2="330.5" stroke="#c8c8c8" stroke-opacity="0.65" stroke-width="0.75"/>
<line x1="194" y1="237.5" x2="194" y2="330.5" stroke="#c8c8c8" stroke-opacity="0.65" stroke-width="0.75"/>
<line x1="210.6" y1="237.5" x2="210.6" y2="330.5" stroke="#c8c8c8" stroke-opacity="0.65" stroke-width="0.75"/>
<path d="M45.00,253.20 C47.63,253.15 57.23,252.97 60.80,252.90 C64.37,252.83 62.47,252.90 66.40,252.80 C70.33,252.70 80.85,252.80 84.40,252.30 C87.95,251.80 86.60,250.30 87.70,249.80 C88.80,249.30 89.88,249.58 91.00,249.30 C92.12,249.02 93.17,248.50 94.40,248.10 C95.63,247.70 96.80,247.22 98.40,246.90 C100.00,246.58 102.60,246.48 104.00,246.20 C105.40,245.92 104.65,245.63 106.80,245.20 C108.95,244.77 114.10,244.07 116.90,243.60 C119.70,243.13 120.80,242.48 123.60,242.40 C126.40,242.32 131.72,242.87 133.70,243.10 C135.68,243.33 135.20,243.68 135.50,243.80" fill="none" stroke="#111" stroke-width="1.5" stroke-linecap="round" stroke-linejoin="round"/>
<path d="M146.50,248.80 C147.08,249.18 147.45,250.43 150.00,251.10 C152.55,251.77 155.63,252.57 161.80,252.80 C167.97,253.03 181.43,252.55 187.00,252.50 C192.57,252.45 193.03,252.75 195.20,252.50 C197.37,252.25 198.32,251.65 200.00,251.00 C201.68,250.35 201.97,249.13 205.30,248.60 C208.63,248.07 217.55,247.93 220.00,247.80" fill="none" stroke="#111" stroke-width="1.5" stroke-linecap="round" stroke-linejoin="round"/>
<path d="M45.00,259.60 C48.57,259.60 60.03,259.65 66.40,259.60 C72.77,259.55 79.80,259.42 83.20,259.30 C86.60,259.18 85.08,259.32 86.80,258.90 C88.52,258.48 91.57,257.75 93.50,256.80 C95.43,255.85 96.18,254.15 98.40,253.20 C100.62,252.25 103.72,251.87 106.80,251.10 C109.88,250.33 114.10,249.30 116.90,248.60 C119.70,247.90 121.22,247.18 123.60,246.90 C125.98,246.62 129.38,245.92 131.20,246.90 C133.02,247.88 133.38,250.70 134.50,252.80 C135.62,254.90 136.63,257.53 137.90,259.50 C139.17,261.47 140.92,263.63 142.10,264.60 C143.28,265.57 143.68,265.07 145.00,265.30 C146.32,265.53 148.33,265.92 150.00,266.00 C151.67,266.08 151.17,265.82 155.00,265.80 C158.83,265.78 169.58,265.93 173.00,265.90 C176.42,265.87 175.08,265.65 175.50,265.60" fill="none" stroke="#111" stroke-width="1.5" stroke-linecap="round" stroke-linejoin="round"/>
<path d="M188.00,262.60 C189.47,262.32 193.97,261.23 196.80,260.90 C199.63,260.57 201.13,260.55 205.00,260.60 C208.87,260.65 217.50,261.10 220.00,261.20" fill="none" stroke="#111" stroke-width="1.5" stroke-linecap="round" stroke-linejoin="round"/>
<path d="M53.00,262.90 C55.83,262.93 66.08,263.03 70.00,263.10 C73.92,263.17 75.42,263.27 76.50,263.30" fill="none" stroke="#111" stroke-width="1.5" stroke-linecap="round" stroke-linejoin="round"/>
<path d="M87.60,262.60 C88.58,262.25 91.43,261.12 93.50,260.50 C95.57,259.88 97.78,259.35 100.00,258.90 C102.22,258.45 103.98,258.48 106.80,257.80 C109.62,257.12 114.10,255.63 116.90,254.80 C119.70,253.97 121.22,253.13 123.60,252.80 C125.98,252.47 129.38,251.68 131.20,252.80 C133.02,253.92 133.38,257.25 134.50,259.50 C135.62,261.75 136.63,264.75 137.90,266.30 C139.17,267.85 140.08,268.25 142.10,268.80 C144.12,269.35 143.92,269.43 150.00,269.60 C156.08,269.77 171.63,269.80 178.60,269.80 C185.57,269.80 188.48,270.05 191.80,269.60 C195.12,269.15 193.80,267.52 198.50,267.10 C203.20,266.68 216.42,267.10 220.00,267.10" fill="none" stroke="#111" stroke-width="1.5" stroke-linecap="round" stroke-linejoin="round"/>
<path d="M52.50,265.60 C55.42,265.73 64.28,266.12 70.00,266.40 C75.72,266.68 82.88,267.43 86.80,267.30 C90.72,267.17 91.30,266.17 93.50,265.60 C95.70,265.03 97.78,264.35 100.00,263.90 C102.22,263.45 103.98,263.48 106.80,262.90 C109.62,262.32 112.98,261.25 116.90,260.40 C120.82,259.55 127.50,257.67 130.30,257.80 C133.10,257.93 132.57,259.23 133.70,261.20 C134.83,263.17 135.70,267.63 137.10,269.60 C138.50,271.57 139.95,272.30 142.10,273.00 C144.25,273.70 147.83,273.38 150.00,273.80 C152.17,274.22 151.73,275.08 155.10,275.50 C158.47,275.92 166.28,276.02 170.20,276.30 C174.12,276.58 175.00,276.77 178.60,277.20 C182.20,277.63 189.00,278.48 191.80,278.90 C194.60,279.32 193.15,279.15 195.40,279.70 C197.65,280.25 201.20,281.50 205.30,282.20 C209.40,282.90 217.55,283.62 220.00,283.90" fill="none" stroke="#111" stroke-width="1.5" stroke-linecap="round" stroke-linejoin="round"/>
<path d="M45.00,270.20 C48.50,270.27 60.17,270.42 66.00,270.60 C71.83,270.78 76.00,271.15 80.00,271.30 C84.00,271.45 86.67,271.78 90.00,271.50 C93.33,271.22 97.20,270.05 100.00,269.60 C102.80,269.15 102.87,269.50 106.80,268.80 C110.73,268.10 119.68,266.25 123.60,265.40 C127.52,264.55 128.62,263.42 130.30,263.70 C131.98,263.98 132.72,265.42 133.70,267.10 C134.68,268.78 135.78,272.68 136.20,273.80" fill="none" stroke="#111" stroke-width="1.5" stroke-linecap="round" stroke-linejoin="round"/>
<path d="M147.50,280.50 C148.77,280.72 152.15,281.62 155.10,281.80 C158.05,281.98 162.85,281.52 165.20,281.60 C167.55,281.68 167.48,281.27 169.20,282.30 C170.92,283.33 173.42,286.37 175.50,287.80 C177.58,289.23 178.05,290.38 181.70,290.90 C185.35,291.42 193.73,290.38 197.40,290.90 C201.07,291.42 202.33,292.82 203.70,294.00 C205.07,295.18 204.98,296.70 205.60,298.00 C206.22,299.30 206.33,301.00 207.40,301.80 C208.47,302.60 209.90,302.60 212.00,302.80 C214.10,303.00 218.67,302.97 220.00,303.00" fill="none" stroke="#111" stroke-width="1.5" stroke-linecap="round" stroke-linejoin="round"/>
<path d="M45.00,277.60 C47.97,277.65 57.73,276.98 62.80,277.90 C67.87,278.82 70.70,282.12 75.40,283.10 C80.10,284.08 87.08,283.68 91.00,283.80 C94.92,283.92 95.75,284.05 98.90,283.80 C102.05,283.55 106.25,282.77 109.90,282.30 C113.55,281.83 117.93,281.65 120.80,281.00 C123.67,280.35 125.27,278.45 127.10,278.40 C128.93,278.35 130.65,279.68 131.80,280.70 C132.95,281.72 132.98,283.13 134.00,284.50 C135.02,285.87 136.48,287.57 137.90,288.90 C139.32,290.23 141.15,292.02 142.50,292.50 C143.85,292.98 144.17,292.20 146.00,291.80 C147.83,291.40 150.93,290.65 153.50,290.10 C156.07,289.55 159.05,288.50 161.40,288.50 C163.75,288.50 165.78,288.52 167.60,290.10 C169.42,291.68 170.73,295.65 172.30,298.00 C173.87,300.35 174.88,302.87 177.00,304.20 C179.12,305.53 182.92,305.95 185.00,306.00 C187.08,306.05 187.87,305.13 189.50,304.50 C191.13,303.87 193.32,302.43 194.80,302.20 C196.28,301.97 197.20,302.12 198.40,303.10 C199.60,304.08 200.95,306.08 202.00,308.10 C203.05,310.12 204.03,313.35 204.70,315.20 C205.37,317.05 205.78,318.53 206.00,319.20" fill="none" stroke="#111" stroke-width="1.5" stroke-linecap="round" stroke-linejoin="round"/>
<path d="M214.50,329.10 C215.42,329.10 219.08,329.10 220.00,329.10" fill="none" stroke="#111" stroke-width="1.5" stroke-linecap="round" stroke-linejoin="round"/>
<path d="M45.00,291.20 C47.97,291.28 57.73,290.45 62.80,291.70 C67.87,292.95 71.22,297.40 75.40,298.70 C79.58,300.00 83.98,299.62 87.90,299.50 C91.82,299.38 95.23,297.47 98.90,298.00 C102.57,298.53 106.77,301.67 109.90,302.70 C113.03,303.73 115.10,303.17 117.70,304.20 C120.30,305.23 123.28,307.68 125.50,308.90 C127.72,310.12 130.08,311.07 131.00,311.50" fill="none" stroke="#111" stroke-width="1.5" stroke-linecap="round" stroke-linejoin="round"/>
<path d="M146.00,313.80 C147.25,313.57 149.63,312.57 153.50,312.40 C157.37,312.23 166.07,312.07 169.20,312.80 C172.33,313.53 171.00,314.70 172.30,316.80 C173.60,318.90 175.17,323.58 177.00,325.40 C178.83,327.22 181.80,327.50 183.30,327.70 C184.80,327.90 184.97,327.18 186.00,326.60 C187.03,326.02 188.03,325.43 189.50,324.20 C190.97,322.97 193.47,319.88 194.80,319.20 C196.13,318.52 196.75,319.42 197.50,320.10 C198.25,320.78 198.77,321.73 199.30,323.30 C199.83,324.87 200.33,328.05 200.70,329.50 C201.07,330.95 201.37,331.58 201.50,332.00" fill="none" stroke="#111" stroke-width="1.5" stroke-linecap="round" stroke-linejoin="round"/>
<text x="141.2" y="252.505" font-size="11" fill="#111" stroke="#111" stroke-width="0.35" text-anchor="middle" font-weight="bold" textLength="9" lengthAdjust="spacingAndGlyphs">28</text>
<text x="44.2" y="269.105" font-size="11" fill="#111" stroke="#111" stroke-width="0.35" text-anchor="middle" font-weight="bold" textLength="9" lengthAdjust="spacingAndGlyphs">22</text>
<text x="82.1" y="268.005" font-size="11" fill="#111" stroke="#111" stroke-width="0.35" text-anchor="middle" font-weight="bold" textLength="8.2" lengthAdjust="spacingAndGlyphs">24</text>
<text x="181.4" y="268.705" font-size="11" fill="#111" stroke="#111" stroke-width="0.35" text-anchor="middle" font-weight="bold" textLength="9.2" lengthAdjust="spacingAndGlyphs">26</text>
<text x="141.4" y="282.905" font-size="11" fill="#111" stroke="#111" stroke-width="0.35" text-anchor="middle" font-weight="bold" textLength="8.8" lengthAdjust="spacingAndGlyphs">20</text>
<text x="138.6" y="318.305" font-size="11" fill="#111" stroke="#111" stroke-width="0.35" text-anchor="middle" font-weight="bold" textLength="8.2" lengthAdjust="spacingAndGlyphs">16</text>
<text transform="translate(209,326.5) rotate(60)" font-size="10" font-weight="bold" text-anchor="middle" textLength="7.5" lengthAdjust="spacingAndGlyphs" fill="#111" stroke="#111" stroke-width="0.35" dy="3.5">18</text>
</g>
<clipPath id="c3"><rect x="223" y="38" width="173" height="93"/></clipPath>
<g clip-path="url(#c3)">
<g filter="url(#bl2)">
<rect x="221" y="36" width="177" height="97" fill="#4ab022"/>
<path d="M221.00,72.50 C224.13,72.33 235.55,70.75 239.80,71.50 C244.05,72.25 242.92,74.75 246.50,77.00 C250.08,79.25 258.38,82.83 261.30,85.00 C264.22,87.17 263.88,88.00 264.00,90.00 C264.12,92.00 264.23,95.33 262.00,97.00 C259.77,98.67 254.75,99.07 250.60,100.00 C246.45,100.93 242.03,101.93 237.10,102.60 C232.17,103.27 223.68,103.77 221.00,104.00 Z" fill="#34b12c"/>
<path d="M262.00,86.00 C265.00,87.67 275.00,93.00 280.00,96.00 C285.00,99.00 288.83,100.83 292.00,104.00 C295.17,107.17 297.50,110.17 299.00,115.00 C300.50,119.83 284.50,130.00 301.00,133.00 C317.50,136.00 381.83,149.00 398.00,133.00 C414.17,117.00 414.33,53.00 398.00,37.00 C381.67,21.00 316.33,37.00 300.00,37.00 Z" fill="#58b21e"/>
<path d="M245.00,37.00 C244.42,37.77 242.60,39.90 241.50,41.60 C240.40,43.30 239.20,45.33 238.40,47.20 C237.60,49.07 236.43,50.33 236.70,52.80 C236.97,55.27 237.78,58.97 240.00,62.00 C242.22,65.03 246.83,69.17 250.00,71.00 C253.17,72.83 256.83,71.50 259.00,73.00 C261.17,74.50 261.65,77.63 263.00,80.00 C264.35,82.37 265.07,85.50 267.10,87.20 C269.13,88.90 272.17,89.20 275.20,90.20 C278.23,91.20 281.95,91.68 285.30,93.20 C288.65,94.72 292.28,97.95 295.30,99.30 C298.32,100.65 301.20,99.95 303.40,101.30 C305.60,102.65 307.32,104.70 308.50,107.40 C309.68,110.10 309.83,113.23 310.50,117.50 C311.17,121.77 297.92,130.42 312.50,133.00 C327.08,135.58 383.75,149.00 398.00,133.00 C412.25,117.00 398.00,53.00 398.00,37.00 Z" fill="#6eb61a"/>
<path d="M250.00,37.00 C249.47,37.77 247.90,39.90 246.80,41.60 C245.70,43.30 244.25,45.33 243.40,47.20 C242.55,49.07 241.77,50.67 241.70,52.80 C241.63,54.93 241.95,57.80 243.00,60.00 C244.05,62.20 245.83,64.75 248.00,66.00 C250.17,67.25 253.33,67.08 256.00,67.50 C258.67,67.92 262.00,67.25 264.00,68.50 C266.00,69.75 266.65,72.72 268.00,75.00 C269.35,77.28 270.07,80.50 272.10,82.20 C274.13,83.90 277.17,84.20 280.20,85.20 C283.23,86.20 286.95,86.68 290.30,88.20 C293.65,89.72 297.28,92.95 300.30,94.30 C303.32,95.65 306.20,94.95 308.40,96.30 C310.60,97.65 312.32,99.70 313.50,102.40 C314.68,105.10 314.83,107.40 315.50,112.50 C316.17,117.60 303.75,129.58 317.50,133.00 C331.25,136.42 384.58,149.00 398.00,133.00 C411.42,117.00 398.00,53.00 398.00,37.00 Z" fill="#b0c800"/>
<path d="M258.00,36.00 C270.00,36.00 317.50,33.67 330.00,36.00 C342.50,38.33 331.33,42.67 333.00,50.00 C334.67,57.33 340.50,72.50 340.00,80.00 C339.50,87.50 333.33,94.33 330.00,95.00 C326.67,95.67 325.00,86.83 320.00,84.00 C315.00,81.17 306.67,79.50 300.00,78.00 C293.33,76.50 285.00,76.33 280.00,75.00 C275.00,73.67 273.00,72.17 270.00,70.00 C267.00,67.83 264.33,65.33 262.00,62.00 C259.67,58.67 257.00,52.00 256.00,50.00 Z" fill="#d2c800"/>
<path d="M322.00,133.00 C323.33,128.83 325.33,113.50 330.00,108.00 C334.67,102.50 342.50,100.67 350.00,100.00 C357.50,99.33 367.00,102.33 375.00,104.00 C383.00,105.67 394.17,105.17 398.00,110.00 C401.83,114.83 398.00,129.17 398.00,133.00 Z" fill="#d2c800"/>
<path d="M246.80,51.50 C247.35,50.97 248.23,49.12 250.10,48.30 C251.97,47.48 255.38,46.78 258.00,46.60 C260.62,46.42 263.47,46.63 265.80,47.20 C268.13,47.77 269.17,49.63 272.00,50.00 C274.83,50.37 277.13,49.48 282.80,49.40 C288.47,49.32 300.13,49.23 306.00,49.50 C311.87,49.77 315.33,50.67 318.00,51.00 C320.67,51.33 320.75,52.33 322.00,51.50 C323.25,50.67 324.92,47.92 325.50,46.00 C326.08,44.08 325.67,41.67 325.50,40.00 C325.33,38.33 312.42,36.67 324.50,36.00 C336.58,35.33 385.75,24.13 398.00,36.00 C410.25,47.87 401.25,96.45 398.00,107.20 C394.75,117.95 384.88,102.97 378.50,100.50 C372.12,98.03 366.85,93.97 359.70,92.40 C352.55,90.83 340.55,91.45 335.60,91.10 C330.65,90.75 331.83,91.12 330.00,90.30 C328.17,89.48 326.85,88.22 324.60,86.20 C322.35,84.18 319.20,80.22 316.50,78.20 C313.80,76.18 312.77,75.12 308.40,74.10 C304.03,73.08 295.85,73.10 290.30,72.10 C284.75,71.10 278.13,69.95 275.10,68.10 C272.07,66.25 273.62,61.85 272.10,61.00 C270.58,60.15 268.35,62.83 266.00,63.00 C263.65,63.17 260.67,62.83 258.00,62.00 C255.33,61.17 251.33,58.67 250.00,58.00 Z" fill="#f5be00"/>
<path d="M338.00,37.00 C337.33,39.17 333.33,44.83 334.00,50.00 C334.67,55.17 336.83,63.67 342.00,68.00 C347.17,72.33 355.67,73.33 365.00,76.00 C374.33,78.67 392.50,90.50 398.00,84.00 C403.50,77.50 398.00,44.83 398.00,37.00 Z" fill="#f8ac00"/>
<path d="M386.60,36.00 C385.03,36.58 379.67,38.17 377.20,39.50 C374.73,40.83 372.47,42.35 371.80,44.00 C371.13,45.65 372.33,47.40 373.20,49.40 C374.07,51.40 374.87,54.15 377.00,56.00 C379.13,57.85 382.50,59.33 386.00,60.50 C389.50,61.67 396.00,67.08 398.00,63.00 C400.00,58.92 398.00,40.50 398.00,36.00 Z" fill="#ee6802"/>
<path d="M383.00,133.00 C383.33,130.83 384.17,122.92 385.00,120.00 C385.83,117.08 385.83,116.58 388.00,115.50 C390.17,114.42 396.33,110.58 398.00,113.50 C399.67,116.42 398.00,129.75 398.00,133.00 Z" fill="#f5be00"/>
</g>
<line x1="228" y1="38" x2="228" y2="131" stroke="#c8c8c8" stroke-opacity="0.65" stroke-width="0.75"/>
<line x1="262.5" y1="38" x2="262.5" y2="131" stroke="#c8c8c8" stroke-opacity="0.65" stroke-width="0.75"/>
<line x1="274.3" y1="38" x2="274.3" y2="131" stroke="#c8c8c8" stroke-opacity="0.65" stroke-width="0.75"/>
<line x1="307" y1="38" x2="307" y2="131" stroke="#c8c8c8" stroke-opacity="0.65" stroke-width="0.75"/>
<line x1="338.2" y1="38" x2="338.2" y2="131" stroke="#c8c8c8" stroke-opacity="0.65" stroke-width="0.75"/>
<line x1="386.9" y1="38" x2="386.9" y2="131" stroke="#c8c8c8" stroke-opacity="0.65" stroke-width="0.75"/>
<path d="M265.50,37.00 C265.00,37.55 263.75,40.08 262.50,40.30 C261.25,40.52 260.07,38.70 258.00,38.30 C255.93,37.90 251.97,37.35 250.10,37.90 C248.23,38.45 247.92,40.05 246.80,41.60 C245.68,43.15 244.25,45.33 243.40,47.20 C242.55,49.07 241.98,51.87 241.70,52.80" fill="none" stroke="#111" stroke-width="1.5" stroke-linecap="round" stroke-linejoin="round"/>
<path d="M256.50,67.50 C257.75,67.67 262.08,67.25 264.00,68.50 C265.92,69.75 266.65,72.72 268.00,75.00 C269.35,77.28 270.07,80.50 272.10,82.20 C274.13,83.90 277.17,84.20 280.20,85.20 C283.23,86.20 286.95,86.68 290.30,88.20 C293.65,89.72 297.28,92.95 300.30,94.30 C303.32,95.65 306.20,94.95 308.40,96.30 C310.60,97.65 312.32,99.70 313.50,102.40 C314.68,105.10 314.83,107.57 315.50,112.50 C316.17,117.43 317.17,128.75 317.50,132.00" fill="none" stroke="#111" stroke-width="1.5" stroke-linecap="round" stroke-linejoin="round"/>
<path d="M246.80,51.50 C247.35,50.97 248.23,49.12 250.10,48.30 C251.97,47.48 255.38,46.78 258.00,46.60 C260.62,46.42 263.47,46.63 265.80,47.20 C268.13,47.77 269.17,49.63 272.00,50.00 C274.83,50.37 277.13,49.48 282.80,49.40 C288.47,49.32 300.13,49.23 306.00,49.50 C311.87,49.77 315.33,50.67 318.00,51.00 C320.67,51.33 320.75,52.33 322.00,51.50 C323.25,50.67 324.92,47.92 325.50,46.00 C326.08,44.08 325.67,41.50 325.50,40.00 C325.33,38.50 324.67,37.50 324.50,37.00" fill="none" stroke="#111" stroke-width="1.5" stroke-linecap="round" stroke-linejoin="round"/>
<path d="M270.50,60.50 C270.83,60.75 271.73,60.73 272.50,62.00 C273.27,63.27 272.13,66.42 275.10,68.10 C278.07,69.78 284.75,71.10 290.30,72.10 C295.85,73.10 304.03,73.08 308.40,74.10 C312.77,75.12 313.80,76.18 316.50,78.20 C319.20,80.22 322.35,84.18 324.60,86.20 C326.85,88.22 328.17,89.48 330.00,90.30 C331.83,91.12 330.65,90.75 335.60,91.10 C340.55,91.45 352.55,90.83 359.70,92.40 C366.85,93.97 372.45,98.03 378.50,100.50 C384.55,102.97 393.08,106.08 396.00,107.20" fill="none" stroke="#111" stroke-width="1.5" stroke-linecap="round" stroke-linejoin="round"/>
<path d="M386.60,37.30 C385.03,37.75 379.67,38.88 377.20,40.00 C374.73,41.12 372.47,42.43 371.80,44.00 C371.13,45.57 372.83,48.15 373.20,49.40 C373.57,50.65 373.87,51.15 374.00,51.50" fill="none" stroke="#111" stroke-width="1.5" stroke-linecap="round" stroke-linejoin="round"/>
<path d="M388.00,60.50 C389.33,60.83 394.67,62.17 396.00,62.50" fill="none" stroke="#111" stroke-width="1.5" stroke-linecap="round" stroke-linejoin="round"/>
<path d="M222.00,71.90 C224.97,71.73 235.72,70.17 239.80,70.90 C243.88,71.63 242.92,74.05 246.50,76.30 C250.08,78.55 258.38,82.17 261.30,84.40 C264.22,86.63 263.47,88.52 264.00,89.70 C264.53,90.88 264.42,91.20 264.50,91.50" fill="none" stroke="#111" stroke-width="1.5" stroke-linecap="round" stroke-linejoin="round"/>
<path d="M256.50,99.50 C255.52,99.67 253.83,99.88 250.60,100.50 C247.37,101.12 241.87,102.53 237.10,103.20 C232.33,103.87 224.52,104.28 222.00,104.50" fill="none" stroke="#111" stroke-width="1.5" stroke-linecap="round" stroke-linejoin="round"/>
<path d="M387.00,115.40 C387.50,115.27 388.50,114.83 390.00,114.60 C391.50,114.37 395.00,114.10 396.00,114.00" fill="none" stroke="#111" stroke-width="1.5" stroke-linecap="round" stroke-linejoin="round"/>
<path d="M391.00,76.30 C391.42,76.05 392.50,75.02 393.50,74.80 C394.50,74.58 396.42,74.50 397.00,75.00 C397.58,75.50 397.58,77.33 397.00,77.80 C396.42,78.27 394.50,78.05 393.50,77.80 C392.50,77.55 391.42,76.55 391.00,76.30" fill="none" stroke="#111" stroke-width="1.5" stroke-linecap="round" stroke-linejoin="round"/>
<path d="M251.30,53.90 C251.85,53.65 253.32,52.62 254.60,52.40 C255.88,52.18 257.77,52.33 259.00,52.60 C260.23,52.87 261.50,53.77 262.00,54.00" fill="none" stroke="#111" stroke-width="1.5" stroke-linecap="round" stroke-linejoin="round"/>
<path d="M251.30,53.90 C251.58,54.45 252.05,56.48 253.00,57.20 C253.95,57.92 256.03,58.07 257.00,58.20 C257.97,58.33 258.50,58.03 258.80,58.00" fill="none" stroke="#111" stroke-width="1.5" stroke-linecap="round" stroke-linejoin="round"/>
<text x="232.8" y="60.305" font-size="11" fill="#111" stroke="#111" stroke-width="0.35" text-anchor="middle" font-weight="bold" textLength="9" lengthAdjust="spacingAndGlyphs">35</text>
<text x="263" y="63.105" font-size="11" fill="#111" stroke="#111" stroke-width="0.35" text-anchor="middle" font-weight="bold" textLength="8.4" lengthAdjust="spacingAndGlyphs">36</text>
<text x="378.5" y="61.405" font-size="11" fill="#111" stroke="#111" stroke-width="0.35" text-anchor="middle" font-weight="bold" textLength="15.5" lengthAdjust="spacingAndGlyphs">36.5</text>
<text x="260.6" y="100.405" font-size="11" fill="#111" stroke="#111" stroke-width="0.35" text-anchor="middle" font-weight="bold" textLength="8.8" lengthAdjust="spacingAndGlyphs">35</text>
<text transform="translate(247.6,62.2) rotate(52)" font-size="11" font-weight="bold" text-anchor="middle" textLength="15" lengthAdjust="spacingAndGlyphs" fill="#111" stroke="#111" stroke-width="0.35" dy="3.9">35.5</text><text transform="translate(388.5,124.5) rotate(75)" font-size="10.5" font-weight="bold" text-anchor="middle" textLength="8" lengthAdjust="spacingAndGlyphs" fill="#111" stroke="#111" stroke-width="0.35" dy="3.7">36</text>
</g>
<clipPath id="c4"><rect x="223" y="137" width="173" height="94"/></clipPath>
<g clip-path="url(#c4)">
<g filter="url(#bl2)">
<rect x="221" y="135" width="177" height="98" fill="#46b023"/>
<path d="M253.20,166.10 C254.53,165.90 258.52,164.13 261.20,164.90 C263.88,165.67 267.57,168.58 269.30,170.70 C271.03,172.82 271.48,175.38 271.60,177.60 C271.72,179.82 271.73,182.28 270.00,184.00 C268.27,185.72 264.20,187.43 261.20,187.90 C258.20,188.37 253.72,188.52 252.00,186.80 C250.28,185.08 250.90,180.67 250.90,177.60 C250.90,174.53 251.82,169.93 252.00,168.40 Z" fill="#36b12a"/>
<path d="M285.00,130.00 C284.17,133.33 279.17,143.67 280.00,150.00 C280.83,156.33 285.83,163.00 290.00,168.00 C294.17,173.00 300.67,176.33 305.00,180.00 C309.33,183.67 313.33,186.33 316.00,190.00 C318.67,193.67 320.00,194.83 321.00,202.00 C322.00,209.17 309.17,227.83 322.00,233.00 C334.83,238.17 385.33,250.17 398.00,233.00 C410.67,215.83 398.00,147.17 398.00,130.00 Z" fill="#58b21e"/>
<path d="M271.50,130.00 C270.02,131.10 265.68,135.05 262.60,136.60 C259.52,138.15 255.85,138.72 253.00,139.30 C250.15,139.88 247.17,139.48 245.50,140.10 C243.83,140.72 243.25,141.35 243.00,143.00 C242.75,144.65 242.83,147.67 244.00,150.00 C245.17,152.33 246.90,155.58 250.00,157.00 C253.10,158.42 259.33,158.25 262.60,158.50 C265.87,158.75 267.87,157.92 269.60,158.50 C271.33,159.08 272.10,160.25 273.00,162.00 C273.90,163.75 274.17,166.90 275.00,169.00 C275.83,171.10 276.80,173.08 278.00,174.60 C279.20,176.12 280.03,177.53 282.20,178.10 C284.37,178.67 288.17,177.78 291.00,178.00 C293.83,178.22 295.58,177.58 299.20,179.40 C302.82,181.22 308.63,186.63 312.70,188.90 C316.77,191.17 320.42,191.63 323.60,193.00 C326.78,194.37 329.98,194.62 331.80,197.10 C333.62,199.58 334.05,203.83 334.50,207.90 C334.95,211.97 334.73,216.48 334.50,221.50 C334.27,226.52 322.52,235.25 333.10,238.00 C343.68,240.75 387.18,256.00 398.00,238.00 C408.82,220.00 398.00,148.00 398.00,130.00 Z" fill="#6eb61a"/>
<path d="M232.00,166.00 C233.00,165.33 236.00,162.33 238.00,162.00 C240.00,161.67 243.00,162.50 244.00,164.00 C245.00,165.50 245.00,169.17 244.00,171.00 C243.00,172.83 240.00,174.67 238.00,175.00 C236.00,175.33 233.00,173.33 232.00,173.00 Z" fill="#7cba16"/>
<path d="M271.50,130.00 C270.85,131.93 268.95,139.43 267.60,141.60 C266.25,143.77 265.00,142.55 263.40,143.00 C261.80,143.45 260.15,143.95 258.00,144.30 C255.85,144.65 252.17,144.48 250.50,145.10 C248.83,145.72 248.08,146.85 248.00,148.00 C247.92,149.15 248.83,151.08 250.00,152.00 C251.17,152.92 252.07,153.25 255.00,153.50 C257.93,153.75 264.33,153.50 267.60,153.50 C270.87,153.50 272.87,152.92 274.60,153.50 C276.33,154.08 277.10,155.25 278.00,157.00 C278.90,158.75 279.17,161.90 280.00,164.00 C280.83,166.10 281.80,168.08 283.00,169.60 C284.20,171.12 285.03,172.53 287.20,173.10 C289.37,173.67 293.17,172.78 296.00,173.00 C298.83,173.22 300.58,172.58 304.20,174.40 C307.82,176.22 313.63,181.63 317.70,183.90 C321.77,186.17 325.42,186.63 328.60,188.00 C331.78,189.37 334.98,189.62 336.80,192.10 C338.62,194.58 339.05,198.83 339.50,202.90 C339.95,206.97 339.73,210.65 339.50,216.50 C339.27,222.35 328.35,234.42 338.10,238.00 C347.85,241.58 388.02,256.00 398.00,238.00 C407.98,220.00 398.00,148.00 398.00,130.00 Z" fill="#b0c800"/>
<path d="M300.00,170.00 C303.00,170.83 310.50,173.17 318.00,175.00 C325.50,176.83 336.00,179.33 345.00,181.00 C354.00,182.67 366.67,181.83 372.00,185.00 C377.33,188.17 375.83,192.00 377.00,200.00 C378.17,208.00 383.17,227.50 379.00,233.00 C374.83,238.50 357.00,236.83 352.00,233.00 C347.00,229.17 350.17,216.17 349.00,210.00 C347.83,203.83 348.17,199.67 345.00,196.00 C341.83,192.33 336.67,191.00 330.00,188.00 C323.33,185.00 309.17,179.67 305.00,178.00 Z" fill="#ccc800"/>
<path d="M350.00,182.00 C353.67,182.67 367.50,183.00 372.00,186.00 C376.50,189.00 375.83,192.17 377.00,200.00 C378.17,207.83 381.50,227.50 379.00,233.00 C376.50,238.50 365.17,236.83 362.00,233.00 C358.83,229.17 361.00,216.83 360.00,210.00 C359.00,203.17 356.67,195.00 356.00,192.00 Z" fill="#e0c800"/>
<path d="M280.20,130.00 C280.32,132.40 280.55,141.07 280.90,144.40 C281.25,147.73 281.72,147.67 282.30,150.00 C282.88,152.33 283.58,155.83 284.40,158.40 C285.22,160.97 285.17,164.08 287.20,165.40 C289.23,166.72 293.77,165.93 296.60,166.30 C299.43,166.67 299.77,166.93 304.20,167.60 C308.63,168.27 317.77,169.40 323.20,170.30 C328.63,171.20 333.18,171.42 336.80,173.00 C340.42,174.58 341.73,178.07 344.90,179.80 C348.07,181.53 351.72,182.72 355.80,183.40 C359.88,184.08 366.23,183.13 369.40,183.90 C372.57,184.67 373.45,185.73 374.80,188.00 C376.15,190.27 377.05,193.20 377.50,197.50 C377.95,201.80 377.05,208.82 377.50,213.80 C377.95,218.78 379.52,223.37 380.20,227.40 C380.88,231.43 378.63,236.23 381.60,238.00 C384.57,239.77 395.27,256.00 398.00,238.00 C400.73,220.00 398.00,148.00 398.00,130.00 Z" fill="#f5be00"/>
<path d="M296.00,130.00 C295.67,133.33 293.00,144.67 294.00,150.00 C295.00,155.33 294.33,159.17 302.00,162.00 C309.67,164.83 328.33,164.67 340.00,167.00 C351.67,169.33 364.33,172.17 372.00,176.00 C379.67,179.83 383.33,179.67 386.00,190.00 C388.67,200.33 386.00,230.00 388.00,238.00 C390.00,246.00 396.33,256.00 398.00,238.00 C399.67,220.00 398.00,148.00 398.00,130.00 Z" fill="#f8ae00"/>
<path d="M308.20,130.00 C308.20,133.55 307.73,146.17 308.20,151.30 C308.67,156.43 308.50,158.98 311.00,160.80 C313.50,162.62 318.90,162.20 323.20,162.20 C327.50,162.20 333.00,161.33 336.80,160.80 C340.60,160.27 342.38,159.68 346.00,159.00 C349.62,158.32 354.60,156.85 358.50,156.70 C362.40,156.55 366.23,157.18 369.40,158.10 C372.57,159.02 374.33,161.30 377.50,162.20 C380.67,163.10 384.98,163.50 388.40,163.50 C391.82,163.50 396.40,167.78 398.00,162.20 C399.60,156.62 398.00,135.37 398.00,130.00 Z" fill="#ee6802"/>
<path d="M360.00,130.00 C361.00,132.50 362.67,141.67 366.00,145.00 C369.33,148.33 374.67,148.83 380.00,150.00 C385.33,151.17 395.00,155.33 398.00,152.00 C401.00,148.67 398.00,133.67 398.00,130.00 Z" fill="#e95807"/>
</g>
<line x1="228.2" y1="137" x2="228.2" y2="231" stroke="#c8c8c8" stroke-opacity="0.65" stroke-width="0.75"/>
<line x1="263" y1="137" x2="263" y2="231" stroke="#c8c8c8" stroke-opacity="0.65" stroke-width="0.75"/>
<line x1="274.4" y1="137" x2="274.4" y2="231" stroke="#c8c8c8" stroke-opacity="0.65" stroke-width="0.75"/>
<line x1="287.2" y1="137" x2="287.2" y2="231" stroke="#c8c8c8" stroke-opacity="0.65" stroke-width="0.75"/>
<line x1="291.2" y1="137" x2="291.2" y2="231" stroke="#c8c8c8" stroke-opacity="0.65" stroke-width="0.75"/>
<line x1="318.3" y1="137" x2="318.3" y2="231" stroke="#c8c8c8" stroke-opacity="0.65" stroke-width="0.75"/>
<line x1="364.3" y1="137" x2="364.3" y2="231" stroke="#c8c8c8" stroke-opacity="0.65" stroke-width="0.75"/>
<line x1="387.7" y1="137" x2="387.7" y2="231" stroke="#c8c8c8" stroke-opacity="0.65" stroke-width="0.75"/>
<path d="M271.50,137.00 C270.85,137.77 268.95,140.60 267.60,141.60 C266.25,142.60 265.00,142.55 263.40,143.00 C261.80,143.45 260.15,143.95 258.00,144.30 C255.85,144.65 252.17,144.52 250.50,145.10 C248.83,145.68 248.42,147.35 248.00,147.80" fill="none" stroke="#111" stroke-width="1.5" stroke-linecap="round" stroke-linejoin="round"/>
<path d="M264.50,153.30 C265.02,153.33 265.92,153.47 267.60,153.50 C269.28,153.53 272.87,152.92 274.60,153.50 C276.33,154.08 277.10,155.25 278.00,157.00 C278.90,158.75 279.17,161.90 280.00,164.00 C280.83,166.10 281.80,168.08 283.00,169.60 C284.20,171.12 285.03,172.53 287.20,173.10 C289.37,173.67 293.17,172.78 296.00,173.00 C298.83,173.22 300.58,172.58 304.20,174.40 C307.82,176.22 313.63,181.63 317.70,183.90 C321.77,186.17 325.42,186.63 328.60,188.00 C331.78,189.37 334.98,189.62 336.80,192.10 C338.62,194.58 339.05,198.83 339.50,202.90 C339.95,206.97 339.73,211.65 339.50,216.50 C339.27,221.35 338.33,229.42 338.10,232.00" fill="none" stroke="#111" stroke-width="1.5" stroke-linecap="round" stroke-linejoin="round"/>
<path d="M280.20,137.00 C280.32,138.23 280.55,142.23 280.90,144.40 C281.25,146.57 281.72,147.67 282.30,150.00 C282.88,152.33 283.62,155.93 284.40,158.40 C285.18,160.87 285.98,163.53 287.00,164.80 C288.02,166.07 289.92,165.80 290.50,166.00" fill="none" stroke="#111" stroke-width="1.5" stroke-linecap="round" stroke-linejoin="round"/>
<path d="M302.50,167.40 C302.78,167.43 300.75,167.12 304.20,167.60 C307.65,168.08 317.77,169.40 323.20,170.30 C328.63,171.20 333.18,171.42 336.80,173.00 C340.42,174.58 341.73,178.07 344.90,179.80 C348.07,181.53 351.72,182.72 355.80,183.40 C359.88,184.08 366.23,183.13 369.40,183.90 C372.57,184.67 373.45,185.73 374.80,188.00 C376.15,190.27 377.05,193.20 377.50,197.50 C377.95,201.80 377.05,208.82 377.50,213.80 C377.95,218.78 379.52,224.37 380.20,227.40 C380.88,230.43 381.37,231.23 381.60,232.00" fill="none" stroke="#111" stroke-width="1.5" stroke-linecap="round" stroke-linejoin="round"/>
<path d="M308.20,137.00 C308.20,139.38 307.73,147.33 308.20,151.30 C308.67,155.27 308.50,158.98 311.00,160.80 C313.50,162.62 318.90,162.20 323.20,162.20 C327.50,162.20 334.42,161.08 336.80,160.80 C339.18,160.52 337.38,160.55 337.50,160.50" fill="none" stroke="#111" stroke-width="1.5" stroke-linecap="round" stroke-linejoin="round"/>
<path d="M355.00,157.20 C355.58,157.12 356.10,156.55 358.50,156.70 C360.90,156.85 366.23,157.18 369.40,158.10 C372.57,159.02 374.33,161.30 377.50,162.20 C380.67,163.10 385.32,163.50 388.40,163.50 C391.48,163.50 394.73,162.42 396.00,162.20" fill="none" stroke="#111" stroke-width="1.5" stroke-linecap="round" stroke-linejoin="round"/>
<path d="M249.60,137.00 C250.00,137.42 250.60,138.85 252.00,139.50 C253.40,140.15 256.42,140.60 258.00,140.90 C259.58,141.20 260.92,141.23 261.50,141.30" fill="none" stroke="#111" stroke-width="1.5" stroke-linecap="round" stroke-linejoin="round"/>
<path d="M269.30,140.50 C269.50,140.17 270.22,139.08 270.50,138.50 C270.78,137.92 270.92,137.25 271.00,137.00" fill="none" stroke="#111" stroke-width="1.5" stroke-linecap="round" stroke-linejoin="round"/>
<path d="M263.50,186.80 C263.12,186.98 263.12,187.90 261.20,187.90 C259.28,187.90 253.72,188.52 252.00,186.80 C250.28,185.08 250.90,180.67 250.90,177.60 C250.90,174.53 251.62,170.32 252.00,168.40 C252.38,166.48 251.67,166.68 253.20,166.10 C254.73,165.52 258.52,164.13 261.20,164.90 C263.88,165.67 267.57,168.58 269.30,170.70 C271.03,172.82 271.35,175.80 271.60,177.60 C271.85,179.40 270.93,180.85 270.80,181.50" fill="none" stroke="#111" stroke-width="1.5" stroke-linecap="round" stroke-linejoin="round"/>
<path d="M231.30,169.50 C232.08,169.47 234.65,169.27 236.00,169.30 C237.35,169.33 238.90,169.33 239.40,169.70 C239.90,170.07 239.65,171.03 239.00,171.50 C238.35,171.97 236.67,172.38 235.50,172.50 C234.33,172.62 232.58,172.25 232.00,172.20" fill="none" stroke="#111" stroke-width="1.5" stroke-linecap="round" stroke-linejoin="round"/>
<path d="M223.00,197.10 C223.75,197.13 226.75,197.27 227.50,197.30" fill="none" stroke="#111" stroke-width="1.5" stroke-linecap="round" stroke-linejoin="round"/>
<text x="265.5" y="143.505" font-size="11" fill="#111" stroke="#111" stroke-width="0.35" text-anchor="middle" font-weight="bold" textLength="8.4" lengthAdjust="spacingAndGlyphs">35</text>
<text x="255" y="157.005" font-size="11" fill="#111" stroke="#111" stroke-width="0.35" text-anchor="middle" font-weight="bold" textLength="15.2" lengthAdjust="spacingAndGlyphs">35.5</text>
<text x="223.3" y="176.405" font-size="11" fill="#111" stroke="#111" stroke-width="0.35" text-anchor="middle" font-weight="bold" textLength="15.4" lengthAdjust="spacingAndGlyphs">35.5</text>
<text x="296.6" y="170.005" font-size="11" fill="#111" stroke="#111" stroke-width="0.35" text-anchor="middle" font-weight="bold" textLength="9" lengthAdjust="spacingAndGlyphs">36</text>
<text x="346.2" y="162.805" font-size="11" fill="#111" stroke="#111" stroke-width="0.35" text-anchor="middle" font-weight="bold" textLength="16" lengthAdjust="spacingAndGlyphs">36.5</text>
<text x="268" y="190.905" font-size="11" fill="#111" stroke="#111" stroke-width="0.35" text-anchor="middle" font-weight="bold" textLength="8.8" lengthAdjust="spacingAndGlyphs">35</text>
<text x="232.5" y="203.305" font-size="11" fill="#111" stroke="#111" stroke-width="0.35" text-anchor="middle" font-weight="bold" textLength="9.2" lengthAdjust="spacingAndGlyphs">35</text>
</g>
<clipPath id="c5"><rect x="223" y="237.5" width="173" height="93"/></clipPath>
<g clip-path="url(#c5)">
<g filter="url(#bl2)">
<rect x="221" y="235.5" width="177" height="97" fill="#46b023"/>
<path d="M240.00,284.00 C243.67,283.33 253.33,279.50 262.00,280.00 C270.67,280.50 285.17,282.83 292.00,287.00 C298.83,291.17 303.33,299.17 303.00,305.00 C302.67,310.83 297.17,318.50 290.00,322.00 C282.83,325.50 268.67,326.67 260.00,326.00 C251.33,325.33 242.67,322.33 238.00,318.00 C233.33,313.67 233.00,303.00 232.00,300.00 Z" fill="#2eb332"/>
<path d="M312.00,288.00 C315.33,287.17 327.00,282.33 332.00,283.00 C337.00,283.67 340.00,287.50 342.00,292.00 C344.00,296.50 343.83,303.17 344.00,310.00 C344.17,316.83 349.00,329.17 343.00,333.00 C337.00,336.83 314.50,337.17 308.00,333.00 C301.50,328.83 304.67,312.17 304.00,308.00 Z" fill="#54b11f"/>
<path d="M222.00,241.00 C226.67,241.13 240.33,241.88 250.00,241.80 C259.67,241.72 274.50,241.47 280.00,240.50 C285.50,239.53 263.33,236.75 283.00,236.00 C302.67,235.25 378.83,220.00 398.00,236.00 C417.17,252.00 407.17,316.00 398.00,332.00 C388.83,348.00 351.92,336.33 343.00,332.00 C334.08,327.67 344.50,311.75 344.50,306.00 C344.50,300.25 343.92,300.03 343.00,297.50 C342.08,294.97 340.57,293.33 339.00,290.80 C337.43,288.27 335.90,284.30 333.60,282.30 C331.30,280.30 328.47,280.08 325.20,278.80 C321.93,277.52 316.68,275.88 314.00,274.60 C311.32,273.32 311.43,271.87 309.10,271.10 C306.77,270.33 302.92,270.00 300.00,270.00 C297.08,270.00 293.93,270.77 291.60,271.10 C289.27,271.43 288.43,272.00 286.00,272.00 C283.57,272.00 280.83,270.67 277.00,271.10 C273.17,271.53 267.20,274.25 263.00,274.60 C258.80,274.95 255.30,274.02 251.80,273.20 C248.30,272.38 246.97,270.40 242.00,269.70 C237.03,269.00 225.33,269.12 222.00,269.00 Z" fill="#64b41c"/>
<path d="M222.00,245.50 C226.38,245.67 242.40,246.45 248.30,246.50 C254.20,246.55 254.25,245.92 257.40,245.80 C260.55,245.68 264.63,245.68 267.20,245.80 C269.77,245.92 270.47,246.50 272.80,246.50 C275.13,246.50 279.22,246.62 281.20,245.80 C283.18,244.98 283.77,243.23 284.70,241.60 C285.63,239.97 267.92,236.93 286.80,236.00 C305.68,235.07 379.47,220.00 398.00,236.00 C416.53,252.00 406.32,316.00 398.00,332.00 C389.68,348.00 356.18,336.33 348.10,332.00 C340.02,327.67 349.50,312.58 349.50,306.00 C349.50,299.42 349.02,295.87 348.10,292.50 C347.18,289.13 345.58,288.33 344.00,285.80 C342.42,283.27 340.90,279.30 338.60,277.30 C336.30,275.30 333.47,275.08 330.20,273.80 C326.93,272.52 321.68,270.88 319.00,269.60 C316.32,268.32 316.43,266.87 314.10,266.10 C311.77,265.33 307.92,265.00 305.00,265.00 C302.08,265.00 298.93,265.77 296.60,266.10 C294.27,266.43 294.27,267.00 291.00,267.00 C287.73,267.00 281.67,265.67 277.00,266.10 C272.33,266.53 267.20,269.25 263.00,269.60 C258.80,269.95 255.30,269.02 251.80,268.20 C248.30,267.38 246.97,265.40 242.00,264.70 C237.03,264.00 225.33,264.12 222.00,264.00 Z" fill="#b4c800"/>
<path d="M226.00,249.00 C230.00,249.17 241.83,249.83 250.00,250.00 C258.17,250.17 269.67,249.67 275.00,250.00 C280.33,250.33 279.17,250.67 282.00,252.00 C284.83,253.33 292.33,256.33 292.00,258.00 C291.67,259.67 285.00,261.00 280.00,262.00 C275.00,263.00 268.67,264.17 262.00,264.00 C255.33,263.83 246.00,262.00 240.00,261.00 C234.00,260.00 228.33,258.50 226.00,258.00 Z" fill="#e6c800"/>
<path d="M255.00,248.50 C254.35,248.98 251.63,249.98 251.10,251.40 C250.57,252.82 250.75,255.60 251.80,257.00 C252.85,258.40 254.83,259.33 257.40,259.80 C259.97,260.27 264.98,260.73 267.20,259.80 C269.42,258.87 270.32,255.83 270.70,254.20 C271.08,252.57 270.95,251.12 269.50,250.00 C268.05,248.88 263.25,247.92 262.00,247.50 Z" fill="#f4c000"/>
<path d="M284.70,236.00 C284.70,237.40 284.82,242.07 284.70,244.40 C284.58,246.73 283.42,248.37 284.00,250.00 C284.58,251.63 286.10,253.50 288.20,254.20 C290.30,254.90 294.62,255.13 296.60,254.20 C298.58,253.27 299.40,250.70 300.10,248.60 C300.80,246.50 300.65,243.70 300.80,241.60 C300.95,239.50 300.97,236.93 301.00,236.00 Z" fill="#f4c000"/>
<path d="M302.00,236.00 C302.33,238.33 303.00,246.33 304.00,250.00 C305.00,253.67 306.67,256.00 308.00,258.00 C309.33,260.00 311.50,265.67 312.00,262.00 C312.50,258.33 311.17,240.33 311.00,236.00 Z" fill="#f2c400"/>
<path d="M362.00,285.00 C364.17,284.83 372.17,282.83 375.00,284.00 C377.83,285.17 377.83,288.83 379.00,292.00 C380.17,295.17 381.50,296.17 382.00,303.00 C382.50,309.83 384.83,328.00 382.00,333.00 C379.17,338.00 368.33,336.83 365.00,333.00 C361.67,329.17 362.50,313.83 362.00,310.00 Z" fill="#d2c800"/>
<path d="M312.00,236.00 C311.77,237.87 310.60,243.82 310.60,247.20 C310.60,250.58 311.43,253.83 312.00,256.30 C312.57,258.77 312.83,260.13 314.00,262.00 C315.17,263.87 317.00,266.23 319.00,267.50 C321.00,268.77 322.97,268.67 326.00,269.60 C329.03,270.53 333.70,272.03 337.20,273.10 C340.70,274.17 344.20,275.18 347.00,276.00 C349.80,276.82 351.67,277.42 354.00,278.00 C356.33,278.58 358.35,279.10 361.00,279.50 C363.65,279.90 367.55,279.95 369.90,280.40 C372.25,280.85 373.65,280.47 375.10,282.20 C376.55,283.93 377.45,287.62 378.60,290.80 C379.75,293.98 380.57,299.12 382.00,301.30 C383.43,303.48 384.53,303.33 387.20,303.90 C389.87,304.47 396.20,316.02 398.00,304.70 C399.80,293.38 398.00,247.45 398.00,236.00 Z" fill="#f7ba00"/>
<path d="M316.00,236.00 C315.67,238.33 313.67,245.67 314.00,250.00 C314.33,254.33 315.33,258.83 318.00,262.00 C320.67,265.17 324.67,267.50 330.00,269.00 C335.33,270.50 343.00,271.17 350.00,271.00 C357.00,270.83 364.00,268.67 372.00,268.00 C380.00,267.33 393.67,272.33 398.00,267.00 C402.33,261.67 398.00,241.17 398.00,236.00 Z" fill="#f8a600"/>
<path d="M319.00,236.00 C318.77,237.87 317.60,243.47 317.60,247.20 C317.60,250.93 318.42,256.18 319.00,258.40 C319.58,260.62 319.93,259.57 321.10,260.50 C322.27,261.43 323.95,263.08 326.00,264.00 C328.05,264.92 330.13,265.65 333.40,266.00 C336.67,266.35 341.13,266.17 345.60,266.10 C350.07,266.03 355.97,266.13 360.20,265.60 C364.43,265.07 364.70,263.57 371.00,262.90 C377.30,262.23 393.50,266.08 398.00,261.60 C402.50,257.12 398.00,240.27 398.00,236.00 Z" fill="#ee6802"/>
<path d="M323.20,236.00 C324.13,237.28 326.00,242.30 328.80,243.70 C331.60,245.10 336.50,244.52 340.00,244.40 C343.50,244.28 347.93,244.40 349.80,243.00 C351.67,241.60 350.97,237.17 351.20,236.00 Z" fill="#f8ac00"/>
<path d="M358.00,236.00 C358.50,237.83 358.67,244.17 361.00,247.00 C363.33,249.83 367.50,252.33 372.00,253.00 C376.50,253.67 383.67,252.17 388.00,251.00 C392.33,249.83 396.33,248.50 398.00,246.00 C399.67,243.50 398.00,237.67 398.00,236.00 Z" fill="#df3811"/>
<path d="M380.40,333.00 C380.50,330.50 380.73,322.83 381.00,318.00 C381.27,313.17 379.17,306.33 382.00,304.00 C384.83,301.67 395.33,299.17 398.00,304.00 C400.67,308.83 398.00,328.17 398.00,333.00 Z" fill="#f3c200"/>
</g>
<line x1="228" y1="237.5" x2="228" y2="330.5" stroke="#c8c8c8" stroke-opacity="0.65" stroke-width="0.75"/>
<line x1="263.2" y1="237.5" x2="263.2" y2="330.5" stroke="#c8c8c8" stroke-opacity="0.65" stroke-width="0.75"/>
<line x1="275.1" y1="237.5" x2="275.1" y2="330.5" stroke="#c8c8c8" stroke-opacity="0.65" stroke-width="0.75"/>
<line x1="292.5" y1="237.5" x2="292.5" y2="330.5" stroke="#c8c8c8" stroke-opacity="0.65" stroke-width="0.75"/>
<line x1="306.4" y1="237.5" x2="306.4" y2="330.5" stroke="#c8c8c8" stroke-opacity="0.65" stroke-width="0.75"/>
<line x1="318.8" y1="237.5" x2="318.8" y2="330.5" stroke="#c8c8c8" stroke-opacity="0.65" stroke-width="0.75"/>
<line x1="338.4" y1="237.5" x2="338.4" y2="330.5" stroke="#c8c8c8" stroke-opacity="0.65" stroke-width="0.75"/>
<line x1="364.5" y1="237.5" x2="364.5" y2="330.5" stroke="#c8c8c8" stroke-opacity="0.65" stroke-width="0.75"/>
<line x1="371" y1="237.5" x2="371" y2="330.5" stroke="#c8c8c8" stroke-opacity="0.65" stroke-width="0.75"/>
<line x1="387.6" y1="237.5" x2="387.6" y2="330.5" stroke="#c8c8c8" stroke-opacity="0.65" stroke-width="0.75"/>
<path d="M223.00,243.70 C226.17,243.47 238.50,242.58 242.00,242.30 C245.50,242.02 243.67,242.05 244.00,242.00" fill="none" stroke="#111" stroke-width="1.5" stroke-linecap="round" stroke-linejoin="round"/>
<path d="M255.50,241.60 C255.82,241.60 255.45,241.48 257.40,241.60 C259.35,241.72 263.93,242.30 267.20,242.30 C270.47,242.30 274.67,242.30 277.00,241.60 C279.33,240.90 280.37,238.87 281.20,238.10 C282.03,237.33 281.87,237.18 282.00,237.00" fill="none" stroke="#111" stroke-width="1.5" stroke-linecap="round" stroke-linejoin="round"/>
<path d="M246.00,246.80 C247.90,246.63 253.87,245.97 257.40,245.80 C260.93,245.63 264.63,245.68 267.20,245.80 C269.77,245.92 270.47,246.50 272.80,246.50 C275.13,246.50 279.22,246.62 281.20,245.80 C283.18,244.98 283.77,243.07 284.70,241.60 C285.63,240.13 286.45,237.77 286.80,237.00" fill="none" stroke="#111" stroke-width="1.5" stroke-linecap="round" stroke-linejoin="round"/>
<path d="M256.00,248.30 C255.18,248.82 251.80,249.95 251.10,251.40 C250.40,252.85 250.75,255.60 251.80,257.00 C252.85,258.40 254.83,259.33 257.40,259.80 C259.97,260.27 264.98,260.73 267.20,259.80 C269.42,258.87 270.32,255.67 270.70,254.20 C271.08,252.73 269.70,251.53 269.50,251.00" fill="none" stroke="#111" stroke-width="1.5" stroke-linecap="round" stroke-linejoin="round"/>
<path d="M284.70,237.00 C284.70,238.23 284.82,242.23 284.70,244.40 C284.58,246.57 283.42,248.37 284.00,250.00 C284.58,251.63 286.10,253.50 288.20,254.20 C290.30,254.90 294.62,255.13 296.60,254.20 C298.58,253.27 299.40,250.70 300.10,248.60 C300.80,246.50 300.65,243.53 300.80,241.60 C300.95,239.67 300.97,237.77 301.00,237.00" fill="none" stroke="#111" stroke-width="1.5" stroke-linecap="round" stroke-linejoin="round"/>
<path d="M223.00,264.00 C226.17,264.12 237.20,264.00 242.00,264.70 C246.80,265.40 248.30,267.38 251.80,268.20 C255.30,269.02 258.80,269.95 263.00,269.60 C267.20,269.25 272.80,266.68 277.00,266.10 C281.20,265.52 284.93,266.10 288.20,266.10 C291.47,266.10 295.05,266.15 296.60,266.10 C298.15,266.05 297.35,265.85 297.50,265.80" fill="none" stroke="#111" stroke-width="1.5" stroke-linecap="round" stroke-linejoin="round"/>
<path d="M314.10,266.10 C314.92,266.68 316.32,268.32 319.00,269.60 C321.68,270.88 326.93,272.52 330.20,273.80 C333.47,275.08 336.30,275.30 338.60,277.30 C340.90,279.30 342.42,283.27 344.00,285.80 C345.58,288.33 347.18,289.13 348.10,292.50 C349.02,295.87 349.50,299.42 349.50,306.00 C349.50,312.58 348.33,327.67 348.10,332.00" fill="none" stroke="#111" stroke-width="1.5" stroke-linecap="round" stroke-linejoin="round"/>
<path d="M312.00,237.00 C311.77,238.70 310.60,243.98 310.60,247.20 C310.60,250.42 311.77,254.78 312.00,256.30" fill="none" stroke="#111" stroke-width="1.5" stroke-linecap="round" stroke-linejoin="round"/>
<path d="M319.00,267.50 C320.17,267.85 322.97,268.67 326.00,269.60 C329.03,270.53 333.70,272.03 337.20,273.10 C340.70,274.17 344.52,275.02 347.00,276.00 C349.48,276.98 350.85,278.42 352.10,279.00 C353.35,279.58 354.10,279.42 354.50,279.50" fill="none" stroke="#111" stroke-width="1.5" stroke-linecap="round" stroke-linejoin="round"/>
<path d="M367.50,280.40 C367.90,280.40 368.63,280.10 369.90,280.40 C371.17,280.70 373.65,280.47 375.10,282.20 C376.55,283.93 377.45,287.62 378.60,290.80 C379.75,293.98 380.57,299.12 382.00,301.30 C383.43,303.48 384.87,303.33 387.20,303.90 C389.53,304.47 394.53,304.57 396.00,304.70" fill="none" stroke="#111" stroke-width="1.5" stroke-linecap="round" stroke-linejoin="round"/>
<path d="M381.70,323.80 C381.62,325.17 381.28,330.63 381.20,332.00" fill="none" stroke="#111" stroke-width="1.5" stroke-linecap="round" stroke-linejoin="round"/>
<path d="M394.00,316.00 C394.33,316.00 395.67,316.00 396.00,316.00" fill="none" stroke="#111" stroke-width="1.5" stroke-linecap="round" stroke-linejoin="round"/>
<path d="M319.00,237.00 C318.77,238.70 317.60,243.63 317.60,247.20 C317.60,250.77 318.42,256.18 319.00,258.40 C319.58,260.62 320.10,259.73 321.10,260.50 C322.10,261.27 324.35,262.58 325.00,263.00" fill="none" stroke="#111" stroke-width="1.5" stroke-linecap="round" stroke-linejoin="round"/>
<path d="M342.00,266.10 C342.60,266.10 342.57,266.18 345.60,266.10 C348.63,266.02 355.97,266.13 360.20,265.60 C364.43,265.07 365.03,263.57 371.00,262.90 C376.97,262.23 391.83,261.82 396.00,261.60" fill="none" stroke="#111" stroke-width="1.5" stroke-linecap="round" stroke-linejoin="round"/>
<path d="M323.20,237.00 C324.13,238.12 326.00,242.47 328.80,243.70 C331.60,244.93 336.50,244.52 340.00,244.40 C343.50,244.28 347.93,244.23 349.80,243.00 C351.67,241.77 350.97,238.00 351.20,237.00" fill="none" stroke="#111" stroke-width="1.5" stroke-linecap="round" stroke-linejoin="round"/>
<path d="M256.00,303.80 C256.67,304.13 258.67,305.52 260.00,305.80 C261.33,306.08 263.08,305.88 264.00,305.50 C264.92,305.12 265.25,303.83 265.50,303.50" fill="none" stroke="#111" stroke-width="1.5" stroke-linecap="round" stroke-linejoin="round"/>
<text x="249.7" y="244.405" font-size="11" fill="#111" stroke="#111" stroke-width="0.35" text-anchor="middle" font-weight="bold" textLength="8.6" lengthAdjust="spacingAndGlyphs">35</text>
<text x="236.4" y="255.405" font-size="11" fill="#111" stroke="#111" stroke-width="0.35" text-anchor="middle" font-weight="bold" textLength="15.4" lengthAdjust="spacingAndGlyphs">35.5</text>
<text x="262.3" y="253.905" font-size="11" fill="#111" stroke="#111" stroke-width="0.35" text-anchor="middle" font-weight="bold" textLength="8.4" lengthAdjust="spacingAndGlyphs">36</text>
<text x="294.2" y="246.205" font-size="11" fill="#111" stroke="#111" stroke-width="0.35" text-anchor="middle" font-weight="bold" textLength="8" lengthAdjust="spacingAndGlyphs">36</text>
<text x="305.7" y="265.405" font-size="11" fill="#111" stroke="#111" stroke-width="0.35" text-anchor="middle" font-weight="bold" textLength="15.4" lengthAdjust="spacingAndGlyphs">35.5</text>
<text x="333.4" y="270.005" font-size="11" fill="#111" stroke="#111" stroke-width="0.35" text-anchor="middle" font-weight="bold" textLength="14.7" lengthAdjust="spacingAndGlyphs">36.5</text>
<text x="360.8" y="286.505" font-size="11" fill="#111" stroke="#111" stroke-width="0.35" text-anchor="middle" font-weight="bold" textLength="9.2" lengthAdjust="spacingAndGlyphs">36</text>
<text x="387.7" y="321.705" font-size="11" fill="#111" stroke="#111" stroke-width="0.35" text-anchor="middle" font-weight="bold" textLength="9.4" lengthAdjust="spacingAndGlyphs">36</text>
<text x="260.5" y="304.305" font-size="11" fill="#111" stroke="#111" stroke-width="0.35" text-anchor="middle" font-weight="bold" textLength="9" lengthAdjust="spacingAndGlyphs">35</text>
</g>
<clipPath id="c6"><rect x="400" y="38" width="174" height="93"/></clipPath>
<g clip-path="url(#c6)">
<g filter="url(#bl)">
<rect x="398" y="36" width="178" height="97" fill="#f8b080"/>
<polygon points="399.0,38.0 575.0,38.0 575.0,136.0 399.0,136.0" fill="#f8b080"/>
<polygon points="399.0,41.2 418.5,41.1 427.0,40.3 438.5,40.1 454.0,41.5 479.5,42.0 505.5,42.8 575.0,44.0 575.0,136.0 399.0,136.0" fill="#f8af80"/>
<polygon points="399.0,44.5 418.5,44.3 421.0,43.9 424.5,43.0 427.0,42.5 438.5,42.3 441.5,42.6 450.5,44.7 454.0,45.1 479.5,46.0 491.0,46.8 505.5,47.5 575.0,49.9 575.0,136.0 399.0,136.0" fill="#f7ab81"/>
<polygon points="399.0,47.8 410.0,47.7 418.5,47.4 421.0,46.9 424.5,45.4 427.0,44.8 438.5,44.4 441.5,45.0 450.5,48.0 454.0,48.6 479.5,50.0 491.0,51.2 505.5,52.3 575.0,55.9 575.0,136.0 399.0,136.0" fill="#f6a682"/>
<polygon points="399.0,51.0 410.0,51.0 418.5,50.5 421.0,49.8 424.5,47.9 427.0,47.1 438.5,46.6 440.0,46.8 441.5,47.3 450.5,51.3 454.0,52.2 479.5,54.0 491.0,55.6 505.5,57.0 575.0,61.8 575.0,136.0 399.0,136.0" fill="#f49b84"/>
<polygon points="399.0,52.4 410.0,52.3 418.5,51.9 421.0,51.2 424.5,49.3 427.0,48.4 438.5,48.0 440.0,48.2 441.5,48.7 450.5,52.7 454.0,53.5 479.0,55.3 490.5,56.8 504.5,58.0 549.0,60.6 575.0,62.5 575.0,136.0 399.0,136.0" fill="#f08988"/>
<polygon points="399.0,53.8 410.0,53.7 418.5,53.3 421.0,52.6 424.5,50.7 427.0,49.8 438.5,49.3 440.0,49.5 441.5,50.0 450.5,54.1 454.0,54.9 479.0,56.7 492.0,58.1 506.0,59.0 549.5,61.2 575.0,63.1 575.0,136.0 399.0,136.0" fill="#e7727b"/>
<polygon points="399.0,55.1 410.0,55.1 418.5,54.7 421.0,54.0 424.5,52.0 427.0,51.2 438.5,50.7 440.0,50.9 441.5,51.4 450.5,55.5 454.0,56.3 479.0,58.1 491.5,59.3 549.0,61.8 575.0,63.7 575.0,136.0 399.0,136.0" fill="#de5868"/>
<polygon points="399.0,56.5 410.0,56.5 418.5,56.0 421.0,55.3 424.5,53.4 427.0,52.6 438.5,52.1 440.0,52.3 441.5,52.8 450.5,56.8 454.0,57.7 479.0,59.4 491.0,60.5 549.0,62.5 575.0,64.3 575.0,136.0 399.0,136.0" fill="#d94555"/>
<polygon points="399.0,57.4 410.0,57.3 418.5,56.9 421.0,56.2 424.5,54.3 427.0,53.4 438.5,53.0 440.0,53.2 441.5,53.7 446.0,55.9 450.5,57.8 454.0,58.7 490.0,61.2 506.5,61.6 548.5,63.0 575.0,64.8 575.0,136.0 399.0,136.0" fill="#d5374a"/>
<polygon points="399.0,58.2 410.0,58.2 418.5,57.8 421.0,57.1 424.5,55.2 427.0,54.3 438.5,53.8 441.0,54.4 446.0,56.9 450.5,58.8 454.0,59.7 465.0,60.5 490.0,62.0 506.0,62.0 549.0,63.5 575.0,65.3 575.0,136.0 399.0,136.0" fill="#d12b42"/>
<polygon points="399.0,59.1 410.0,59.1 418.5,58.7 421.0,58.0 424.5,56.0 427.0,55.2 438.5,54.7 441.0,55.3 445.5,57.7 450.5,59.8 454.0,60.7 465.0,61.5 489.5,62.7 506.0,62.5 548.5,64.0 575.0,65.8 575.0,136.0 399.0,136.0" fill="#d0253a"/>
<polygon points="399.0,60.0 410.0,60.0 418.5,59.5 421.0,58.8 424.5,56.9 427.0,56.1 438.5,55.6 441.0,56.2 445.5,58.7 450.0,60.6 452.0,61.3 454.0,61.7 465.5,62.5 489.0,63.4 506.0,63.0 548.5,64.5 575.0,66.3 575.0,136.0 399.0,136.0" fill="#d02233"/>
<polygon points="399.0,61.0 410.0,61.0 418.5,60.5 421.0,59.8 424.5,57.9 427.0,57.1 438.5,56.6 441.0,57.2 445.5,59.7 450.5,61.9 454.0,62.8 467.0,63.7 505.5,65.1 521.0,66.4 550.0,68.0 575.0,70.4 575.0,136.0 399.0,136.0" fill="#d1202c"/>
<polygon points="399.0,62.0 410.0,62.0 418.5,61.5 421.0,60.8 424.5,58.9 427.0,58.1 438.5,57.6 441.0,58.2 446.0,60.9 450.5,63.0 453.5,63.8 466.5,64.8 490.5,65.8 503.0,66.8 520.5,69.3 549.5,71.5 575.0,74.5 575.0,136.0 399.0,136.0" fill="#d42024"/>
<polygon points="399.0,63.0 410.0,63.0 418.5,62.5 421.0,61.8 424.5,59.9 427.0,59.1 438.5,58.6 441.0,59.2 445.5,61.7 450.0,63.9 451.5,64.5 453.5,65.0 478.0,66.6 491.0,67.0 505.0,69.0 520.5,72.1 549.5,75.0 573.0,78.4 575.0,78.6 575.0,136.0 399.0,136.0" fill="#d7201c"/>
<polygon points="399.0,64.0 409.5,64.0 418.0,63.6 420.5,63.0 425.0,60.7 427.0,60.1 439.0,59.6 441.5,60.4 446.0,63.0 450.5,65.2 453.5,66.1 478.5,67.9 488.5,68.0 491.0,68.2 505.0,71.0 520.5,75.0 549.5,78.5 573.0,82.5 575.0,82.7 575.0,136.0 399.0,136.0" fill="#de3412"/>
<polygon points="399.0,64.2 409.5,64.2 418.0,63.8 420.5,63.3 425.0,60.9 427.0,60.3 439.0,59.9 441.5,60.7 450.5,65.6 453.5,66.5 467.0,67.6 479.0,68.3 490.5,68.7 504.5,71.4 520.5,75.5 549.5,78.8 573.0,83.0 575.0,83.1 575.0,136.0 399.0,136.0" fill="#ea5c06"/>
<polygon points="399.0,64.5 409.5,64.5 418.0,64.1 420.5,63.5 425.0,61.2 427.0,60.6 439.0,60.1 441.5,60.9 450.5,65.9 453.5,66.9 466.0,68.0 490.5,69.2 504.5,71.9 520.5,76.0 549.5,79.2 573.0,83.5 575.0,83.6 575.0,136.0 399.0,136.0" fill="#f27c00"/>
<polygon points="399.0,64.8 409.5,64.7 418.0,64.3 420.5,63.8 425.0,61.4 427.0,60.8 439.0,60.4 441.5,61.2 450.5,66.3 453.5,67.3 465.5,68.5 490.5,69.7 504.5,72.4 520.5,76.5 549.5,79.6 573.0,83.9 575.0,84.1 575.0,136.0 399.0,136.0" fill="#f69400"/>
<polygon points="399.0,65.0 409.5,65.0 418.0,64.6 420.5,64.0 425.0,61.7 427.0,61.1 439.0,60.6 441.5,61.4 450.5,66.6 453.5,67.6 465.5,69.0 481.5,69.6 490.5,70.2 504.5,72.9 520.5,77.0 549.5,80.0 573.0,84.4 575.0,84.6 575.0,136.0 399.0,136.0" fill="#f8a500"/>
<polygon points="399.0,65.5 409.5,65.5 418.0,65.1 420.5,64.5 425.0,62.2 427.0,61.6 439.0,61.1 441.5,61.9 450.5,67.1 453.5,68.1 465.0,69.5 480.5,70.0 490.5,70.8 504.5,73.5 520.5,77.5 549.5,80.6 573.0,84.9 575.0,85.1 575.0,136.0 399.0,136.0" fill="#f8ae00"/>
<polygon points="399.0,66.0 409.5,66.0 418.0,65.6 420.5,65.0 425.0,62.7 427.0,62.1 439.0,61.6 441.5,62.4 450.5,67.6 453.5,68.6 465.0,70.0 480.0,70.5 490.0,71.3 504.5,74.2 520.5,78.0 549.5,81.2 573.0,85.5 575.0,85.6 575.0,136.0 399.0,136.0" fill="#f8b800"/>
<polygon points="399.0,66.5 409.5,66.5 418.0,66.1 420.5,65.5 425.0,63.2 427.0,62.6 439.0,62.1 441.5,62.9 450.5,68.1 453.5,69.1 465.0,70.5 480.0,71.0 490.0,71.9 504.5,74.8 520.5,78.5 549.5,81.8 573.0,86.0 575.0,86.1 575.0,136.0 399.0,136.0" fill="#f5be00"/>
<polygon points="399.0,67.0 409.5,67.0 418.0,66.6 420.5,66.0 425.0,63.7 427.0,63.1 439.0,62.6 441.5,63.4 450.5,68.6 453.5,69.6 465.0,71.0 479.5,71.5 489.5,72.5 504.0,75.3 520.5,79.0 549.5,82.5 573.0,86.5 575.0,86.7 575.0,136.0 399.0,136.0" fill="#f0c800"/>
<polygon points="399.0,67.6 409.5,67.6 418.0,67.2 420.5,66.7 425.0,64.3 427.0,63.7 439.0,63.3 441.5,64.1 450.5,69.6 453.5,70.6 465.0,72.0 479.5,72.5 489.5,73.5 504.0,76.4 520.5,80.3 549.5,84.1 573.0,87.8 575.0,87.9 575.0,136.0 399.0,136.0" fill="#d0c800"/>
<polygon points="399.0,68.2 409.5,68.2 418.0,67.8 420.5,67.3 425.0,64.9 427.0,64.3 439.0,63.9 441.5,64.8 450.5,70.5 452.0,71.2 453.5,71.6 464.5,72.9 479.5,73.5 489.5,74.5 504.0,77.5 521.0,81.6 573.0,89.1 575.0,89.2 575.0,136.0 399.0,136.0" fill="#aac800"/>
<polygon points="399.0,68.9 409.5,68.9 418.0,68.5 420.5,67.9 425.0,65.5 427.0,64.9 439.0,64.5 441.5,65.4 450.5,71.5 452.0,72.2 453.5,72.6 464.5,73.9 480.0,74.5 489.5,75.5 504.0,78.7 521.5,83.0 550.5,87.4 575.0,90.5 575.0,136.0 399.0,136.0" fill="#7eba14"/>
<polygon points="399.0,69.5 410.0,69.5 418.5,69.0 421.0,68.3 424.5,66.4 427.0,65.6 438.5,65.1 440.0,65.4 441.5,66.1 450.5,72.4 452.0,73.2 453.5,73.6 464.5,74.9 480.0,75.5 489.5,76.5 504.0,79.8 521.5,84.2 550.0,89.0 575.0,91.8 575.0,136.0 399.0,136.0" fill="#5eb31d"/>
<polygon points="399.0,69.9 409.5,69.9 418.0,69.5 420.5,68.9 425.0,66.7 427.0,66.1 438.5,65.7 440.0,66.0 441.5,66.7 450.5,72.9 452.0,73.7 453.5,74.1 464.5,75.4 480.0,76.0 489.5,77.0 522.0,84.8 550.0,89.6 575.0,92.3 575.0,136.0 399.0,136.0" fill="#4cb021"/>
<polygon points="399.0,70.2 409.5,70.2 418.0,69.8 420.5,69.3 425.0,67.1 427.0,66.6 438.5,66.3 440.0,66.6 441.5,67.3 450.5,73.4 452.0,74.2 453.5,74.6 465.0,76.0 479.5,76.5 489.0,77.4 492.0,78.0 518.0,84.5 522.0,85.3 550.0,90.2 575.0,92.8 575.0,136.0 399.0,136.0" fill="#40b025"/>
<polygon points="399.0,70.6 409.5,70.6 418.0,70.2 420.5,69.7 425.0,67.6 427.0,67.1 438.5,66.9 440.0,67.2 441.5,67.8 445.0,70.0 450.5,73.9 452.0,74.7 453.5,75.1 465.0,76.5 479.5,77.0 489.0,77.9 492.0,78.5 520.0,85.5 548.0,90.5 552.0,91.1 575.0,93.3 575.0,136.0 399.0,136.0" fill="#34b12c"/>
<polygon points="399.0,71.0 409.5,71.0 418.0,70.6 420.5,70.1 425.0,68.1 427.0,67.6 438.5,67.5 440.0,67.8 442.0,68.7 445.5,70.9 450.5,74.4 452.0,75.2 453.5,75.6 465.0,77.0 479.5,77.5 489.0,78.4 492.0,79.0 506.0,82.7 519.5,85.9 548.0,91.1 552.0,91.7 575.0,93.8 575.0,136.0 399.0,136.0" fill="#2ab536"/>
<polygon points="399.0,71.8 409.5,71.7 418.0,71.3 420.5,70.9 425.0,68.9 427.0,68.5 438.5,68.4 440.0,68.7 441.5,69.3 450.5,75.1 452.0,75.8 453.5,76.3 465.0,77.7 479.5,78.3 489.0,79.2 492.0,79.8 505.5,83.3 519.0,86.4 548.0,91.8 552.0,92.3 575.0,94.4 575.0,136.0 399.0,136.0" fill="#22b73e"/>
<polygon points="399.0,72.5 409.5,72.5 418.0,72.1 420.5,71.6 425.0,69.8 427.0,69.3 438.5,69.3 440.0,69.6 441.5,70.2 450.5,75.8 452.0,76.5 454.0,77.0 465.0,78.4 479.5,79.0 489.0,79.9 492.0,80.5 505.5,84.1 518.5,86.9 548.0,92.4 552.0,92.9 575.0,95.1 575.0,136.0 399.0,136.0" fill="#1cbc49"/>
<polygon points="399.0,73.2 409.5,73.2 418.0,72.8 420.5,72.4 425.0,70.6 427.0,70.2 438.5,70.2 440.0,70.5 441.5,71.1 450.5,76.4 452.0,77.1 454.0,77.7 465.0,79.2 479.5,79.8 489.0,80.7 492.0,81.3 507.0,85.2 521.0,88.1 548.0,93.0 552.0,93.6 575.0,95.7 575.0,136.0 399.0,136.0" fill="#16c254"/>
<polygon points="399.0,74.0 409.5,74.0 418.0,73.6 420.5,73.2 425.0,71.5 427.0,71.1 438.5,71.0 440.0,71.3 441.5,71.9 450.5,77.1 452.0,77.8 454.0,78.3 465.0,79.9 479.5,80.5 489.0,81.4 492.0,82.0 507.0,85.9 521.0,88.7 548.5,93.7 552.0,94.2 575.0,96.3 575.0,136.0 399.0,136.0" fill="#10ca68"/>
<polygon points="399.0,75.0 409.5,75.0 418.0,74.6 420.5,74.2 425.0,72.7 427.0,72.3 439.0,72.3 441.5,73.1 450.5,77.9 453.5,78.9 465.0,80.4 479.5,81.1 488.5,82.1 491.5,82.6 506.5,86.4 548.5,94.2 552.0,94.7 575.0,96.9 575.0,136.0 399.0,136.0" fill="#10d088"/>
<polygon points="399.0,76.0 410.0,76.0 418.5,75.6 421.0,75.1 425.0,73.9 427.5,73.5 439.0,73.6 441.5,74.3 450.5,78.7 453.5,79.7 465.0,81.0 480.0,81.7 488.0,82.7 491.5,83.4 506.0,86.9 548.5,94.7 575.0,97.5 575.0,136.0 399.0,136.0" fill="#10d0a2"/>
<polygon points="399.0,77.0 410.0,77.0 418.5,76.6 421.0,76.2 425.0,75.1 427.5,74.8 439.0,74.8 441.5,75.5 450.5,79.5 453.5,80.4 464.5,81.4 478.5,82.2 482.0,82.5 490.5,83.9 506.0,87.5 548.5,95.2 575.0,98.2 575.0,136.0 399.0,136.0" fill="#10cbbb"/>
<polygon points="399.0,78.0 409.5,78.0 418.0,77.6 421.0,77.2 425.0,76.3 427.5,76.0 439.0,76.1 441.5,76.6 450.5,80.3 453.0,81.0 481.5,83.1 490.5,84.6 506.0,88.2 521.0,90.7 549.0,95.8 575.0,98.8 575.0,136.0 399.0,136.0" fill="#10c5ce"/>
<polygon points="399.0,79.2 410.0,79.2 418.5,78.9 421.0,78.6 425.0,77.8 427.5,77.5 439.5,77.6 442.0,78.1 450.5,80.9 453.0,81.4 464.5,82.3 480.5,83.2 490.0,85.0 505.5,88.6 521.0,91.1 549.0,96.3 575.0,99.2 575.0,136.0 399.0,136.0" fill="#10bedb"/>
<polygon points="399.0,80.5 418.0,80.3 420.5,80.1 427.0,79.0 438.5,79.0 442.0,79.4 450.5,81.4 453.5,81.8 465.0,82.6 479.5,83.2 482.0,83.7 505.0,89.0 521.0,91.4 549.0,96.7 575.0,99.5 575.0,136.0 399.0,136.0" fill="#10b8e8"/>
<polygon points="399.0,81.8 418.0,81.7 420.5,81.5 427.0,80.5 438.5,80.5 443.5,80.9 454.0,82.3 465.0,83.0 479.0,83.4 481.5,83.8 491.0,86.2 504.5,89.4 521.0,91.8 549.0,97.1 575.0,99.9 575.0,136.0 399.0,136.0" fill="#13aeeb"/>
<polygon points="399.0,83.0 418.5,83.0 427.0,82.0 443.0,82.0 464.5,83.3 479.0,83.6 481.5,84.0 491.0,86.7 504.5,89.8 521.0,92.2 548.5,97.5 552.0,98.0 575.0,100.3 575.0,136.0 399.0,136.0" fill="#16a5ee"/>
<polygon points="399.0,84.1 409.5,84.1 420.0,84.4 438.0,84.2 440.5,84.1 446.0,83.2 452.0,82.9 465.0,83.5 479.0,83.8 481.5,84.3 491.5,87.4 505.5,90.7 521.0,92.8 550.0,98.4 575.0,100.8 575.0,136.0 399.0,136.0" fill="#1b9bf0"/>
<polygon points="399.0,85.2 411.0,85.2 427.0,86.5 438.0,86.5 440.5,86.1 446.5,84.2 452.0,83.4 479.0,84.0 481.5,84.5 491.0,87.7 505.0,91.2 521.0,93.3 550.0,99.1 575.0,101.3 575.0,136.0 399.0,136.0" fill="#2292f0"/>
<polygon points="399.0,86.2 411.5,86.4 419.0,87.2 425.0,88.5 427.0,88.7 438.0,88.7 439.5,88.5 441.0,88.0 444.5,86.1 446.5,85.3 450.5,84.1 452.5,83.7 478.5,84.1 481.5,84.7 491.0,88.2 505.0,91.8 521.0,93.9 550.0,99.8 575.0,101.8 575.0,136.0 399.0,136.0" fill="#2888f0"/>
<polygon points="399.0,87.3 408.5,87.3 412.0,87.6 419.5,88.7 425.0,90.6 427.0,90.9 438.0,90.9 439.5,90.6 441.0,90.0 444.5,87.5 447.0,86.1 450.5,84.7 452.5,84.2 454.0,84.0 478.5,84.3 481.5,85.0 491.0,88.7 505.0,92.4 521.0,94.4 550.0,100.4 575.0,102.3 575.0,136.0 399.0,136.0" fill="#327ef0"/>
<polygon points="399.0,88.2 408.5,88.2 412.0,88.5 419.5,89.7 425.0,91.5 427.0,91.9 438.0,91.9 439.5,91.7 441.0,91.0 444.5,88.5 446.5,87.4 450.5,85.7 452.5,85.1 454.0,85.0 464.0,84.9 478.5,85.1 481.5,85.7 491.0,89.5 505.0,93.2 521.0,95.1 550.0,101.2 575.0,102.8 575.0,136.0 399.0,136.0" fill="#3d73f0"/>
<polygon points="399.0,89.2 408.5,89.2 412.0,89.4 419.5,90.6 425.0,92.5 427.0,92.9 438.0,93.0 439.5,92.7 441.0,92.0 444.5,89.5 446.5,88.4 450.5,86.7 452.5,86.1 464.5,85.6 478.5,85.9 481.5,86.5 491.0,90.2 505.0,93.9 521.0,95.8 550.0,101.9 575.0,103.3 575.0,136.0 399.0,136.0" fill="#4569f0"/>
<polygon points="399.0,90.1 408.5,90.1 412.0,90.4 419.5,91.6 425.0,93.5 427.0,93.9 438.0,94.0 439.5,93.7 441.0,93.0 444.5,90.5 446.5,89.4 450.5,87.7 452.5,87.1 465.0,86.3 478.5,86.7 481.5,87.3 491.0,91.0 504.0,94.5 506.5,94.9 521.0,96.5 548.5,102.4 552.0,102.8 575.0,103.9 575.0,136.0 399.0,136.0" fill="#4c5ef0"/>
<polygon points="399.0,91.0 408.5,91.0 412.0,91.3 419.5,92.5 425.0,94.5 427.0,94.9 438.0,95.0 439.5,94.7 441.0,94.1 444.5,91.5 447.0,90.1 450.5,88.7 453.0,88.0 465.0,87.1 478.5,87.5 481.5,88.1 491.0,91.7 504.0,95.2 506.5,95.6 521.0,97.2 549.0,103.3 552.0,103.6 575.0,104.4 575.0,136.0 399.0,136.0" fill="#5256f0"/>
<polygon points="399.0,102.0 408.5,102.0 412.0,102.2 419.5,103.1 425.0,104.6 427.0,104.9 438.0,105.0 439.5,104.8 441.0,104.3 444.5,102.4 447.0,101.4 450.5,100.2 453.0,99.7 465.0,99.0 478.5,99.4 481.5,99.8 491.0,102.6 504.0,105.2 521.0,106.7 549.0,111.2 552.0,111.4 575.0,112.1 575.0,136.0 399.0,136.0" fill="#5850f0"/>
<polygon points="399.0,113.0 412.0,113.2 419.5,113.8 427.0,115.0 438.0,115.0 441.0,114.5 444.5,113.3 447.0,112.6 453.0,111.5 465.0,111.0 478.5,111.2 481.5,111.6 491.0,113.4 504.0,115.1 521.0,116.1 549.0,119.1 575.0,119.7 575.0,136.0 399.0,136.0" fill="#5f49f0"/>
<polygon points="399.0,124.0 412.0,124.1 419.5,124.4 427.0,125.0 438.0,125.0 441.0,124.8 447.0,123.8 453.0,123.2 465.0,123.0 478.5,123.1 491.0,124.2 504.0,125.1 521.0,125.6 549.0,127.1 575.0,127.4 575.0,136.0 399.0,136.0" fill="#6543f0"/>
<path d="M446.60,94.80 C447.12,94.02 447.47,91.00 449.70,90.10 C451.93,89.20 454.95,89.27 460.00,89.40 C465.05,89.53 474.47,89.83 480.00,90.90 C485.53,91.97 487.70,94.70 493.20,95.80 C498.70,96.90 505.83,96.40 513.00,97.50 C520.17,98.60 531.03,101.32 536.20,102.40 C541.37,103.48 541.25,103.43 544.00,104.00 C546.75,104.57 547.20,105.50 552.70,105.80 C558.20,106.10 572.95,101.27 577.00,105.80 C581.05,110.33 595.73,128.47 577.00,133.00 C558.27,137.53 483.45,134.67 464.60,133.00 C445.75,131.33 464.55,125.58 463.90,123.00 C463.25,120.42 462.28,118.80 460.70,117.50 C459.12,116.20 456.62,116.10 454.40,115.20 C452.18,114.30 448.57,112.62 447.40,112.10 Z" fill="#8239f0"/>
<path d="M465.40,101.10 C465.67,100.32 465.95,97.45 467.00,96.40 C468.05,95.35 469.53,95.03 471.70,94.80 C473.87,94.57 476.68,94.42 480.00,95.00 C483.32,95.58 488.77,97.47 491.60,98.30 C494.43,99.13 495.08,99.45 497.00,100.00 C498.92,100.55 497.12,100.63 503.10,101.60 C509.08,102.57 524.63,104.55 532.90,105.80 C541.17,107.05 545.35,108.42 552.70,109.10 C560.05,109.78 572.95,105.92 577.00,109.90 C581.05,113.88 595.20,129.15 577.00,133.00 C558.80,136.85 486.13,134.40 467.80,133.00 C449.47,131.60 467.40,127.57 467.00,124.60 C466.60,121.63 465.67,116.77 465.40,115.20 Z" fill="#a94df0"/>
<path d="M478.00,106.00 C480.00,106.33 485.50,107.00 490.00,108.00 C494.50,109.00 500.00,110.50 505.00,112.00 C510.00,113.50 516.17,115.33 520.00,117.00 C523.83,118.67 528.00,120.50 528.00,122.00 C528.00,123.50 524.67,125.50 520.00,126.00 C515.33,126.50 505.83,126.00 500.00,125.00 C494.17,124.00 488.83,122.00 485.00,120.00 C481.17,118.00 478.33,114.17 477.00,113.00 Z" fill="#b656f0"/>
<path d="M398.00,120.70 C400.33,120.70 408.67,120.48 412.00,120.70 C415.33,120.92 416.50,121.22 418.00,122.00 C419.50,122.78 420.17,123.57 421.00,125.40 C421.83,127.23 426.83,131.73 423.00,133.00 C419.17,134.27 402.17,133.00 398.00,133.00 Z" fill="#2193f0"/>
</g>
<line x1="405" y1="38" x2="405" y2="131" stroke="#c8c8c8" stroke-opacity="0.65" stroke-width="0.75"/>
<line x1="439.5" y1="38" x2="439.5" y2="131" stroke="#c8c8c8" stroke-opacity="0.65" stroke-width="0.75"/>
<line x1="451.3" y1="38" x2="451.3" y2="131" stroke="#c8c8c8" stroke-opacity="0.65" stroke-width="0.75"/>
<line x1="484" y1="38" x2="484" y2="131" stroke="#c8c8c8" stroke-opacity="0.65" stroke-width="0.75"/>
<line x1="515.2" y1="38" x2="515.2" y2="131" stroke="#c8c8c8" stroke-opacity="0.65" stroke-width="0.75"/>
<line x1="563.9" y1="38" x2="563.9" y2="131" stroke="#c8c8c8" stroke-opacity="0.65" stroke-width="0.75"/>
<path d="M400.00,87.30 C402.80,87.50 412.17,87.77 416.80,88.50 C421.43,89.23 423.88,91.30 427.80,91.70 C431.72,92.10 437.43,91.68 440.30,90.90 C443.17,90.12 443.72,87.95 445.00,87.00 C446.28,86.05 447.50,85.50 448.00,85.20" fill="none" stroke="#fff" stroke-width="1.15" stroke-linecap="round" stroke-linejoin="round"/>
<path d="M461.50,83.90 C464.58,83.97 475.82,84.10 480.00,84.30 C484.18,84.50 484.12,83.87 486.60,85.10 C489.08,86.33 490.50,90.32 494.90,91.70 C499.30,93.08 506.40,92.30 513.00,93.40 C519.60,94.50 527.88,96.93 534.50,98.30 C541.12,99.67 545.95,100.92 552.70,101.60 C559.45,102.28 571.28,102.27 575.00,102.40" fill="none" stroke="#fff" stroke-width="1.15" stroke-linecap="round" stroke-linejoin="round"/>
<path d="M464.60,132.00 C464.48,130.50 464.55,125.42 463.90,123.00 C463.25,120.58 462.28,118.80 460.70,117.50 C459.12,116.20 456.62,116.10 454.40,115.20 C452.18,114.30 448.70,115.50 447.40,112.10 C446.10,108.70 446.22,98.47 446.60,94.80 C446.98,91.13 447.47,91.00 449.70,90.10 C451.93,89.20 454.95,89.27 460.00,89.40 C465.05,89.53 474.47,89.83 480.00,90.90 C485.53,91.97 487.70,94.70 493.20,95.80 C498.70,96.90 505.83,96.40 513.00,97.50 C520.17,98.60 531.95,101.43 536.20,102.40 C540.45,103.37 538.12,103.15 538.50,103.30" fill="none" stroke="#fff" stroke-width="1.15" stroke-linecap="round" stroke-linejoin="round"/>
<path d="M550.50,105.30 C550.87,105.38 548.62,105.72 552.70,105.80 C556.78,105.88 571.28,105.80 575.00,105.80" fill="none" stroke="#fff" stroke-width="1.15" stroke-linecap="round" stroke-linejoin="round"/>
<path d="M467.80,132.00 C467.67,130.77 467.40,127.40 467.00,124.60 C466.60,121.80 465.67,119.12 465.40,115.20 C465.13,111.28 465.13,104.23 465.40,101.10 C465.67,97.97 465.95,97.45 467.00,96.40 C468.05,95.35 469.53,95.03 471.70,94.80 C473.87,94.57 476.68,94.42 480.00,95.00 C483.32,95.58 489.43,97.63 491.60,98.30 C493.77,98.97 492.77,98.88 493.00,99.00" fill="none" stroke="#fff" stroke-width="1.15" stroke-linecap="round" stroke-linejoin="round"/>
<path d="M501.00,101.20 C501.35,101.27 497.78,100.83 503.10,101.60 C508.42,102.37 524.63,104.55 532.90,105.80 C541.17,107.05 545.68,108.42 552.70,109.10 C559.72,109.78 571.28,109.77 575.00,109.90" fill="none" stroke="#fff" stroke-width="1.15" stroke-linecap="round" stroke-linejoin="round"/>
<path d="M400.00,120.70 C401.00,120.70 405.00,120.70 406.00,120.70" fill="none" stroke="#fff" stroke-width="1.15" stroke-linecap="round" stroke-linejoin="round"/>
<path d="M420.50,125.20 C420.92,126.33 422.58,130.87 423.00,132.00" fill="none" stroke="#fff" stroke-width="1.15" stroke-linecap="round" stroke-linejoin="round"/>
<text x="454.4" y="87.805" font-size="11" fill="#fff" stroke="#fff" stroke-width="0.35" text-anchor="middle" font-weight="bold" textLength="9" lengthAdjust="spacingAndGlyphs">20</text>
<text x="544.4" y="108.005" font-size="11" fill="#fff" stroke="#fff" stroke-width="0.35" text-anchor="middle" font-weight="bold" textLength="8.6" lengthAdjust="spacingAndGlyphs">10</text>
<text x="497" y="103.905" font-size="11" fill="#fff" stroke="#fff" stroke-width="0.35" text-anchor="middle" font-weight="bold" textLength="4.4" lengthAdjust="spacingAndGlyphs">5</text>
<text x="414.1" y="124.605" font-size="11" fill="#fff" stroke="#fff" stroke-width="0.35" text-anchor="middle" font-weight="bold" textLength="8.8" lengthAdjust="spacingAndGlyphs">20</text>
</g>
<clipPath id="c7"><rect x="400" y="137" width="174" height="94"/></clipPath>
<g clip-path="url(#c7)">
<g filter="url(#bl)">
<rect x="398" y="135" width="178" height="98" fill="#f8b080"/>
<polygon points="399.0,137.0 575.0,137.0 575.0,236.0 399.0,236.0" fill="#f8b080"/>
<polygon points="399.0,142.5 419.5,142.5 422.0,141.9 426.5,139.9 428.5,139.4 430.0,139.2 440.0,139.0 451.5,139.3 454.0,139.8 461.0,142.0 463.5,142.4 483.0,142.9 500.0,142.5 526.0,140.9 547.0,141.2 560.5,141.9 575.0,142.2 575.0,236.0 399.0,236.0" fill="#f8af80"/>
<polygon points="399.0,148.0 419.5,147.9 420.5,147.7 422.0,146.8 426.5,142.8 428.5,141.8 430.0,141.4 440.0,141.0 450.0,141.4 451.5,141.7 454.0,142.7 461.0,147.0 463.5,147.8 483.0,148.9 487.0,148.9 500.0,148.0 523.0,145.0 526.0,144.8 547.0,145.5 560.5,146.8 575.0,147.4 575.0,236.0 399.0,236.0" fill="#f7ab81"/>
<polygon points="399.0,153.5 419.5,153.4 420.5,153.0 422.0,151.8 426.5,145.7 428.5,144.1 430.0,143.6 440.0,143.1 450.0,143.6 451.5,144.0 454.0,145.5 461.0,152.0 462.0,152.6 463.5,153.2 483.0,154.9 487.0,154.8 500.0,153.5 523.0,149.0 526.0,148.7 547.0,149.7 560.5,151.6 575.0,152.6 575.0,236.0 399.0,236.0" fill="#f6a682"/>
<polygon points="399.0,159.0 419.5,158.9 420.5,158.3 422.0,156.7 426.5,148.7 427.5,147.4 428.5,146.5 430.0,145.8 440.0,145.1 450.0,145.8 451.5,146.3 453.0,147.4 454.0,148.4 461.0,157.0 462.0,157.8 463.5,158.6 470.0,159.5 483.0,160.8 487.0,160.7 500.0,158.9 511.0,156.2 523.0,153.0 526.0,152.6 547.0,154.0 560.5,156.5 575.0,157.8 575.0,236.0 399.0,236.0" fill="#f49b84"/>
<polygon points="399.0,159.5 419.5,159.4 420.5,158.8 422.0,157.2 426.5,149.2 427.5,147.9 428.5,147.0 430.0,146.3 440.0,145.6 450.0,146.3 451.5,146.8 453.0,147.9 454.0,148.9 460.0,156.4 462.0,158.3 463.0,158.9 464.0,159.2 471.5,160.0 483.5,161.1 487.0,161.0 500.5,159.2 523.0,153.6 526.0,153.2 547.0,154.5 560.5,156.9 575.0,158.3 575.0,236.0 399.0,236.0" fill="#f08988"/>
<polygon points="399.0,160.0 419.5,159.9 420.5,159.3 422.0,157.7 426.5,149.7 427.5,148.4 428.5,147.5 430.0,146.8 440.0,146.1 450.0,146.8 451.5,147.3 453.0,148.4 454.0,149.4 461.0,158.0 462.5,159.1 464.0,159.7 483.0,161.3 486.5,161.3 500.5,159.6 511.5,157.1 523.0,154.2 526.5,153.8 547.5,155.0 560.5,157.3 575.0,158.8 575.0,236.0 399.0,236.0" fill="#e7727b"/>
<polygon points="399.0,160.5 419.5,160.4 420.5,159.8 422.0,158.2 426.5,150.2 427.5,148.9 428.5,148.0 430.0,147.3 440.0,146.6 450.0,147.3 451.5,147.8 453.0,148.9 454.0,149.9 461.0,158.5 462.5,159.6 464.0,160.2 483.0,161.6 487.0,161.5 500.5,160.0 511.5,157.6 523.0,154.9 526.5,154.5 547.5,155.5 561.0,157.7 575.0,159.3 575.0,236.0 399.0,236.0" fill="#de5868"/>
<polygon points="399.0,161.0 419.5,160.9 420.5,160.3 422.0,158.7 426.5,150.7 427.5,149.4 428.5,148.5 430.0,147.8 440.0,147.1 450.0,147.8 451.5,148.3 453.0,149.4 454.0,150.4 461.0,159.0 462.5,160.1 464.0,160.6 483.0,161.9 487.0,161.8 500.5,160.4 511.5,158.1 523.0,155.5 526.5,155.1 547.5,156.0 561.0,158.1 575.0,159.8 575.0,236.0 399.0,236.0" fill="#d94555"/>
<polygon points="399.0,161.4 419.5,161.3 420.5,160.7 422.0,159.0 426.5,151.0 427.5,149.8 428.5,148.9 430.0,148.2 440.0,147.5 450.0,148.2 451.5,148.7 453.0,149.8 454.0,150.8 461.0,159.4 462.5,160.5 464.0,161.0 483.0,162.4 486.5,162.3 501.0,160.6 512.0,158.5 523.5,156.0 526.5,155.7 547.5,156.5 561.0,158.6 575.0,160.2 575.0,236.0 399.0,236.0" fill="#d5374a"/>
<polygon points="399.0,161.8 419.5,161.6 420.5,161.1 422.0,159.4 426.5,151.4 427.5,150.2 428.5,149.3 430.0,148.6 440.0,147.8 450.0,148.6 451.5,149.1 453.0,150.1 454.0,151.1 461.0,159.7 462.5,160.9 464.0,161.4 483.0,162.9 486.0,162.8 501.5,160.7 512.0,159.0 523.5,156.6 526.5,156.3 547.5,157.0 561.0,159.1 575.0,160.8 575.0,236.0 399.0,236.0" fill="#d12b42"/>
<polygon points="399.0,162.1 419.5,162.0 420.5,161.5 422.0,159.8 426.5,151.8 427.5,150.5 428.5,149.6 430.0,149.0 440.0,148.2 450.0,149.0 451.5,149.5 453.0,150.5 454.0,151.5 460.0,159.0 462.0,161.0 463.0,161.5 464.0,161.8 469.0,162.4 483.0,163.4 486.0,163.3 510.5,159.7 523.5,157.2 526.5,156.9 547.5,157.5 561.0,159.6 575.0,161.2 575.0,236.0 399.0,236.0" fill="#d0253a"/>
<polygon points="399.0,162.5 419.5,162.4 420.5,161.8 422.0,160.2 426.5,152.2 427.5,150.9 428.5,150.0 430.0,149.3 440.0,148.6 450.0,149.3 451.5,149.8 453.0,150.9 454.0,151.9 460.0,159.4 462.0,161.3 464.0,162.2 470.0,163.0 483.0,163.9 486.0,163.8 500.0,161.5 512.0,160.0 523.5,157.8 526.5,157.5 548.0,158.1 561.0,160.1 575.0,161.8 575.0,236.0 399.0,236.0" fill="#d02233"/>
<polygon points="399.0,163.0 419.5,162.9 420.5,162.3 422.0,160.6 426.0,153.3 427.0,151.9 428.5,150.4 430.0,149.7 440.0,149.0 450.0,149.7 451.5,150.2 452.5,150.9 454.0,152.3 460.0,159.9 462.0,161.8 464.0,162.8 469.0,163.4 483.0,164.4 485.5,164.3 500.5,162.0 512.0,160.7 523.5,159.1 526.5,158.9 547.5,159.8 561.0,162.1 575.0,163.9 575.0,236.0 399.0,236.0" fill="#d1202c"/>
<polygon points="399.0,163.5 419.5,163.4 420.5,162.8 422.0,161.1 426.0,153.7 427.0,152.2 428.5,150.8 430.0,150.1 440.5,149.3 450.0,150.1 451.5,150.6 452.5,151.3 454.0,152.8 460.0,160.4 461.5,162.0 463.5,163.1 468.0,163.8 483.0,164.9 485.0,164.9 501.0,162.4 523.0,160.4 526.0,160.3 547.5,161.5 561.0,164.1 573.0,165.8 575.0,166.0 575.0,236.0 399.0,236.0" fill="#d42024"/>
<polygon points="399.0,164.0 419.5,163.9 420.5,163.3 422.0,161.5 426.0,154.1 427.0,152.6 428.5,151.1 430.0,150.5 440.5,149.7 450.0,150.5 451.5,151.0 452.5,151.7 454.0,153.2 461.0,162.0 462.5,163.2 464.0,163.8 471.0,164.6 484.5,165.4 487.0,165.2 501.0,163.0 514.0,162.2 526.0,161.7 547.5,163.3 561.0,166.1 573.0,167.9 575.0,168.1 575.0,236.0 399.0,236.0" fill="#d7201c"/>
<polygon points="399.0,164.5 419.5,164.4 420.5,163.8 422.0,162.0 426.0,154.5 427.0,153.0 428.5,151.5 430.0,150.8 438.0,150.2 441.0,150.1 450.0,150.8 451.5,151.4 452.5,152.1 454.0,153.6 461.0,162.5 462.5,163.7 464.0,164.2 471.0,165.1 484.5,165.9 487.0,165.7 498.0,163.8 501.5,163.4 512.5,163.0 525.5,163.1 547.5,165.0 560.5,168.0 573.0,170.0 575.0,170.2 575.0,236.0 399.0,236.0" fill="#e4480c"/>
<polygon points="399.0,164.9 419.5,164.8 420.5,164.2 422.0,162.4 426.0,154.8 427.0,153.4 428.5,151.9 430.0,151.2 438.0,150.5 441.0,150.5 450.0,151.2 451.5,151.7 452.5,152.4 454.0,154.0 461.0,162.9 462.5,164.0 464.0,164.6 471.0,165.4 484.5,166.3 487.0,166.0 498.0,164.2 501.5,163.8 512.5,163.5 525.0,163.8 547.0,165.9 560.5,169.0 573.0,170.9 575.0,171.1 575.0,236.0 399.0,236.0" fill="#f48800"/>
<polygon points="399.0,165.2 419.5,165.1 420.5,164.5 422.0,162.8 426.0,155.2 427.0,153.7 428.5,152.3 430.0,151.6 438.0,150.9 441.0,150.9 450.0,151.6 451.5,152.1 452.5,152.8 454.0,154.4 461.0,163.3 462.5,164.4 464.0,165.0 471.0,165.8 484.0,166.6 486.5,166.5 498.0,164.6 501.5,164.2 512.0,164.0 524.5,164.5 547.0,166.9 560.5,170.0 573.0,171.8 575.0,172.0 575.0,236.0 399.0,236.0" fill="#f8aa00"/>
<polygon points="399.0,165.6 419.5,165.5 420.5,164.9 422.0,163.1 426.0,155.6 427.0,154.1 428.5,152.6 430.0,152.0 438.0,151.3 441.0,151.2 450.0,152.0 451.5,152.5 452.5,153.2 454.0,154.7 461.0,163.6 462.5,164.8 464.0,165.4 471.0,166.2 484.0,167.0 486.5,166.9 498.0,165.0 501.0,164.6 512.0,164.5 523.5,165.2 547.0,167.9 560.5,171.0 575.0,172.9 575.0,236.0 399.0,236.0" fill="#f6bb00"/>
<polygon points="399.0,166.0 419.5,165.9 420.5,165.3 422.0,163.5 426.0,156.0 427.0,154.5 428.5,153.0 430.0,152.3 438.0,151.7 441.0,151.6 450.0,152.3 451.5,152.9 452.5,153.6 454.0,155.1 461.0,164.0 462.5,165.2 464.0,165.8 471.0,166.6 484.5,167.4 487.0,167.2 500.0,165.1 510.0,165.0 514.0,165.2 525.5,166.1 546.0,168.7 549.5,169.4 560.5,172.0 575.0,173.8 575.0,236.0 399.0,236.0" fill="#f0c800"/>
<polygon points="399.0,166.4 419.5,166.3 420.5,165.7 422.0,163.9 426.0,156.5 427.0,155.0 428.5,153.5 430.0,152.8 438.5,152.1 441.5,152.1 450.0,152.8 451.5,153.4 452.5,154.1 454.0,155.6 460.5,163.9 462.5,165.6 464.0,166.1 471.0,166.9 484.0,167.8 487.0,167.6 500.0,165.6 510.0,165.6 514.0,165.8 526.5,167.0 547.0,170.5 560.5,173.8 575.0,175.4 575.0,236.0 399.0,236.0" fill="#d0c800"/>
<polygon points="399.0,166.8 419.5,166.6 420.5,166.1 422.0,164.3 426.0,156.9 427.0,155.5 428.5,154.0 430.0,153.3 438.5,152.6 441.5,152.6 450.0,153.3 451.5,153.9 453.5,155.5 460.5,164.3 462.0,165.6 464.0,166.5 471.0,167.3 484.0,168.1 487.0,167.9 500.0,166.1 510.0,166.2 514.0,166.4 523.5,167.4 527.0,167.9 547.0,172.1 560.5,175.5 575.0,177.0 575.0,236.0 399.0,236.0" fill="#aac800"/>
<polygon points="399.0,167.1 419.5,167.0 420.5,166.4 421.5,165.4 422.5,164.0 426.5,156.7 427.5,155.4 429.0,154.2 430.0,153.8 438.0,153.2 442.0,153.2 450.0,153.8 451.5,154.4 453.5,156.0 460.5,164.7 462.0,166.0 464.0,166.9 471.0,167.7 484.0,168.5 486.5,168.4 498.0,166.8 501.0,166.6 512.0,166.9 523.0,168.0 527.0,168.7 546.0,173.4 559.5,177.0 562.0,177.5 575.0,178.7 575.0,236.0 399.0,236.0" fill="#7eba14"/>
<polygon points="399.0,167.5 419.5,167.4 420.5,166.8 422.0,165.2 426.5,157.2 427.5,155.9 429.0,154.7 430.0,154.3 438.0,153.7 442.0,153.7 450.0,154.3 451.5,154.9 453.5,156.5 460.5,165.1 462.5,166.7 464.0,167.2 471.0,168.1 484.5,168.9 487.0,168.7 498.5,167.2 502.0,167.1 512.0,167.5 523.0,168.8 527.0,169.6 559.5,178.8 562.0,179.2 575.0,180.3 575.0,236.0 399.0,236.0" fill="#5eb31d"/>
<polygon points="399.0,167.8 419.5,167.6 420.5,167.1 422.0,165.5 426.5,157.5 427.5,156.3 429.0,155.1 430.0,154.7 438.0,154.0 442.0,154.0 450.0,154.7 451.5,155.2 453.5,156.9 460.5,165.4 462.5,167.0 464.0,167.5 471.0,168.3 484.5,169.2 487.0,169.0 498.5,167.6 502.0,167.5 512.0,167.9 523.0,169.1 527.0,170.0 559.5,179.3 562.0,179.7 575.0,180.8 575.0,236.0 399.0,236.0" fill="#4cb021"/>
<polygon points="399.0,168.0 419.5,167.9 420.5,167.4 422.0,165.8 426.5,157.9 427.5,156.7 429.0,155.4 430.0,155.1 438.0,154.4 442.0,154.4 450.0,155.1 451.5,155.6 453.5,157.3 460.5,165.7 462.5,167.2 464.0,167.8 471.0,168.6 484.5,169.4 487.0,169.3 498.5,167.9 502.0,167.8 512.0,168.3 523.0,169.5 527.0,170.3 559.0,179.7 562.0,180.2 575.0,181.3 575.0,236.0 399.0,236.0" fill="#40b025"/>
<polygon points="399.0,168.2 419.5,168.1 420.5,167.6 422.0,166.0 426.5,158.3 427.5,157.0 429.0,155.8 430.0,155.5 438.0,154.8 442.0,154.8 450.0,155.5 451.5,156.0 453.5,157.6 457.5,162.6 460.5,166.0 462.5,167.5 464.0,168.0 471.0,168.8 483.5,169.6 486.5,169.6 498.0,168.3 501.0,168.2 512.0,168.7 523.0,169.9 527.0,170.7 559.0,180.2 562.0,180.7 575.0,181.8 575.0,236.0 399.0,236.0" fill="#34b12c"/>
<polygon points="399.0,168.5 419.5,168.4 420.5,167.9 422.0,166.3 426.5,158.7 427.5,157.4 429.0,156.2 430.0,155.8 438.0,155.2 442.0,155.2 450.0,155.8 451.5,156.4 453.5,158.0 457.5,163.0 460.5,166.3 462.0,167.5 464.0,168.2 471.0,169.1 483.5,169.9 486.5,169.8 498.0,168.7 501.0,168.6 512.0,169.0 523.0,170.3 527.0,171.1 559.0,180.7 562.0,181.2 575.0,182.3 575.0,236.0 399.0,236.0" fill="#2ab536"/>
<polygon points="399.0,168.9 419.5,168.8 420.5,168.3 422.0,166.7 426.5,159.1 427.5,157.9 429.0,156.7 430.0,156.3 438.0,155.7 442.0,155.7 450.0,156.3 451.5,156.9 453.5,158.5 457.5,163.3 460.5,166.6 462.0,167.7 464.0,168.5 471.0,169.3 484.5,170.2 498.5,169.0 502.0,169.0 512.0,169.5 523.0,170.9 527.0,171.7 559.5,181.4 562.0,181.8 575.0,182.9 575.0,236.0 399.0,236.0" fill="#22b73e"/>
<polygon points="399.0,169.2 419.5,169.1 420.5,168.6 422.0,167.1 426.5,159.6 427.5,158.3 429.0,157.2 430.0,156.8 438.0,156.2 442.0,156.2 450.0,156.8 451.5,157.3 453.5,158.9 457.5,163.7 460.5,166.9 462.0,168.0 464.0,168.8 471.0,169.6 484.0,170.4 487.0,170.3 500.0,169.3 510.0,169.9 514.0,170.3 523.5,171.6 526.5,172.2 559.5,182.0 562.0,182.4 575.0,183.5 575.0,236.0 399.0,236.0" fill="#1cbc49"/>
<polygon points="399.0,169.6 419.5,169.5 420.5,169.0 422.0,167.5 426.5,160.0 427.5,158.8 429.0,157.7 430.0,157.3 438.0,156.7 442.0,156.7 450.0,157.3 451.5,157.8 453.5,159.4 457.5,164.1 460.5,167.2 462.5,168.5 464.0,169.0 471.0,169.8 484.0,170.7 500.0,169.7 513.5,170.7 523.5,172.2 526.5,172.8 547.0,178.7 560.0,182.7 562.0,183.0 575.0,184.1 575.0,236.0 399.0,236.0" fill="#16c254"/>
<polygon points="399.0,170.0 419.5,169.9 420.5,169.4 421.5,168.5 422.5,167.1 426.5,160.4 427.5,159.3 429.0,158.2 430.0,157.8 438.0,157.2 442.0,157.2 450.0,157.8 451.5,158.3 453.5,159.9 457.5,164.4 460.5,167.5 462.5,168.8 464.0,169.2 471.0,170.1 483.5,170.9 486.5,170.9 500.0,170.1 513.5,171.2 523.5,172.8 526.5,173.4 547.0,179.2 560.0,183.4 562.0,183.7 575.0,184.6 575.0,236.0 399.0,236.0" fill="#10ca68"/>
<polygon points="399.0,170.5 419.5,170.4 420.5,169.9 421.5,169.0 422.5,167.7 426.5,161.1 428.0,159.6 429.0,158.9 430.0,158.6 438.0,157.9 442.0,157.9 450.0,158.6 451.5,159.1 453.5,160.6 457.5,165.0 460.5,167.9 462.5,169.1 464.0,169.6 471.0,170.3 483.5,171.1 486.5,171.2 500.0,170.6 513.5,171.7 523.5,173.3 526.5,173.9 547.0,179.5 560.0,183.7 562.0,184.0 575.0,184.9 575.0,236.0 399.0,236.0" fill="#10d088"/>
<polygon points="399.0,171.0 419.5,170.9 420.5,170.4 421.5,169.5 422.5,168.2 426.5,161.8 428.0,160.3 429.0,159.7 430.0,159.3 438.0,158.7 442.0,158.7 450.0,159.3 451.5,159.8 453.5,161.3 457.0,165.1 460.0,167.9 461.5,169.0 463.5,169.8 470.5,170.5 483.5,171.4 500.0,171.1 513.0,172.2 523.5,173.8 527.0,174.5 547.0,179.8 560.0,184.1 562.0,184.4 575.0,185.2 575.0,236.0 399.0,236.0" fill="#10d0a2"/>
<polygon points="399.0,171.5 419.5,171.4 420.5,170.9 421.5,170.0 422.5,168.8 426.5,162.5 428.0,161.0 429.0,160.4 430.0,160.1 438.0,159.4 442.0,159.4 450.0,160.1 451.5,160.6 453.5,162.0 457.0,165.7 460.0,168.3 462.0,169.6 463.5,170.1 470.5,170.8 483.5,171.6 500.0,171.6 513.0,172.7 525.5,174.7 546.0,179.8 560.0,184.5 562.0,184.7 575.0,185.4 575.0,236.0 399.0,236.0" fill="#10cbbb"/>
<polygon points="399.0,172.0 419.5,171.9 420.5,171.4 421.5,170.6 422.5,169.3 426.5,163.2 428.0,161.7 429.0,161.1 430.0,160.8 438.0,160.2 442.0,160.2 450.0,160.8 451.5,161.3 453.5,162.7 457.0,166.3 460.0,168.8 462.0,169.9 463.5,170.4 484.0,171.9 501.0,172.1 513.0,173.2 525.5,175.1 546.0,180.0 549.0,180.9 558.0,184.2 560.0,184.8 562.0,185.1 575.0,185.7 575.0,236.0 399.0,236.0" fill="#10c5ce"/>
<polygon points="399.0,172.4 419.5,172.3 420.5,171.8 422.0,170.5 426.0,164.8 427.0,163.7 428.0,162.8 429.5,162.1 440.0,161.2 450.0,161.9 451.5,162.3 453.0,163.2 457.0,166.8 460.0,169.1 462.0,170.2 463.5,170.6 470.5,171.3 484.0,172.2 500.5,172.3 513.0,173.5 525.5,175.5 546.0,180.2 549.0,181.0 558.0,184.4 560.0,185.0 562.0,185.3 575.0,185.8 575.0,236.0 399.0,236.0" fill="#10bedb"/>
<polygon points="399.0,172.8 419.5,172.7 421.0,171.9 422.0,171.0 426.0,165.7 427.0,164.7 428.0,163.9 429.5,163.2 440.0,162.3 450.0,162.9 451.5,163.2 453.0,164.0 457.0,167.4 460.0,169.4 462.0,170.4 463.5,170.9 470.5,171.5 484.0,172.4 500.5,172.6 512.5,173.8 525.5,175.9 546.5,180.4 549.5,181.3 558.5,184.8 560.5,185.3 575.0,186.0 575.0,236.0 399.0,236.0" fill="#10b8e8"/>
<polygon points="399.0,173.1 419.5,173.0 421.0,172.4 422.0,171.5 426.0,166.6 427.0,165.7 428.0,164.9 429.5,164.3 440.0,163.5 450.0,163.9 452.5,164.6 457.5,168.2 460.0,169.8 462.0,170.7 463.5,171.1 470.5,171.8 484.0,172.7 500.0,172.8 512.0,174.1 525.5,176.2 546.5,180.6 549.5,181.5 558.5,185.0 560.5,185.5 575.0,186.1 575.0,236.0 399.0,236.0" fill="#13aeeb"/>
<polygon points="399.0,173.5 419.5,173.4 421.0,172.8 422.0,172.0 426.5,167.1 428.0,166.0 429.5,165.4 440.0,164.6 450.0,164.9 452.5,165.6 460.0,170.1 461.5,170.8 463.5,171.3 470.5,172.0 484.0,172.9 500.0,173.1 511.0,174.4 525.5,176.6 546.5,180.7 549.5,181.6 558.5,185.2 560.5,185.7 575.0,186.2 575.0,236.0 399.0,236.0" fill="#16a5ee"/>
<polygon points="399.0,173.9 419.5,174.0 421.5,173.2 426.5,169.1 428.0,168.3 429.5,167.8 440.0,166.4 450.0,166.5 452.5,167.0 460.0,170.6 463.5,171.6 484.5,173.2 500.0,173.4 511.0,174.7 525.0,177.0 546.5,180.9 549.5,181.7 558.5,185.3 560.5,185.8 575.0,186.4 575.0,236.0 399.0,236.0" fill="#1b9bf0"/>
<polygon points="399.0,174.4 419.5,174.5 422.0,173.8 427.0,171.0 430.0,170.0 440.0,168.2 450.5,168.1 453.0,168.5 460.5,171.3 463.5,171.8 484.5,173.4 500.0,173.8 512.0,175.2 547.0,181.1 550.0,182.1 558.5,185.5 560.5,186.0 575.0,186.5 575.0,236.0 399.0,236.0" fill="#2292f0"/>
<polygon points="399.0,174.8 420.5,175.0 423.0,174.5 429.5,172.4 439.0,170.2 442.0,169.8 451.0,169.7 453.5,170.0 460.0,171.6 463.0,172.1 485.0,173.7 500.0,174.2 511.5,175.4 525.5,177.9 547.0,181.3 550.0,182.2 558.5,185.6 560.5,186.1 575.0,186.6 575.0,236.0 399.0,236.0" fill="#2888f0"/>
<polygon points="399.0,175.2 425.0,175.6 429.0,174.9 440.0,171.8 450.0,171.2 452.5,171.2 461.5,172.2 470.5,172.7 485.0,174.0 500.0,174.5 510.5,175.6 525.5,178.4 547.0,181.4 550.0,182.3 558.5,185.8 560.5,186.3 575.0,186.8 575.0,236.0 399.0,236.0" fill="#327ef0"/>
<polygon points="399.0,176.0 423.0,176.5 425.5,176.4 429.0,175.8 440.0,172.8 451.0,172.1 461.0,172.9 471.0,173.4 485.0,174.6 500.0,175.2 511.5,176.3 525.5,179.0 546.5,181.9 549.5,182.8 558.0,186.2 560.5,186.9 575.0,187.4 575.0,236.0 399.0,236.0" fill="#3d73f0"/>
<polygon points="399.0,176.9 425.5,177.4 429.0,176.8 440.0,173.7 451.0,173.0 470.0,174.1 485.0,175.2 500.0,175.8 511.5,176.9 525.5,179.7 546.5,182.6 549.5,183.4 558.0,186.9 560.5,187.6 575.0,188.1 575.0,236.0 399.0,236.0" fill="#4569f0"/>
<polygon points="399.0,177.7 426.0,178.2 429.5,177.6 440.0,174.7 451.5,173.9 468.0,174.7 485.5,175.9 500.0,176.4 511.5,177.4 525.5,180.4 547.0,183.3 550.0,184.2 558.5,187.7 560.5,188.2 575.0,188.8 575.0,236.0 399.0,236.0" fill="#4c5ef0"/>
<polygon points="399.0,178.5 426.0,179.2 429.5,178.6 440.0,175.6 452.0,174.9 463.0,175.1 484.5,176.5 500.5,177.1 511.5,178.0 525.5,181.0 547.0,183.9 550.0,184.8 558.5,188.4 560.5,188.9 575.0,189.4 575.0,236.0 399.0,236.0" fill="#5256f0"/>
<polygon points="399.0,193.9 426.0,194.4 429.5,193.9 440.0,191.7 452.0,191.1 463.0,191.3 484.5,192.3 500.5,192.8 511.5,193.5 525.5,195.8 547.0,197.9 550.0,198.6 558.5,201.3 560.5,201.7 575.0,202.1 575.0,236.0 399.0,236.0" fill="#5850f0"/>
<polygon points="399.0,209.3 426.0,209.6 429.5,209.3 440.0,207.8 452.0,207.4 463.0,207.5 484.5,208.2 500.5,208.5 511.5,209.0 525.5,210.5 547.0,212.0 560.5,214.4 575.0,214.7 575.0,236.0 399.0,236.0" fill="#5f49f0"/>
<polygon points="399.0,224.6 426.0,224.8 440.0,223.9 452.0,223.7 500.5,224.3 511.5,224.5 525.5,225.3 547.0,226.0 560.5,227.2 575.0,227.4 575.0,236.0 399.0,236.0" fill="#6543f0"/>
<path d="M460.60,179.80 C461.50,179.50 463.60,178.25 466.00,178.00 C468.40,177.75 472.00,178.20 475.00,178.30 C478.00,178.40 481.17,178.77 484.00,178.60 C486.83,178.43 489.00,177.47 492.00,177.30 C495.00,177.13 498.42,177.38 502.00,177.60 C505.58,177.82 510.50,178.12 513.50,178.60 C516.50,179.08 517.38,179.97 520.00,180.50 C522.62,181.03 525.70,181.22 529.20,181.80 C532.70,182.38 537.80,183.43 541.00,184.00 C544.20,184.57 546.23,184.53 548.40,185.20 C550.57,185.87 552.13,187.17 554.00,188.00 C555.87,188.83 555.77,189.70 559.60,190.20 C563.43,190.70 574.10,183.87 577.00,191.00 C579.90,198.13 594.80,226.00 577.00,233.00 C559.20,240.00 488.43,235.25 470.20,233.00 C451.97,230.75 468.33,223.20 467.60,219.50 C466.87,215.80 466.97,212.83 465.80,210.80 C464.63,208.77 462.62,208.75 460.60,207.30 C458.58,205.85 454.57,204.42 453.70,202.10 C452.83,199.78 454.83,196.30 455.40,193.40 C455.97,190.50 456.82,186.15 457.10,184.70 Z" fill="#8239f0"/>
<path d="M485.00,184.70 C485.83,184.05 488.27,181.58 490.00,180.80 C491.73,180.02 493.32,180.08 495.40,180.00 C497.48,179.92 500.48,180.05 502.50,180.30 C504.52,180.55 505.67,180.92 507.50,181.50 C509.33,182.08 511.18,182.10 513.50,183.80 C515.82,185.50 519.32,189.87 521.40,191.70 C523.48,193.53 523.73,194.20 526.00,194.80 C528.27,195.40 530.70,195.13 535.00,195.30 C539.30,195.47 544.80,195.43 551.80,195.80 C558.80,196.17 572.80,191.30 577.00,197.50 C581.20,203.70 591.33,227.08 577.00,233.00 C562.67,238.92 505.77,234.97 491.00,233.00 C476.23,231.03 489.40,224.90 488.40,221.20 C487.40,217.50 486.02,213.98 485.00,210.80 C483.98,207.62 482.88,205.00 482.30,202.10 C481.72,199.20 481.63,194.85 481.50,193.40 Z" fill="#a94df0"/>
<path d="M489.00,187.00 C491.33,186.83 499.33,185.17 503.00,186.00 C506.67,186.83 510.67,190.00 511.00,192.00 C511.33,194.00 508.33,197.17 505.00,198.00 C501.67,198.83 493.33,197.17 491.00,197.00 Z" fill="#b959f0"/>
<path d="M525.00,206.00 C530.00,205.50 547.17,202.33 555.00,203.00 C562.83,203.67 570.83,206.33 572.00,210.00 C573.17,213.67 568.67,222.33 562.00,225.00 C555.33,227.67 538.83,227.50 532.00,226.00 C525.17,224.50 522.83,217.67 521.00,216.00 Z" fill="#b656f0"/>
<path d="M398.00,213.40 C400.83,213.40 411.08,212.53 415.00,213.40 C418.92,214.27 419.55,215.70 421.50,218.60 C423.45,221.50 425.78,228.40 426.70,230.80 C427.62,233.20 431.78,232.63 427.00,233.00 C422.22,233.37 402.83,233.00 398.00,233.00 Z" fill="#1c9af0"/>
<path d="M398.00,224.00 C399.67,224.50 405.67,225.50 408.00,227.00 C410.33,228.50 413.67,232.00 412.00,233.00 C410.33,234.00 400.33,233.00 398.00,233.00 Z" fill="#10c8c8"/>
</g>
<line x1="405.2" y1="137" x2="405.2" y2="231" stroke="#c8c8c8" stroke-opacity="0.65" stroke-width="0.75"/>
<line x1="440" y1="137" x2="440" y2="231" stroke="#c8c8c8" stroke-opacity="0.65" stroke-width="0.75"/>
<line x1="451.4" y1="137" x2="451.4" y2="231" stroke="#c8c8c8" stroke-opacity="0.65" stroke-width="0.75"/>
<line x1="464.2" y1="137" x2="464.2" y2="231" stroke="#c8c8c8" stroke-opacity="0.65" stroke-width="0.75"/>
<line x1="468.2" y1="137" x2="468.2" y2="231" stroke="#c8c8c8" stroke-opacity="0.65" stroke-width="0.75"/>
<line x1="495.3" y1="137" x2="495.3" y2="231" stroke="#c8c8c8" stroke-opacity="0.65" stroke-width="0.75"/>
<line x1="541.3" y1="137" x2="541.3" y2="231" stroke="#c8c8c8" stroke-opacity="0.65" stroke-width="0.75"/>
<line x1="564.7" y1="137" x2="564.7" y2="231" stroke="#c8c8c8" stroke-opacity="0.65" stroke-width="0.75"/>
<path d="M400.00,174.50 C402.00,174.62 407.67,174.97 412.00,175.20 C416.33,175.43 422.50,176.13 426.00,175.90 C429.50,175.67 430.67,174.50 433.00,173.80 C435.33,173.10 437.20,172.17 440.00,171.70 C442.80,171.23 446.77,170.93 449.80,171.00 C452.83,171.07 455.17,171.82 458.20,172.10 C461.23,172.38 465.70,172.67 468.00,172.70 C470.30,172.73 470.42,172.25 472.00,172.30 C473.58,172.35 476.58,172.88 477.50,173.00" fill="none" stroke="#fff" stroke-width="1.15" stroke-linecap="round" stroke-linejoin="round"/>
<path d="M490.50,173.60 C490.75,173.60 488.75,173.33 492.00,173.60 C495.25,173.87 505.10,174.53 510.00,175.20 C514.90,175.87 516.90,176.95 521.40,177.60 C525.90,178.25 532.50,178.50 537.00,179.10 C541.50,179.70 545.57,180.38 548.40,181.20 C551.23,182.02 552.13,183.15 554.00,184.00 C555.87,184.85 556.10,185.83 559.60,186.30 C563.10,186.77 572.43,186.72 575.00,186.80" fill="none" stroke="#fff" stroke-width="1.15" stroke-linecap="round" stroke-linejoin="round"/>
<path d="M470.20,232.00 C469.77,229.92 468.33,223.03 467.60,219.50 C466.87,215.97 466.97,212.83 465.80,210.80 C464.63,208.77 462.62,208.75 460.60,207.30 C458.58,205.85 454.57,204.42 453.70,202.10 C452.83,199.78 454.83,196.30 455.40,193.40 C455.97,190.50 456.23,186.97 457.10,184.70 C457.97,182.43 459.12,180.92 460.60,179.80 C462.08,178.68 463.60,178.25 466.00,178.00 C468.40,177.75 472.00,178.20 475.00,178.30 C478.00,178.40 481.17,178.77 484.00,178.60 C486.83,178.43 489.00,177.47 492.00,177.30 C495.00,177.13 498.42,177.38 502.00,177.60 C505.58,177.82 510.50,178.12 513.50,178.60 C516.50,179.08 517.38,179.97 520.00,180.50 C522.62,181.03 526.62,181.33 529.20,181.80 C531.78,182.27 534.45,183.05 535.50,183.30" fill="none" stroke="#fff" stroke-width="1.15" stroke-linecap="round" stroke-linejoin="round"/>
<path d="M546.80,184.80 C547.07,184.87 547.20,184.67 548.40,185.20 C549.60,185.73 552.13,187.17 554.00,188.00 C555.87,188.83 556.10,189.70 559.60,190.20 C563.10,190.70 572.43,190.87 575.00,191.00" fill="none" stroke="#fff" stroke-width="1.15" stroke-linecap="round" stroke-linejoin="round"/>
<path d="M491.00,232.00 C490.57,230.20 489.40,224.73 488.40,221.20 C487.40,217.67 486.02,213.98 485.00,210.80 C483.98,207.62 482.88,205.00 482.30,202.10 C481.72,199.20 481.05,196.30 481.50,193.40 C481.95,190.50 483.58,186.80 485.00,184.70 C486.42,182.60 488.27,181.58 490.00,180.80 C491.73,180.02 493.32,180.08 495.40,180.00 C497.48,179.92 501.32,180.25 502.50,180.30" fill="none" stroke="#fff" stroke-width="1.15" stroke-linecap="round" stroke-linejoin="round"/>
<path d="M512.00,183.00 C512.25,183.13 511.93,182.35 513.50,183.80 C515.07,185.25 519.32,189.87 521.40,191.70 C523.48,193.53 523.73,194.20 526.00,194.80 C528.27,195.40 530.70,195.13 535.00,195.30 C539.30,195.47 545.13,195.43 551.80,195.80 C558.47,196.17 571.13,197.22 575.00,197.50" fill="none" stroke="#fff" stroke-width="1.15" stroke-linecap="round" stroke-linejoin="round"/>
<path d="M400.60,213.40 C401.77,213.40 406.43,213.40 407.60,213.40" fill="none" stroke="#fff" stroke-width="1.15" stroke-linecap="round" stroke-linejoin="round"/>
<path d="M421.50,218.60 C422.37,220.63 425.78,228.57 426.70,230.80 C427.62,233.03 426.95,231.80 427.00,232.00" fill="none" stroke="#fff" stroke-width="1.15" stroke-linecap="round" stroke-linejoin="round"/>
<text x="484" y="177.905" font-size="11" fill="#fff" stroke="#fff" stroke-width="0.35" text-anchor="middle" font-weight="bold" textLength="8.6" lengthAdjust="spacingAndGlyphs">20</text>
<text x="541" y="187.905" font-size="11" fill="#fff" stroke="#fff" stroke-width="0.35" text-anchor="middle" font-weight="bold" textLength="8.4" lengthAdjust="spacingAndGlyphs">10</text>
<text x="507.5" y="185.405" font-size="11" fill="#fff" stroke="#fff" stroke-width="0.35" text-anchor="middle" font-weight="bold" textLength="4.2" lengthAdjust="spacingAndGlyphs">5</text>
<text x="415.4" y="217.305" font-size="11" fill="#fff" stroke="#fff" stroke-width="0.35" text-anchor="middle" font-weight="bold" textLength="8.7" lengthAdjust="spacingAndGlyphs">20</text>
</g>
<clipPath id="c8"><rect x="400" y="237.5" width="174" height="93"/></clipPath>
<g clip-path="url(#c8)">
<g filter="url(#bl)">
<rect x="398" y="235.5" width="178" height="97" fill="#f6a782"/>
<polygon points="399.0,237.5 575.0,237.5 575.0,335.5 399.0,335.5" fill="#f6a682"/>
<polygon points="399.0,240.5 424.0,240.3 478.5,238.7 481.5,238.9 488.5,240.2 498.0,241.5 501.5,241.8 530.5,242.2 575.0,242.2 575.0,335.5 399.0,335.5" fill="#f5a383"/>
<polygon points="399.0,243.4 424.0,243.2 442.0,242.1 469.5,240.2 478.5,239.8 481.5,240.3 488.5,242.9 498.0,245.5 501.5,246.1 530.5,246.8 575.0,246.8 575.0,335.5 399.0,335.5" fill="#f49e84"/>
<polygon points="399.0,246.4 411.0,246.4 424.0,246.0 442.0,244.4 469.5,241.5 478.5,241.0 480.0,241.2 481.5,241.8 488.5,245.5 498.0,249.5 500.0,250.1 501.5,250.4 530.5,251.5 575.0,251.5 575.0,335.5 399.0,335.5" fill="#f39885"/>
<polygon points="399.0,249.4 411.0,249.4 424.0,248.9 442.0,246.7 469.5,242.8 478.5,242.2 480.0,242.5 481.5,243.2 488.5,248.2 498.0,253.5 499.5,254.2 501.5,254.7 530.5,256.2 575.0,256.2 575.0,335.5 399.0,335.5" fill="#f18e87"/>
<polygon points="399.0,250.2 411.0,250.1 424.0,249.6 453.5,245.9 470.0,243.2 478.5,242.5 480.0,242.9 481.5,243.6 487.0,247.9 490.0,249.8 498.5,254.2 501.5,255.1 530.5,256.6 575.0,256.6 575.0,335.5 399.0,335.5" fill="#ed8083"/>
<polygon points="399.0,250.9 411.0,250.9 424.5,250.3 453.5,246.7 470.0,243.7 478.5,242.9 480.0,243.3 481.5,244.1 486.5,248.2 489.5,250.2 498.5,254.6 501.5,255.5 530.5,257.1 575.0,257.1 575.0,335.5 399.0,335.5" fill="#e46a76"/>
<polygon points="399.0,251.7 411.0,251.7 424.5,251.1 453.5,247.4 469.5,244.2 478.5,243.3 480.0,243.7 481.5,244.5 486.5,248.9 489.5,250.9 498.5,255.1 501.5,255.9 530.5,257.5 575.0,257.6 575.0,335.5 399.0,335.5" fill="#dd5666"/>
<polygon points="399.0,252.5 411.0,252.5 425.0,251.8 453.5,248.2 469.5,244.7 478.5,243.7 480.0,244.1 481.5,245.0 486.5,249.6 489.0,251.3 498.0,255.3 501.0,256.2 530.5,258.0 575.0,258.0 575.0,335.5 399.0,335.5" fill="#d94555"/>
<polygon points="399.0,253.4 411.0,253.3 424.5,252.7 453.5,248.8 469.5,245.2 478.5,244.3 480.0,244.7 481.5,245.6 486.5,250.2 489.0,252.0 498.0,256.0 501.5,257.0 530.5,259.0 575.0,258.8 575.0,335.5 399.0,335.5" fill="#d5374a"/>
<polygon points="399.0,254.2 411.0,254.2 424.5,253.5 440.0,251.5 453.5,249.5 469.5,245.7 478.0,244.9 479.5,245.1 481.0,245.9 487.0,251.2 489.5,252.9 498.5,256.9 501.5,257.7 530.5,260.0 575.0,259.5 575.0,335.5 399.0,335.5" fill="#d12b42"/>
<polygon points="399.0,255.1 411.0,255.1 424.5,254.4 440.0,252.2 454.0,250.0 470.0,246.1 478.0,245.5 479.5,245.7 481.0,246.5 487.0,251.9 489.5,253.5 498.5,257.6 501.5,258.4 530.5,261.0 575.0,260.3 575.0,335.5 399.0,335.5" fill="#d0253a"/>
<polygon points="399.0,256.0 411.0,256.0 421.0,255.6 424.5,255.3 440.0,253.0 454.0,250.6 469.5,246.7 472.0,246.4 478.0,246.1 479.5,246.4 481.0,247.1 487.0,252.5 489.5,254.2 498.5,258.3 501.5,259.1 530.5,261.9 575.0,261.0 575.0,335.5 399.0,335.5" fill="#d02233"/>
<polygon points="399.0,256.9 411.0,256.8 421.0,256.5 424.5,256.1 440.0,253.9 453.5,251.4 469.5,247.4 472.0,247.1 478.0,246.8 479.5,247.1 481.0,247.9 487.0,253.3 489.5,255.1 498.5,259.3 501.5,260.1 530.5,263.2 575.0,262.0 575.0,335.5 399.0,335.5" fill="#d1202c"/>
<polygon points="399.0,257.8 411.0,257.7 421.0,257.3 424.5,257.0 442.0,254.4 455.0,251.7 469.5,248.1 472.0,247.9 478.0,247.6 479.5,247.9 481.0,248.6 487.0,254.2 489.5,255.9 498.5,260.3 502.0,261.2 530.5,264.5 575.0,262.9 575.0,335.5 399.0,335.5" fill="#d42024"/>
<polygon points="399.0,258.6 411.0,258.6 421.0,258.2 424.5,257.9 441.0,255.4 455.0,252.4 469.0,249.0 471.5,248.6 478.0,248.3 479.5,248.6 481.0,249.4 487.0,255.1 489.5,256.8 498.5,261.2 502.0,262.3 528.0,265.6 530.5,265.8 575.0,263.9 575.0,335.5 399.0,335.5" fill="#d7201c"/>
<polygon points="399.0,259.5 411.0,259.5 421.0,259.1 424.5,258.8 440.5,256.4 469.0,249.7 471.5,249.4 478.0,249.1 479.5,249.4 481.0,250.2 487.0,255.9 489.5,257.7 498.5,262.2 502.0,263.3 528.0,266.9 530.5,267.1 575.0,264.8 575.0,335.5 399.0,335.5" fill="#de3412"/>
<polygon points="399.0,259.7 411.0,259.7 421.5,259.3 424.5,259.0 441.0,256.5 469.0,249.9 471.5,249.6 478.0,249.3 479.5,249.6 481.0,250.4 487.0,256.2 489.5,258.0 498.5,262.5 502.0,263.5 528.0,267.1 530.5,267.3 575.0,265.1 575.0,335.5 399.0,335.5" fill="#ea5c06"/>
<polygon points="399.0,259.9 411.5,259.9 421.5,259.5 424.5,259.3 441.0,256.8 469.0,250.1 471.5,249.8 478.0,249.6 479.5,249.9 481.0,250.7 487.0,256.4 489.5,258.2 498.5,262.7 502.0,263.8 528.0,267.3 530.5,267.5 575.0,265.4 575.0,335.5 399.0,335.5" fill="#f27c00"/>
<polygon points="399.0,260.1 411.5,260.1 421.5,259.8 424.5,259.5 441.0,257.0 469.0,250.4 471.5,250.0 478.0,249.8 479.5,250.1 481.0,250.9 487.0,256.7 489.5,258.5 498.5,263.0 502.0,264.0 528.0,267.5 530.5,267.7 575.0,265.8 575.0,335.5 399.0,335.5" fill="#f69400"/>
<polygon points="399.0,260.3 412.0,260.3 421.5,260.0 424.5,259.8 441.0,257.3 469.0,250.6 471.5,250.3 478.0,250.1 479.5,250.4 481.0,251.2 487.0,256.9 489.5,258.7 498.5,263.2 502.0,264.3 528.0,267.7 530.5,267.9 575.0,266.1 575.0,335.5 399.0,335.5" fill="#f8a500"/>
<polygon points="399.0,260.6 412.0,260.6 421.5,260.3 424.5,260.1 441.0,257.5 469.0,250.9 471.5,250.6 478.0,250.3 479.5,250.6 481.0,251.4 487.0,257.2 489.5,259.0 498.5,263.5 502.0,264.5 528.0,268.0 530.5,268.2 575.0,267.1 575.0,335.5 399.0,335.5" fill="#f8ae00"/>
<polygon points="399.0,260.9 412.0,260.9 421.5,260.6 424.5,260.4 440.5,257.9 469.0,251.2 471.5,250.9 478.0,250.6 479.5,250.9 481.0,251.7 487.0,257.4 489.5,259.2 498.5,263.7 501.5,264.7 530.5,268.4 575.0,268.0 575.0,335.5 399.0,335.5" fill="#f8b800"/>
<polygon points="399.0,261.2 412.0,261.2 421.5,260.9 424.5,260.7 440.5,258.1 469.0,251.5 471.5,251.1 478.0,250.8 479.5,251.1 481.0,251.9 487.0,257.7 489.5,259.5 498.5,264.0 501.5,264.9 530.5,268.7 575.0,269.0 575.0,335.5 399.0,335.5" fill="#f5be00"/>
<polygon points="399.0,261.5 412.0,261.5 421.5,261.2 424.5,261.0 440.5,258.4 469.0,251.8 471.5,251.4 478.0,251.1 479.5,251.4 481.0,252.2 487.0,257.9 489.5,259.7 498.5,264.2 501.5,265.2 530.5,269.0 575.0,270.0 575.0,335.5 399.0,335.5" fill="#f0c800"/>
<polygon points="399.0,262.2 411.5,262.2 421.0,262.0 424.0,261.8 440.5,259.1 469.0,252.7 471.5,252.4 478.0,252.1 479.5,252.4 481.0,253.2 487.0,258.8 489.5,260.6 498.5,265.2 501.5,266.2 530.5,270.0 575.0,271.7 575.0,335.5 399.0,335.5" fill="#d0c800"/>
<polygon points="399.0,263.0 411.5,263.0 421.0,262.7 424.0,262.5 440.0,260.0 455.0,256.5 468.5,253.7 471.5,253.3 478.0,253.1 479.5,253.4 481.0,254.1 487.0,259.7 489.5,261.5 498.5,266.2 501.5,267.1 530.5,271.0 575.0,273.4 575.0,335.5 399.0,335.5" fill="#aac800"/>
<polygon points="399.0,263.8 411.5,263.7 421.0,263.5 424.0,263.3 440.0,260.7 455.0,257.3 468.5,254.6 471.5,254.3 478.0,254.1 479.5,254.3 481.0,255.1 487.0,260.6 489.5,262.4 498.5,267.1 501.5,268.1 530.5,272.0 575.0,275.1 575.0,335.5 399.0,335.5" fill="#7eba14"/>
<polygon points="399.0,264.5 411.5,264.5 421.0,264.2 424.0,264.0 439.5,261.6 455.0,258.0 468.0,255.7 471.5,255.3 478.0,255.1 479.5,255.3 481.0,256.1 487.0,261.5 489.5,263.3 498.5,268.1 501.5,269.1 530.5,273.0 575.0,276.8 575.0,335.5 399.0,335.5" fill="#5eb31d"/>
<polygon points="399.0,265.0 411.5,265.0 421.0,264.8 424.0,264.5 439.5,262.1 455.0,258.5 468.0,256.2 471.5,255.8 478.0,255.6 479.5,255.8 481.0,256.6 487.0,262.0 489.5,263.8 498.0,268.4 501.0,269.5 530.5,273.5 575.0,277.6 575.0,335.5 399.0,335.5" fill="#4cb021"/>
<polygon points="399.0,265.5 412.0,265.5 421.0,265.3 424.0,265.1 439.5,262.6 455.0,259.0 468.0,256.7 471.5,256.3 478.5,256.1 480.0,256.5 481.5,257.5 486.5,262.1 489.5,264.3 498.0,268.9 501.0,270.0 530.5,274.0 575.0,278.3 575.0,335.5 399.0,335.5" fill="#40b025"/>
<polygon points="399.0,266.0 412.0,266.0 421.0,265.8 424.0,265.6 439.5,263.1 455.0,259.5 468.0,257.3 471.5,256.9 478.5,256.6 480.0,257.0 481.5,258.0 486.5,262.6 489.5,264.8 498.0,269.4 501.0,270.5 530.5,274.5 575.0,279.0 575.0,335.5 399.0,335.5" fill="#34b12c"/>
<polygon points="399.0,266.5 421.0,266.3 424.0,266.1 439.5,263.6 455.0,260.0 468.0,257.8 471.5,257.4 478.5,257.1 480.0,257.5 481.5,258.5 486.5,263.1 489.5,265.3 498.0,269.9 501.0,271.1 530.5,275.0 575.0,279.8 575.0,335.5 399.0,335.5" fill="#2ab536"/>
<polygon points="399.0,267.1 421.0,266.9 424.0,266.7 439.5,264.2 455.0,260.7 468.0,258.5 471.5,258.1 478.5,257.9 480.0,258.3 481.5,259.2 486.5,263.7 489.5,265.9 498.0,270.5 501.0,271.7 530.5,275.9 575.0,281.0 575.0,335.5 399.0,335.5" fill="#22b73e"/>
<polygon points="399.0,267.6 421.0,267.5 424.0,267.3 439.5,264.8 455.0,261.3 468.0,259.1 471.5,258.7 478.5,258.6 480.0,259.0 481.5,259.9 486.5,264.4 489.5,266.5 498.0,271.2 501.0,272.3 530.5,276.7 573.0,282.1 575.0,282.2 575.0,335.5 399.0,335.5" fill="#1cbc49"/>
<polygon points="399.0,268.1 421.0,268.0 424.0,267.8 439.5,265.4 455.0,261.9 468.0,259.7 471.5,259.4 478.0,259.3 479.5,259.6 481.0,260.3 487.0,265.4 489.5,267.2 498.0,271.8 501.0,273.0 531.0,277.5 573.0,283.3 575.0,283.5 575.0,335.5 399.0,335.5" fill="#16c254"/>
<polygon points="399.0,268.7 421.0,268.6 424.0,268.4 439.5,266.0 455.0,262.5 468.0,260.3 471.5,260.0 478.0,260.0 479.5,260.3 481.0,261.0 487.0,266.1 489.5,267.8 498.0,272.4 501.0,273.6 531.0,278.3 573.0,284.6 575.0,284.7 575.0,335.5 399.0,335.5" fill="#10ca68"/>
<polygon points="399.0,269.4 421.0,269.3 424.0,269.1 439.5,266.8 455.0,263.3 468.0,261.2 471.5,260.9 478.0,261.0 479.5,261.3 481.0,262.0 487.0,266.9 489.5,268.5 498.0,273.0 501.0,274.1 573.0,285.3 575.0,285.4 575.0,335.5 399.0,335.5" fill="#10d088"/>
<polygon points="399.0,270.0 421.0,270.0 424.0,269.9 439.5,267.5 455.0,264.0 468.0,262.0 471.5,261.8 478.0,261.9 479.5,262.2 481.0,262.9 487.0,267.6 489.5,269.2 498.0,273.5 501.0,274.6 573.0,286.0 575.0,286.2 575.0,335.5 399.0,335.5" fill="#10d0a2"/>
<polygon points="399.0,270.6 421.0,270.8 424.0,270.6 439.5,268.3 453.5,265.1 457.0,264.5 469.5,262.8 478.0,262.9 479.5,263.2 481.0,263.9 487.0,268.4 489.5,270.0 498.0,274.0 501.0,275.1 530.0,279.6 573.0,286.7 575.0,286.9 575.0,335.5 399.0,335.5" fill="#10cbbb"/>
<polygon points="399.0,271.3 421.0,271.5 424.0,271.3 439.5,269.0 453.5,265.9 457.0,265.2 469.5,263.6 478.0,263.9 479.5,264.2 481.0,264.9 487.0,269.2 489.5,270.7 498.0,274.6 501.0,275.6 530.0,280.0 573.0,287.5 575.0,287.7 575.0,335.5 399.0,335.5" fill="#10c5ce"/>
<polygon points="399.0,271.7 421.0,272.0 424.0,271.8 439.5,269.7 455.0,266.3 468.0,264.4 471.5,264.2 478.0,264.7 479.5,265.1 481.0,265.7 487.0,269.9 489.5,271.3 498.0,275.1 501.0,276.1 530.0,280.5 573.0,288.0 575.0,288.2 575.0,335.5 399.0,335.5" fill="#10bedb"/>
<polygon points="399.0,272.1 410.0,272.2 421.5,272.5 424.5,272.3 440.0,270.2 457.0,266.7 468.5,265.0 472.0,264.9 478.0,265.6 480.0,266.1 481.5,266.8 486.5,270.2 489.0,271.6 498.0,275.5 501.0,276.5 530.0,281.0 573.0,288.5 575.0,288.7 575.0,335.5 399.0,335.5" fill="#10b8e8"/>
<polygon points="399.0,272.6 410.0,272.6 421.5,272.9 424.5,272.8 440.0,270.8 455.0,267.8 468.0,265.7 470.0,265.5 472.0,265.6 478.0,266.4 480.0,266.9 481.5,267.6 486.5,270.9 489.0,272.2 498.0,276.0 501.0,277.0 530.0,281.5 573.0,289.0 575.0,289.2 575.0,335.5 399.0,335.5" fill="#13aeeb"/>
<polygon points="399.0,273.0 410.0,273.0 421.5,273.4 424.5,273.3 439.5,271.5 455.0,268.5 468.0,266.3 471.5,266.2 478.0,267.2 480.0,267.8 481.5,268.5 486.5,271.5 489.0,272.9 498.0,276.5 501.0,277.4 530.0,282.0 573.0,289.5 575.0,289.7 575.0,335.5 399.0,335.5" fill="#16a5ee"/>
<polygon points="399.0,273.6 410.0,273.6 421.5,274.1 424.5,274.0 440.0,272.2 468.0,266.9 471.0,266.8 478.0,268.1 480.0,268.7 489.0,273.5 498.0,277.0 501.0,277.8 530.0,282.5 573.0,290.0 575.0,290.2 575.0,335.5 399.0,335.5" fill="#1b9bf0"/>
<polygon points="399.0,274.2 410.0,274.3 421.5,274.8 425.0,274.7 440.0,273.0 468.0,267.5 471.0,267.4 479.5,269.4 481.5,270.3 489.0,274.1 498.0,277.4 501.0,278.3 530.0,283.0 573.0,290.6 575.0,290.8 575.0,335.5 399.0,335.5" fill="#2292f0"/>
<polygon points="399.0,274.9 409.5,274.9 421.5,275.5 425.0,275.4 440.5,273.7 468.0,268.1 470.5,268.0 472.0,268.2 479.5,270.4 489.0,274.7 498.0,277.9 501.0,278.7 530.5,283.6 573.0,291.2 575.0,291.4 575.0,335.5 399.0,335.5" fill="#2888f0"/>
<polygon points="399.0,275.5 409.5,275.5 421.5,276.2 425.0,276.1 440.5,274.5 468.0,268.6 470.5,268.5 472.0,268.8 479.0,271.1 489.0,275.3 500.5,279.0 530.5,284.1 573.0,291.8 575.0,291.9 575.0,335.5 399.0,335.5" fill="#327ef0"/>
<polygon points="399.0,276.4 409.5,276.4 421.5,277.1 425.0,277.0 440.5,275.4 454.5,272.6 468.0,269.6 470.5,269.5 472.0,269.8 479.5,272.2 489.5,276.5 500.5,279.8 530.5,284.8 573.0,292.4 575.0,292.6 575.0,335.5 399.0,335.5" fill="#3d73f0"/>
<polygon points="399.0,277.2 410.0,277.3 423.0,278.1 438.0,276.7 441.5,276.2 453.5,273.8 468.0,270.6 470.5,270.4 472.0,270.7 479.5,273.1 489.0,277.3 500.5,280.5 530.5,285.6 573.0,293.1 575.0,293.3 575.0,335.5 399.0,335.5" fill="#4569f0"/>
<polygon points="399.0,278.1 410.0,278.2 423.0,279.0 438.0,277.7 441.5,277.2 453.5,274.8 468.0,271.5 470.5,271.4 472.0,271.7 479.5,274.0 486.5,277.3 489.0,278.2 500.0,281.2 573.0,293.8 575.0,294.0 575.0,335.5 399.0,335.5" fill="#4c5ef0"/>
<polygon points="399.0,279.0 410.0,279.0 423.0,279.9 438.0,278.7 441.5,278.2 453.5,275.8 468.0,272.5 470.5,272.3 472.0,272.6 479.5,274.9 486.5,278.2 489.0,279.2 499.5,281.8 573.0,294.5 575.0,294.7 575.0,335.5 399.0,335.5" fill="#5256f0"/>
<polygon points="399.0,294.2 410.0,294.3 423.0,294.9 438.0,294.0 441.5,293.6 453.5,291.8 468.0,289.3 470.5,289.2 479.5,291.2 489.0,294.4 499.5,296.4 573.0,305.9 575.0,306.0 575.0,335.5 399.0,335.5" fill="#5850f0"/>
<polygon points="399.0,309.5 410.0,309.5 423.0,310.0 438.0,309.3 453.5,307.9 468.0,306.2 470.5,306.2 479.5,307.5 489.0,309.6 499.5,310.9 575.0,317.3 575.0,335.5 399.0,335.5" fill="#5f49f0"/>
<polygon points="399.0,324.8 423.0,325.0 438.0,324.7 470.5,323.1 479.5,323.7 489.0,324.8 499.5,325.5 575.0,328.7 575.0,335.5 399.0,335.5" fill="#6543f0"/>
<path d="M457.60,291.70 C458.12,290.38 459.47,285.67 460.70,283.80 C461.93,281.93 463.43,281.15 465.00,280.50 C466.57,279.85 467.68,279.47 470.10,279.90 C472.52,280.33 476.52,282.05 479.50,283.10 C482.48,284.15 485.17,285.58 488.00,286.20 C490.83,286.82 492.33,286.85 496.50,286.80 C500.67,286.75 508.03,285.50 513.00,285.90 C517.97,286.30 522.97,288.42 526.30,289.20 C529.63,289.98 530.65,290.33 533.00,290.60 C535.35,290.87 537.80,290.62 540.40,290.80 C543.00,290.98 546.00,290.87 548.60,291.70 C551.20,292.53 552.83,294.83 556.00,295.80 C559.17,296.77 564.10,296.95 567.60,297.50 C571.10,298.05 575.43,293.18 577.00,299.10 C578.57,305.02 595.60,327.35 577.00,333.00 C558.40,338.65 484.52,334.67 465.40,333.00 C446.28,331.33 463.60,326.48 462.30,323.00 C461.00,319.52 458.65,315.75 457.60,312.10 C456.55,308.45 456.27,302.93 456.00,301.10 Z" fill="#8239f0"/>
<path d="M498.20,314.00 C498.47,313.18 497.87,311.85 499.80,309.10 C501.73,306.35 507.18,299.98 509.80,297.50 C512.42,295.02 512.20,294.33 515.50,294.20 C518.80,294.07 524.50,295.88 529.60,296.70 C534.70,297.52 541.15,298.00 546.10,299.10 C551.05,300.20 556.20,302.32 559.30,303.30 C562.40,304.28 562.77,304.58 564.70,305.00 C566.63,305.42 568.85,305.67 570.90,305.80 C572.95,305.93 575.98,301.27 577.00,305.80 C578.02,310.33 587.67,328.47 577.00,333.00 C566.33,337.53 524.83,334.83 513.00,333.00 C501.17,331.17 507.17,323.83 506.00,322.00 Z" fill="#a94df0"/>
<path d="M530.00,316.00 C533.33,315.17 542.17,311.50 550.00,311.00 C557.83,310.50 572.50,309.33 577.00,313.00 C581.50,316.67 585.67,329.67 577.00,333.00 C568.33,336.33 533.67,333.00 525.00,333.00 Z" fill="#b758f0"/>
<path d="M398.00,305.00 C400.62,305.27 409.70,305.68 413.70,306.60 C417.70,307.52 419.52,308.68 422.00,310.50 C424.48,312.32 427.25,315.42 428.60,317.50 C429.95,319.58 429.72,320.42 430.10,323.00 C430.48,325.58 436.25,331.33 430.90,333.00 C425.55,334.67 403.48,333.00 398.00,333.00 Z" fill="#2193f0"/>
<path d="M398.00,315.00 C400.00,315.50 406.67,316.33 410.00,318.00 C413.33,319.67 416.33,322.50 418.00,325.00 C419.67,327.50 423.33,331.67 420.00,333.00 C416.67,334.33 401.67,333.00 398.00,333.00 Z" fill="#10bedc"/>
<path d="M398.00,322.00 C399.17,322.33 403.00,322.17 405.00,324.00 C407.00,325.83 411.17,331.50 410.00,333.00 C408.83,334.50 400.00,333.00 398.00,333.00 Z" fill="#10d08b"/>
</g>
<line x1="405" y1="237.5" x2="405" y2="330.5" stroke="#c8c8c8" stroke-opacity="0.65" stroke-width="0.75"/>
<line x1="440.2" y1="237.5" x2="440.2" y2="330.5" stroke="#c8c8c8" stroke-opacity="0.65" stroke-width="0.75"/>
<line x1="452.1" y1="237.5" x2="452.1" y2="330.5" stroke="#c8c8c8" stroke-opacity="0.65" stroke-width="0.75"/>
<line x1="469.5" y1="237.5" x2="469.5" y2="330.5" stroke="#c8c8c8" stroke-opacity="0.65" stroke-width="0.75"/>
<line x1="483.4" y1="237.5" x2="483.4" y2="330.5" stroke="#c8c8c8" stroke-opacity="0.65" stroke-width="0.75"/>
<line x1="495.8" y1="237.5" x2="495.8" y2="330.5" stroke="#c8c8c8" stroke-opacity="0.65" stroke-width="0.75"/>
<line x1="515.4" y1="237.5" x2="515.4" y2="330.5" stroke="#c8c8c8" stroke-opacity="0.65" stroke-width="0.75"/>
<line x1="541.5" y1="237.5" x2="541.5" y2="330.5" stroke="#c8c8c8" stroke-opacity="0.65" stroke-width="0.75"/>
<line x1="548" y1="237.5" x2="548" y2="330.5" stroke="#c8c8c8" stroke-opacity="0.65" stroke-width="0.75"/>
<line x1="564.6" y1="237.5" x2="564.6" y2="330.5" stroke="#c8c8c8" stroke-opacity="0.65" stroke-width="0.75"/>
<path d="M400.50,275.50 C404.28,275.63 416.62,276.45 423.20,276.30 C429.78,276.15 435.25,275.30 440.00,274.60 C444.75,273.90 448.03,272.87 451.70,272.10 C455.37,271.33 458.92,270.65 462.00,270.00 C465.08,269.35 467.43,267.98 470.20,268.20 C472.97,268.42 476.18,270.33 478.60,271.30 C481.02,272.27 483.38,273.42 484.70,274.00 C486.02,274.58 486.20,274.67 486.50,274.80" fill="none" stroke="#fff" stroke-width="1.15" stroke-linecap="round" stroke-linejoin="round"/>
<path d="M499.00,278.20 C499.43,278.30 498.92,278.42 501.60,278.80 C504.28,279.18 510.60,279.90 515.10,280.50 C519.60,281.10 524.10,281.85 528.60,282.40 C533.10,282.95 538.45,283.37 542.10,283.80 C545.75,284.23 548.18,284.38 550.50,285.00 C552.82,285.62 553.98,286.58 556.00,287.50 C558.02,288.42 559.43,289.70 562.60,290.50 C565.77,291.30 572.93,292.00 575.00,292.30" fill="none" stroke="#fff" stroke-width="1.15" stroke-linecap="round" stroke-linejoin="round"/>
<path d="M465.40,332.00 C464.88,330.50 463.60,326.32 462.30,323.00 C461.00,319.68 458.65,315.75 457.60,312.10 C456.55,308.45 456.00,304.50 456.00,301.10 C456.00,297.70 456.82,294.58 457.60,291.70 C458.38,288.82 459.47,285.67 460.70,283.80 C461.93,281.93 463.43,281.15 465.00,280.50 C466.57,279.85 467.68,279.47 470.10,279.90 C472.52,280.33 476.52,282.05 479.50,283.10 C482.48,284.15 485.17,285.58 488.00,286.20 C490.83,286.82 492.33,286.85 496.50,286.80 C500.67,286.75 508.03,285.50 513.00,285.90 C517.97,286.30 522.97,288.42 526.30,289.20 C529.63,289.98 531.88,290.37 533.00,290.60" fill="none" stroke="#fff" stroke-width="1.15" stroke-linecap="round" stroke-linejoin="round"/>
<path d="M547.50,291.50 C547.68,291.53 547.18,290.98 548.60,291.70 C550.02,292.42 552.83,294.83 556.00,295.80 C559.17,296.77 564.43,296.95 567.60,297.50 C570.77,298.05 573.77,298.83 575.00,299.10" fill="none" stroke="#fff" stroke-width="1.15" stroke-linecap="round" stroke-linejoin="round"/>
<path d="M513.00,332.00 C511.83,330.33 508.47,325.00 506.00,322.00 C503.53,319.00 499.23,316.15 498.20,314.00 C497.17,311.85 497.87,311.85 499.80,309.10 C501.73,306.35 507.18,299.98 509.80,297.50 C512.42,295.02 512.20,294.33 515.50,294.20 C518.80,294.07 524.50,295.88 529.60,296.70 C534.70,297.52 541.15,298.00 546.10,299.10 C551.05,300.20 556.82,302.48 559.30,303.30 C561.78,304.12 560.72,303.88 561.00,304.00" fill="none" stroke="#fff" stroke-width="1.15" stroke-linecap="round" stroke-linejoin="round"/>
<path d="M568.50,305.50 C569.58,305.55 573.92,305.75 575.00,305.80" fill="none" stroke="#fff" stroke-width="1.15" stroke-linecap="round" stroke-linejoin="round"/>
<path d="M400.50,305.00 C402.70,305.27 411.28,306.27 413.70,306.60 C416.12,306.93 414.78,306.93 415.00,307.00" fill="none" stroke="#fff" stroke-width="1.15" stroke-linecap="round" stroke-linejoin="round"/>
<path d="M428.60,317.50 C428.85,318.42 429.72,320.83 430.10,323.00 C430.48,325.17 430.77,329.25 430.90,330.50" fill="none" stroke="#fff" stroke-width="1.15" stroke-linecap="round" stroke-linejoin="round"/>
<text x="492.8" y="280.405" font-size="11" fill="#fff" stroke="#fff" stroke-width="0.35" text-anchor="middle" font-weight="bold" textLength="8.8" lengthAdjust="spacingAndGlyphs">20</text>
<text x="540.4" y="294.505" font-size="11" fill="#fff" stroke="#fff" stroke-width="0.35" text-anchor="middle" font-weight="bold" textLength="8.4" lengthAdjust="spacingAndGlyphs">10</text>
<text x="564.7" y="308.905" font-size="11" fill="#fff" stroke="#fff" stroke-width="0.35" text-anchor="middle" font-weight="bold" textLength="4.2" lengthAdjust="spacingAndGlyphs">5</text>
<text transform="translate(422,310.5) rotate(38)" font-size="11" font-weight="bold" text-anchor="middle" textLength="8.6" lengthAdjust="spacingAndGlyphs" fill="#fff" stroke="#fff" stroke-width="0.35" dy="3.9">20</text>
</g>
<rect x="46.3" y="38.3" width="172.4" height="92.4" fill="none" stroke="#000" stroke-opacity="0.28" stroke-width="0.9"/>
<rect x="46.3" y="137.3" width="172.4" height="93.4" fill="none" stroke="#000" stroke-opacity="0.28" stroke-width="0.9"/>
<rect x="46.3" y="237.8" width="172.4" height="92.4" fill="none" stroke="#000" stroke-opacity="0.28" stroke-width="0.9"/>
<rect x="223.3" y="38.3" width="172.4" height="92.4" fill="none" stroke="#000" stroke-opacity="0.28" stroke-width="0.9"/>
<rect x="223.3" y="137.3" width="172.4" height="93.4" fill="none" stroke="#000" stroke-opacity="0.28" stroke-width="0.9"/>
<rect x="223.3" y="237.8" width="172.4" height="92.4" fill="none" stroke="#000" stroke-opacity="0.28" stroke-width="0.9"/>
<rect x="400.3" y="38.3" width="173.4" height="92.4" fill="none" stroke="#000" stroke-opacity="0.28" stroke-width="0.9"/>
<rect x="400.3" y="137.3" width="173.4" height="93.4" fill="none" stroke="#000" stroke-opacity="0.28" stroke-width="0.9"/>
<rect x="400.3" y="237.8" width="173.4" height="92.4" fill="none" stroke="#000" stroke-opacity="0.28" stroke-width="0.9"/>
<text x="42.2" y="41.6" font-size="10.4" text-anchor="end" font-weight="bold" textLength="3.85" lengthAdjust="spacingAndGlyphs" stroke="#000" stroke-width="0.25">0</text>
<line x1="44.3" y1="38" x2="46" y2="38" stroke="#444" stroke-width="0.6"/>
<text x="42.2" y="64.2" font-size="10.4" text-anchor="end" font-weight="bold" textLength="7.7" lengthAdjust="spacingAndGlyphs" stroke="#000" stroke-width="0.25">50</text>
<line x1="44.3" y1="60.6" x2="46" y2="60.6" stroke="#444" stroke-width="0.6"/>
<text x="42.2" y="86.8" font-size="10.4" text-anchor="end" font-weight="bold" textLength="11.55" lengthAdjust="spacingAndGlyphs" stroke="#000" stroke-width="0.25">100</text>
<line x1="44.3" y1="83.2" x2="46" y2="83.2" stroke="#444" stroke-width="0.6"/>
<text x="42.2" y="109.4" font-size="10.4" text-anchor="end" font-weight="bold" textLength="11.55" lengthAdjust="spacingAndGlyphs" stroke="#000" stroke-width="0.25">150</text>
<line x1="44.3" y1="105.8" x2="46" y2="105.8" stroke="#444" stroke-width="0.6"/>
<text x="42.2" y="132" font-size="10.4" text-anchor="end" font-weight="bold" textLength="11.55" lengthAdjust="spacingAndGlyphs" stroke="#000" stroke-width="0.25">200</text>
<line x1="44.3" y1="128.4" x2="46" y2="128.4" stroke="#444" stroke-width="0.6"/>
<text x="42.2" y="140.6" font-size="10.4" text-anchor="end" font-weight="bold" textLength="3.85" lengthAdjust="spacingAndGlyphs" stroke="#000" stroke-width="0.25">0</text>
<line x1="44.3" y1="137" x2="46" y2="137" stroke="#444" stroke-width="0.6"/>
<text x="42.2" y="163.2" font-size="10.4" text-anchor="end" font-weight="bold" textLength="7.7" lengthAdjust="spacingAndGlyphs" stroke="#000" stroke-width="0.25">50</text>
<line x1="44.3" y1="159.6" x2="46" y2="159.6" stroke="#444" stroke-width="0.6"/>
<text x="42.2" y="185.8" font-size="10.4" text-anchor="end" font-weight="bold" textLength="11.55" lengthAdjust="spacingAndGlyphs" stroke="#000" stroke-width="0.25">100</text>
<line x1="44.3" y1="182.2" x2="46" y2="182.2" stroke="#444" stroke-width="0.6"/>
<text x="42.2" y="208.4" font-size="10.4" text-anchor="end" font-weight="bold" textLength="11.55" lengthAdjust="spacingAndGlyphs" stroke="#000" stroke-width="0.25">150</text>
<line x1="44.3" y1="204.8" x2="46" y2="204.8" stroke="#444" stroke-width="0.6"/>
<text x="42.2" y="231" font-size="10.4" text-anchor="end" font-weight="bold" textLength="11.55" lengthAdjust="spacingAndGlyphs" stroke="#000" stroke-width="0.25">200</text>
<line x1="44.3" y1="227.4" x2="46" y2="227.4" stroke="#444" stroke-width="0.6"/>
<text x="42.2" y="241.1" font-size="10.4" text-anchor="end" font-weight="bold" textLength="3.85" lengthAdjust="spacingAndGlyphs" stroke="#000" stroke-width="0.25">0</text>
<line x1="44.3" y1="237.5" x2="46" y2="237.5" stroke="#444" stroke-width="0.6"/>
<text x="42.2" y="263.7" font-size="10.4" text-anchor="end" font-weight="bold" textLength="7.7" lengthAdjust="spacingAndGlyphs" stroke="#000" stroke-width="0.25">50</text>
<line x1="44.3" y1="260.1" x2="46" y2="260.1" stroke="#444" stroke-width="0.6"/>
<text x="42.2" y="286.3" font-size="10.4" text-anchor="end" font-weight="bold" textLength="11.55" lengthAdjust="spacingAndGlyphs" stroke="#000" stroke-width="0.25">100</text>
<line x1="44.3" y1="282.7" x2="46" y2="282.7" stroke="#444" stroke-width="0.6"/>
<text x="42.2" y="308.9" font-size="10.4" text-anchor="end" font-weight="bold" textLength="11.55" lengthAdjust="spacingAndGlyphs" stroke="#000" stroke-width="0.25">150</text>
<line x1="44.3" y1="305.3" x2="46" y2="305.3" stroke="#444" stroke-width="0.6"/>
<text x="42.2" y="331.5" font-size="10.4" text-anchor="end" font-weight="bold" textLength="11.55" lengthAdjust="spacingAndGlyphs" stroke="#000" stroke-width="0.25">200</text>
<line x1="44.3" y1="327.9" x2="46" y2="327.9" stroke="#444" stroke-width="0.6"/>
<text x="68.2" y="344.2" font-size="9.4" text-anchor="middle" font-weight="bold" textLength="12" lengthAdjust="spacingAndGlyphs" stroke="#000" stroke-width="0.2">8°N</text>
<line x1="68.2" y1="330.5" x2="68.2" y2="332.2" stroke="#444" stroke-width="0.6"/>
<text x="111.2" y="344.2" font-size="9.4" text-anchor="middle" font-weight="bold" textLength="16" lengthAdjust="spacingAndGlyphs" stroke="#000" stroke-width="0.2">12°N</text>
<line x1="111.2" y1="330.5" x2="111.2" y2="332.2" stroke="#444" stroke-width="0.6"/>
<text x="154" y="344.2" font-size="9.4" text-anchor="middle" font-weight="bold" textLength="16" lengthAdjust="spacingAndGlyphs" stroke="#000" stroke-width="0.2">16°N</text>
<line x1="154" y1="330.5" x2="154" y2="332.2" stroke="#444" stroke-width="0.6"/>
<text x="196.8" y="344.2" font-size="9.4" text-anchor="middle" font-weight="bold" textLength="16" lengthAdjust="spacingAndGlyphs" stroke="#000" stroke-width="0.2">20°N</text>
<line x1="196.8" y1="330.5" x2="196.8" y2="332.2" stroke="#444" stroke-width="0.6"/>
<text x="245.2" y="344.2" font-size="9.4" text-anchor="middle" font-weight="bold" textLength="12" lengthAdjust="spacingAndGlyphs" stroke="#000" stroke-width="0.2">8°N</text>
<line x1="245.2" y1="330.5" x2="245.2" y2="332.2" stroke="#444" stroke-width="0.6"/>
<text x="288.2" y="344.2" font-size="9.4" text-anchor="middle" font-weight="bold" textLength="16" lengthAdjust="spacingAndGlyphs" stroke="#000" stroke-width="0.2">12°N</text>
<line x1="288.2" y1="330.5" x2="288.2" y2="332.2" stroke="#444" stroke-width="0.6"/>
<text x="331" y="344.2" font-size="9.4" text-anchor="middle" font-weight="bold" textLength="16" lengthAdjust="spacingAndGlyphs" stroke="#000" stroke-width="0.2">16°N</text>
<line x1="331" y1="330.5" x2="331" y2="332.2" stroke="#444" stroke-width="0.6"/>
<text x="373.8" y="344.2" font-size="9.4" text-anchor="middle" font-weight="bold" textLength="16" lengthAdjust="spacingAndGlyphs" stroke="#000" stroke-width="0.2">20°N</text>
<line x1="373.8" y1="330.5" x2="373.8" y2="332.2" stroke="#444" stroke-width="0.6"/>
<text x="422.2" y="344.2" font-size="9.4" text-anchor="middle" font-weight="bold" textLength="12" lengthAdjust="spacingAndGlyphs" stroke="#000" stroke-width="0.2">8°N</text>
<line x1="422.2" y1="330.5" x2="422.2" y2="332.2" stroke="#444" stroke-width="0.6"/>
<text x="465.2" y="344.2" font-size="9.4" text-anchor="middle" font-weight="bold" textLength="16" lengthAdjust="spacingAndGlyphs" stroke="#000" stroke-width="0.2">12°N</text>
<line x1="465.2" y1="330.5" x2="465.2" y2="332.2" stroke="#444" stroke-width="0.6"/>
<text x="508" y="344.2" font-size="9.4" text-anchor="middle" font-weight="bold" textLength="16" lengthAdjust="spacingAndGlyphs" stroke="#000" stroke-width="0.2">16°N</text>
<line x1="508" y1="330.5" x2="508" y2="332.2" stroke="#444" stroke-width="0.6"/>
<text x="550.8" y="344.2" font-size="9.4" text-anchor="middle" font-weight="bold" textLength="16" lengthAdjust="spacingAndGlyphs" stroke="#000" stroke-width="0.2">20°N</text>
<line x1="550.8" y1="330.5" x2="550.8" y2="332.2" stroke="#444" stroke-width="0.6"/>
<text x="313.7" y="356.2" font-size="11" text-anchor="middle" font-weight="bold" textLength="41.2" lengthAdjust="spacingAndGlyphs">Latitude</text>
<text transform="translate(9,84) rotate(-90)" font-size="11" font-weight="bold" text-anchor="middle" textLength="46" lengthAdjust="spacingAndGlyphs">Early SM</text>
<text transform="translate(9.6,183.7) rotate(-90)" font-size="11" font-weight="bold" text-anchor="middle" textLength="44.5" lengthAdjust="spacingAndGlyphs">Peak SM</text>
<text transform="translate(25.8,184.2) rotate(-90)" font-size="11" font-weight="bold" text-anchor="middle" textLength="50.4" lengthAdjust="spacingAndGlyphs">Depth (m)</text>
<text transform="translate(9.6,286.8) rotate(-90)" font-size="11" font-weight="bold" text-anchor="middle" textLength="42" lengthAdjust="spacingAndGlyphs">Late SM</text>
</svg>
</body></html>
